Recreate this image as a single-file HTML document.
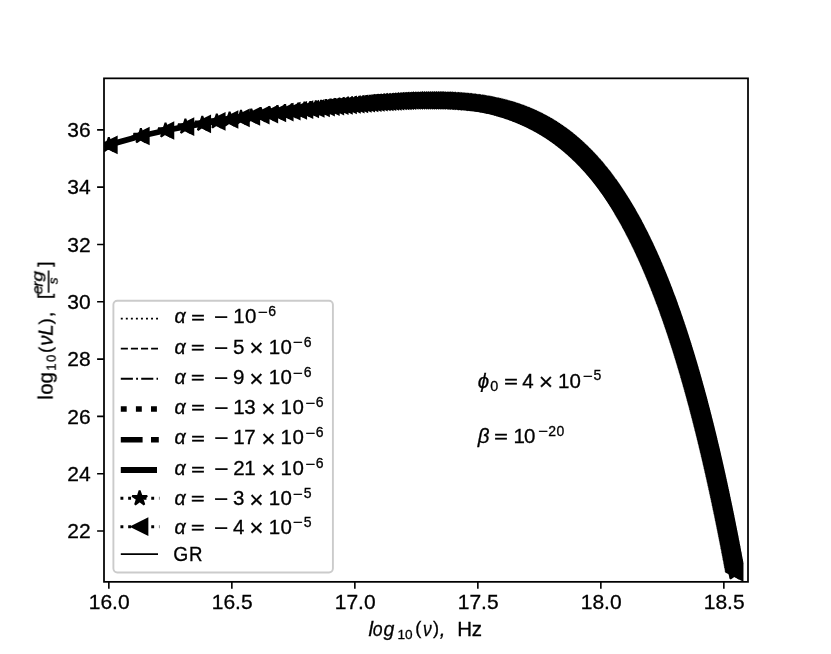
<!DOCTYPE html>
<html><head><meta charset="utf-8"><title>log10(nuL) spectrum</title>
<style>html,body{margin:0;padding:0;background:#fff}svg{display:block}text{will-change:transform}text{font-family:'Liberation Sans',sans-serif;fill:#000;stroke:#000;stroke-width:.3px}</style>
</head><body>
<svg width="831" height="654" viewBox="0 0 831 654">
<rect width="831" height="654" fill="#fff"/>
<defs><clipPath id="ax"><rect x="104.0" y="78.35" width="644.0" height="503.5"/></clipPath></defs>
<g clip-path="url(#ax)">
<path d="M108.8 144.9 140.9 136 165.5 130.5 185.4 126.7 202.3 123.8 216.8 121.4 229.6 119.5 241 117.9 251.3 116.4 260.7 115.2 269.4 114.1 277.4 113 284.8 112.1 291.8 111.2 298.3 110.4 304.5 109.7 310.3 109 315.8 108.4 321.1 107.8 326.1 107.2 330.8 106.7 335.4 106.2 339.8 105.7 344 105.3 348.1 104.9 352 104.5 355.7 104.2 359.4 103.8 362.9 103.5 366.3 103.2 369.6 102.9 372.8 102.7 375.9 102.4 378.9 102.2 381.9 102 384.7 101.8 387.5 101.6 390.2 101.4 392.9 101.3 395.5 101.1 398 101 400.4 100.9 402.9 100.8 405.2 100.7 407.5 100.6 409.8 100.5 412 100.5 414.1 100.4 416.3 100.4 418.3 100.3 420.4 100.3 422.4 100.3 424.4 100.3 426.3 100.3 428.2 100.3 430 100.3 431.9 100.3 433.7 100.4 435.4 100.4 437.2 100.5 438.9 100.5 440.6 100.6 442.2 100.6 443.9 100.7 445.5 100.8 447.1 100.9 448.6 101 450.2 101.1 451.7 101.2 453.2 101.3 454.7 101.4 456.1 101.5 457.6 101.7 459 101.8 460.4 101.9 461.8 102.1 463.1 102.2 464.5 102.4 465.8 102.5 467.1 102.7 468.4 102.8 469.7 103 471 103.2 472.2 103.4 473.4 103.5 474.7 103.7 475.9 103.9 477.1 104.1 478.3 104.3 479.4 104.5 480.6 104.7 481.7 104.9 482.9 105.1 484 105.4 485.1 105.6 486.2 105.8 487.3 106 488.3 106.3 489.4 106.5 490.5 106.7 491.5 107 492.5 107.2 493.6 107.5 494.6 107.7 495.6 108 496.6 108.2 497.6 108.5 498.5 108.7 499.5 109 500.5 109.3 501.4 109.5 502.4 109.8 503.3 110.1 504.2 110.4 505.1 110.7 506.1 110.9 507 111.2 507.8 111.5 508.7 111.8 509.6 112.1 510.5 112.4 511.4 112.7 512.2 113 513.1 113.3 513.9 113.6 514.8 113.9 515.6 114.2 516.4 114.5 517.2 114.8 518 115.2 518.8 115.5 519.7 115.8 520.4 116.1 521.2 116.4 522 116.8 522.8 117.1 523.6 117.4 524.3 117.8 525.1 118.1 525.9 118.4 526.6 118.8 527.3 119.1 528.1 119.4 528.8 119.8 529.6 120.1 530.3 120.5 531 120.8 531.7 121.2 532.4 121.5 533.1 121.9 533.8 122.2 534.5 122.6 535.2 123 535.9 123.3 536.6 123.7 537.3 124 537.9 124.4 538.6 124.8 539.3 125.1 539.9 125.5 540.6 125.9 541.3 126.2 541.9 126.6 542.5 127 543.2 127.4 543.8 127.7 544.5 128.1 545.1 128.5 545.7 128.9 546.3 129.3 547 129.7 547.6 130 548.2 130.4 548.8 130.8 549.4 131.2 550 131.6 550.6 132 551.2 132.4 551.8 132.8 552.4 133.2 553 133.6 553.6 134 554.1 134.4 554.7 134.8 555.3 135.2 555.9 135.6 556.4 136 557 136.4 557.5 136.8 558.1 137.2 558.7 137.6 559.2 138 559.8 138.4 560.3 138.8 560.9 139.2 561.4 139.7 561.9 140.1 562.5 140.5 563 140.9 563.5 141.3 564.1 141.7 564.6 142.2 565.1 142.6 565.6 143 566.1 143.4 566.7 143.9 567.2 144.3 567.7 144.7 568.2 145.1 568.7 145.6 569.2 146 569.7 146.4 570.2 146.8 570.7 147.3 571.2 147.7 571.7 148.1 572.2 148.6 572.7 149 573.1 149.4 573.6 149.9 574.1 150.3 574.6 150.8 575.1 151.2 575.5 151.6 576 152.1 576.5 152.5 576.9 153 577.4 153.4 577.9 153.8 578.3 154.3 578.8 154.7 579.3 155.2 579.7 155.6 580.2 156.1 580.6 156.5 581.1 157 581.5 157.4 582 157.9 582.4 158.3 582.8 158.8 583.3 159.2 583.7 159.7 584.2 160.1 584.6 160.6 585 161 585.5 161.5 585.9 161.9 586.3 162.4 586.8 162.9 587.2 163.3 587.6 163.8 588 164.2 588.4 164.7 588.9 165.2 589.3 165.6 589.7 166.1 590.1 166.5 590.5 167 590.9 167.5 591.3 167.9 591.7 168.4 592.2 168.9 592.6 169.3 593 169.8 593.4 170.3 593.8 170.7 594.2 171.2 594.6 171.7 594.9 172.2 595.3 172.6 595.7 173.1 596.1 173.6 596.5 174 596.9 174.5 597.3 175 597.7 175.5 598.1 175.9 598.4 176.4 598.8 176.9 599.2 177.4 599.6 177.8 600 178.3 600.3 178.8 600.7 179.3 601.1 179.7 601.5 180.2 601.8 180.7 602.2 181.2 602.6 181.7 602.9 182.1 603.3 182.6 603.7 183.1 604 183.6 604.4 184.1 604.7 184.6 605.1 185 605.5 185.5 605.8 186 606.2 186.5 606.5 187 606.9 187.5 607.2 188 607.6 188.4 607.9 188.9 608.3 189.4 609 190.4 609.7 191.4 610.3 192.4 611 193.3 611.7 194.3 612.4 195.3 613 196.3 613.7 197.3 614.4 198.3 615 199.3 615.7 200.3 616.3 201.3 617 202.3 617.6 203.3 618.2 204.3 618.9 205.3 619.5 206.3 620.1 207.3 620.8 208.3 621.4 209.3 622 210.3 622.6 211.3 623.2 212.3 623.8 213.3 624.4 214.4 625 215.4 625.6 216.4 626.2 217.4 626.8 218.4 627.4 219.5 627.9 220.5 628.5 221.5 629.1 222.5 629.7 223.5 630.2 224.6 630.8 225.6 631.4 226.6 631.9 227.7 632.5 228.7 633 229.7 633.6 230.8 634.1 231.8 634.7 232.8 635.2 233.9 635.8 234.9 636.3 236 636.8 237 637.4 238 637.9 239.1 638.4 240.1 638.9 241.2 639.5 242.2 640 243.3 640.5 244.3 641 245.4 641.5 246.4 642 247.5 642.5 248.5 643 249.6 643.5 250.6 644 251.7 644.5 252.7 645 253.8 645.5 254.8 646 255.9 646.5 257 647 258 647.5 259.1 648 260.1 648.4 261.2 648.9 262.3 649.4 263.3 649.9 264.4 650.3 265.4 650.8 266.5 651.3 267.6 651.7 268.7 652.2 269.7 652.7 270.8 653.1 271.9 653.6 272.9 654 274 654.5 275.1 654.9 276.1 655.4 277.2 655.8 278.3 656.3 279.4 656.7 280.4 657.2 281.5 657.6 282.6 658 283.7 658.5 284.8 658.9 285.8 659.3 286.9 659.8 288 660.2 289.1 660.6 290.2 661 291.2 661.5 292.3 661.9 293.4 662.3 294.5 662.7 295.6 663.2 296.7 663.6 297.7 664 298.8 664.4 299.9 664.8 301 665.2 302.1 665.6 303.2 666 304.3 666.4 305.4 666.8 306.4 667.2 307.5 667.6 308.6 668 309.7 668.4 310.8 668.8 311.9 669.2 313 669.6 314.1 670 315.2 670.4 316.3 670.8 317.4 671.2 318.5 671.6 319.6 671.9 320.7 672.3 321.8 672.7 322.9 673.1 324 673.5 325.1 673.8 326.2 674.2 327.3 674.6 328.4 675 329.5 675.3 330.6 675.7 331.7 676.1 332.8 676.5 333.9 676.8 335 677.2 336.1 677.6 337.2 677.9 338.3 678.3 339.4 678.6 340.5 679 341.6 679.4 342.7 679.7 343.8 680.1 344.9 680.4 346 680.8 347.1 681.1 348.3 681.5 349.4 681.8 350.5 682.2 351.6 682.5 352.7 682.9 353.8 683.2 354.9 683.6 356 683.9 357.1 684.3 358.2 684.6 359.4 684.9 360.5 685.3 361.6 685.6 362.7 686 363.8 686.3 364.9 686.6 366 687 367.2 687.3 368.3 687.6 369.4 688 370.5 688.3 371.6 688.6 372.7 688.9 373.9 689.3 375 689.6 376.1 689.9 377.2 690.2 378.3 690.6 379.4 690.9 380.6 691.2 381.7 691.5 382.8 691.8 383.9 692.2 385 692.5 386.2 692.8 387.3 693.1 388.4 693.4 389.5 693.7 390.6 694.1 391.8 694.4 392.9 694.7 394 695 395.1 695.3 396.3 695.6 397.4 695.9 398.5 696.2 399.6 696.5 400.8 696.8 401.9 697.1 403 697.4 404.1 697.7 405.3 698 406.4 698.3 407.5 698.6 408.6 698.9 409.8 699.2 410.9 699.5 412 699.8 413.1 700.1 414.3 700.4 415.4 700.7 416.5 701 417.7 701.3 418.8 701.6 419.9 701.9 421 702.2 422.2 702.4 423.3 702.7 424.4 703 425.6 703.3 426.7 703.6 427.8 703.9 429 704.2 430.1 704.4 431.2 704.7 432.4 705 433.5 705.3 434.6 705.6 435.7 705.9 436.9 706.1 438 706.4 439.1 706.7 440.3 707 441.4 707.2 442.5 707.5 443.7 707.8 444.8 708.1 446 708.3 447.1 708.6 448.2 708.9 449.4 709.2 450.5 709.4 451.6 709.7 452.8 710 453.9 710.2 455 710.5 456.2 710.8 457.3 711 458.4 711.3 459.6 711.6 460.7 711.8 461.9 712.1 463 712.4 464.1 712.6 465.3 712.9 466.4 713.1 467.5 713.4 468.7 713.7 469.8 713.9 471 714.2 472.1 714.4 473.2 714.7 474.4 715 475.5 715.2 476.7 715.5 477.8 715.7 478.9 716 480.1 716.2 481.2 716.5 482.4 716.7 483.5 717 484.6 717.2 485.8 717.5 486.9 717.7 488.1 718 489.2 718.2 490.3 718.5 491.5 718.7 492.6 719 493.8 719.2 494.9 719.5 496.1 719.7 497.2 720 498.3 720.2 499.5 720.5 500.6 720.7 501.8 720.9 502.9 721.2 504.1 721.4 505.2 721.7 506.3 721.9 507.5 722.1 508.6 722.4 509.8 722.6 510.9 722.9 512.1 723.1 513.2 723.3 514.4 723.6 515.5 723.8 516.6 724 517.8 724.3 518.9 724.5 520.1 724.8 521.2 725 522.4 725.2 523.5 725.5 524.7 725.7 525.8 725.9 527 726.1 528.1 726.4 529.2 726.6 530.4 726.8 531.5 727.1 532.7 727.3 533.8 727.5 535 727.8 536.1 728 537.3 728.2 538.4 728.4 539.6 728.7 540.7 728.9 541.9 729.1 543 729.3 544.2 729.6 545.3 729.8 546.5 730 547.6 730.2 548.8 730.4 549.9 730.7 551.1 730.9 552.2 731.1 553.4 731.3 554.5 731.6 555.7 731.8 556.8 732 558 732.2 559.1 732.4 560.3 732.6 561.4 732.9 562.6 733.1 563.7 733.3 564.9 733.5 566 733.7 567.2 733.9 568.3 734.2 569.5 734.4 570.6 734.6 571.8 734.7 572.3" fill="none" stroke="#000" stroke-width="5.83" stroke-linejoin="round"/>
<path d="M101.1 144.9l15.6-7.8v15.6zM133.1 136l15.6-7.8v15.6zM157.7 130.5l15.6-7.8v15.6zM177.7 126.7l15.6-7.8v15.6zM194.5 123.8l15.6-7.8v15.6zM209 121.4l15.6-7.8v15.6zM221.8 119.5l15.6-7.8v15.6zM233.2 117.9l15.6-7.8v15.6zM243.6 116.4l15.6-7.8v15.6zM253 115.2l15.6-7.8v15.6zM261.6 114.1l15.6-7.8v15.6zM269.6 113l15.6-7.8v15.6zM277 112.1l15.6-7.8v15.6zM284 111.2l15.6-7.8v15.6zM290.5 110.4l15.6-7.8v15.6zM296.7 109.7l15.6-7.8v15.6zM302.5 109l15.6-7.8v15.6zM308 108.4l15.6-7.8v15.6zM313.3 107.8l15.6-7.8v15.6zM318.3 107.2l15.6-7.8v15.6zM323.1 106.7l15.6-7.8v15.6zM327.6 106.2l15.6-7.8v15.6zM332 105.7l15.6-7.8v15.6zM336.2 105.3l15.6-7.8v15.6zM340.3 104.9l15.6-7.8v15.6zM344.2 104.5l15.6-7.8v15.6zM348 104.2l15.6-7.8v15.6zM351.6 103.8l15.6-7.8v15.6zM355.1 103.5l15.6-7.8v15.6zM358.5 103.2l15.6-7.8v15.6zM361.8 102.9l15.6-7.8v15.6zM365 102.7l15.6-7.8v15.6zM368.1 102.4l15.6-7.8v15.6zM371.2 102.2l15.6-7.8v15.6zM374.1 102l15.6-7.8v15.6zM377 101.8l15.6-7.8v15.6zM379.7 101.6l15.6-7.8v15.6zM382.5 101.4l15.6-7.8v15.6zM385.1 101.3l15.6-7.8v15.6zM387.7 101.1l15.6-7.8v15.6zM390.2 101l15.6-7.8v15.6zM392.7 100.9l15.6-7.8v15.6zM395.1 100.8l15.6-7.8v15.6zM397.4 100.7l15.6-7.8v15.6zM399.7 100.6l15.6-7.8v15.6zM402 100.5l15.6-7.8v15.6zM404.2 100.5l15.6-7.8v15.6zM406.4 100.4l15.6-7.8v15.6zM408.5 100.4l15.6-7.8v15.6zM410.6 100.3l15.6-7.8v15.6zM412.6 100.3l15.6-7.8v15.6zM414.6 100.3l15.6-7.8v15.6zM416.6 100.3l15.6-7.8v15.6zM418.5 100.3l15.6-7.8v15.6zM420.4 100.3l15.6-7.8v15.6zM422.3 100.3l15.6-7.8v15.6zM424.1 100.3l15.6-7.8v15.6zM425.9 100.4l15.6-7.8v15.6zM427.7 100.4l15.6-7.8v15.6zM429.4 100.5l15.6-7.8v15.6zM431.1 100.5l15.6-7.8v15.6zM432.8 100.6l15.6-7.8v15.6zM434.5 100.6l15.6-7.8v15.6zM436.1 100.7l15.6-7.8v15.6zM437.7 100.8l15.6-7.8v15.6zM439.3 100.9l15.6-7.8v15.6zM440.9 101l15.6-7.8v15.6zM442.4 101.1l15.6-7.8v15.6zM443.9 101.2l15.6-7.8v15.6zM445.4 101.3l15.6-7.8v15.6zM446.9 101.4l15.6-7.8v15.6zM448.3 101.5l15.6-7.8v15.6zM449.8 101.7l15.6-7.8v15.6zM451.2 101.8l15.6-7.8v15.6zM452.6 101.9l15.6-7.8v15.6zM454 102.1l15.6-7.8v15.6zM455.3 102.2l15.6-7.8v15.6zM456.7 102.4l15.6-7.8v15.6zM458 102.5l15.6-7.8v15.6zM459.3 102.7l15.6-7.8v15.6zM460.6 102.8l15.6-7.8v15.6zM461.9 103l15.6-7.8v15.6zM463.2 103.2l15.6-7.8v15.6zM464.4 103.4l15.6-7.8v15.6zM465.7 103.5l15.6-7.8v15.6zM466.9 103.7l15.6-7.8v15.6zM468.1 103.9l15.6-7.8v15.6zM469.3 104.1l15.6-7.8v15.6zM470.5 104.3l15.6-7.8v15.6zM471.6 104.5l15.6-7.8v15.6zM472.8 104.7l15.6-7.8v15.6zM473.9 104.9l15.6-7.8v15.6zM475.1 105.1l15.6-7.8v15.6zM476.2 105.4l15.6-7.8v15.6zM477.3 105.6l15.6-7.8v15.6zM478.4 105.8l15.6-7.8v15.6zM479.5 106l15.6-7.8v15.6zM480.6 106.3l15.6-7.8v15.6zM481.6 106.5l15.6-7.8v15.6zM482.7 106.7l15.6-7.8v15.6zM483.7 107l15.6-7.8v15.6zM484.8 107.2l15.6-7.8v15.6zM485.8 107.5l15.6-7.8v15.6zM486.8 107.7l15.6-7.8v15.6zM487.8 108l15.6-7.8v15.6zM488.8 108.2l15.6-7.8v15.6zM489.8 108.5l15.6-7.8v15.6zM490.8 108.7l15.6-7.8v15.6zM491.7 109l15.6-7.8v15.6zM492.7 109.3l15.6-7.8v15.6zM493.6 109.5l15.6-7.8v15.6zM494.6 109.8l15.6-7.8v15.6zM495.5 110.1l15.6-7.8v15.6zM496.4 110.4l15.6-7.8v15.6zM497.4 110.7l15.6-7.8v15.6zM498.3 110.9l15.6-7.8v15.6zM499.2 111.2l15.6-7.8v15.6zM500.1 111.5l15.6-7.8v15.6zM501 111.8l15.6-7.8v15.6zM501.8 112.1l15.6-7.8v15.6zM502.7 112.4l15.6-7.8v15.6zM503.6 112.7l15.6-7.8v15.6zM504.4 113l15.6-7.8v15.6zM505.3 113.3l15.6-7.8v15.6zM506.1 113.6l15.6-7.8v15.6zM507 113.9l15.6-7.8v15.6zM507.8 114.2l15.6-7.8v15.6zM508.6 114.5l15.6-7.8v15.6zM509.5 114.8l15.6-7.8v15.6zM510.3 115.2l15.6-7.8v15.6zM511.1 115.5l15.6-7.8v15.6zM511.9 115.8l15.6-7.8v15.6zM512.7 116.1l15.6-7.8v15.6zM513.5 116.4l15.6-7.8v15.6zM514.2 116.8l15.6-7.8v15.6zM515 117.1l15.6-7.8v15.6zM515.8 117.4l15.6-7.8v15.6zM516.6 117.8l15.6-7.8v15.6zM517.3 118.1l15.6-7.8v15.6zM518.1 118.4l15.6-7.8v15.6zM518.8 118.8l15.6-7.8v15.6zM519.6 119.1l15.6-7.8v15.6zM520.3 119.4l15.6-7.8v15.6zM521 119.8l15.6-7.8v15.6zM521.8 120.1l15.6-7.8v15.6zM522.5 120.5l15.6-7.8v15.6zM523.2 120.8l15.6-7.8v15.6zM523.9 121.2l15.6-7.8v15.6zM524.6 121.5l15.6-7.8v15.6zM525.4 121.9l15.6-7.8v15.6zM526.1 122.2l15.6-7.8v15.6zM526.7 122.6l15.6-7.8v15.6zM527.4 123l15.6-7.8v15.6zM528.1 123.3l15.6-7.8v15.6zM528.8 123.7l15.6-7.8v15.6zM529.5 124l15.6-7.8v15.6zM530.2 124.4l15.6-7.8v15.6zM530.8 124.8l15.6-7.8v15.6zM531.5 125.1l15.6-7.8v15.6zM532.2 125.5l15.6-7.8v15.6zM532.8 125.9l15.6-7.8v15.6zM533.5 126.2l15.6-7.8v15.6zM534.1 126.6l15.6-7.8v15.6zM534.8 127l15.6-7.8v15.6zM535.4 127.4l15.6-7.8v15.6zM536.1 127.7l15.6-7.8v15.6zM536.7 128.1l15.6-7.8v15.6zM537.3 128.5l15.6-7.8v15.6zM537.9 128.9l15.6-7.8v15.6zM538.6 129.3l15.6-7.8v15.6zM539.2 129.7l15.6-7.8v15.6zM539.8 130l15.6-7.8v15.6zM540.4 130.4l15.6-7.8v15.6zM541 130.8l15.6-7.8v15.6zM541.6 131.2l15.6-7.8v15.6zM542.2 131.6l15.6-7.8v15.6zM542.8 132l15.6-7.8v15.6zM543.4 132.4l15.6-7.8v15.6zM544 132.8l15.6-7.8v15.6zM544.6 133.2l15.6-7.8v15.6zM545.2 133.6l15.6-7.8v15.6zM545.8 134l15.6-7.8v15.6zM546.4 134.4l15.6-7.8v15.6zM546.9 134.8l15.6-7.8v15.6zM547.5 135.2l15.6-7.8v15.6zM548.1 135.6l15.6-7.8v15.6zM548.6 136l15.6-7.8v15.6zM549.2 136.4l15.6-7.8v15.6zM549.8 136.8l15.6-7.8v15.6zM550.3 137.2l15.6-7.8v15.6zM550.9 137.6l15.6-7.8v15.6zM551.4 138l15.6-7.8v15.6zM552 138.4l15.6-7.8v15.6zM552.5 138.8l15.6-7.8v15.6zM553.1 139.2l15.6-7.8v15.6zM553.6 139.7l15.6-7.8v15.6zM554.2 140.1l15.6-7.8v15.6zM554.7 140.5l15.6-7.8v15.6zM555.2 140.9l15.6-7.8v15.6zM555.8 141.3l15.6-7.8v15.6zM556.3 141.7l15.6-7.8v15.6zM556.8 142.2l15.6-7.8v15.6zM557.3 142.6l15.6-7.8v15.6zM557.9 143l15.6-7.8v15.6zM558.4 143.4l15.6-7.8v15.6zM558.9 143.9l15.6-7.8v15.6zM559.4 144.3l15.6-7.8v15.6zM559.9 144.7l15.6-7.8v15.6zM560.4 145.1l15.6-7.8v15.6zM560.9 145.6l15.6-7.8v15.6zM561.4 146l15.6-7.8v15.6zM561.9 146.4l15.6-7.8v15.6zM562.4 146.8l15.6-7.8v15.6zM562.9 147.3l15.6-7.8v15.6zM563.4 147.7l15.6-7.8v15.6zM563.9 148.1l15.6-7.8v15.6zM564.4 148.6l15.6-7.8v15.6zM564.9 149l15.6-7.8v15.6zM565.4 149.4l15.6-7.8v15.6zM565.9 149.9l15.6-7.8v15.6zM566.3 150.3l15.6-7.8v15.6zM566.8 150.8l15.6-7.8v15.6zM567.3 151.2l15.6-7.8v15.6zM567.8 151.6l15.6-7.8v15.6zM568.2 152.1l15.6-7.8v15.6zM568.7 152.5l15.6-7.8v15.6zM569.2 153l15.6-7.8v15.6zM569.6 153.4l15.6-7.8v15.6zM570.1 153.8l15.6-7.8v15.6zM570.6 154.3l15.6-7.8v15.6zM571 154.7l15.6-7.8v15.6zM571.5 155.2l15.6-7.8v15.6zM571.9 155.6l15.6-7.8v15.6zM572.4 156.1l15.6-7.8v15.6zM572.8 156.5l15.6-7.8v15.6zM573.3 157l15.6-7.8v15.6zM573.7 157.4l15.6-7.8v15.6zM574.2 157.9l15.6-7.8v15.6zM574.6 158.3l15.6-7.8v15.6zM575.1 158.8l15.6-7.8v15.6zM575.5 159.2l15.6-7.8v15.6zM576 159.7l15.6-7.8v15.6zM576.4 160.1l15.6-7.8v15.6zM576.8 160.6l15.6-7.8v15.6zM577.3 161l15.6-7.8v15.6zM577.7 161.5l15.6-7.8v15.6zM578.1 161.9l15.6-7.8v15.6zM578.5 162.4l15.6-7.8v15.6zM579 162.9l15.6-7.8v15.6zM579.4 163.3l15.6-7.8v15.6zM579.8 163.8l15.6-7.8v15.6zM580.2 164.2l15.6-7.8v15.6zM580.7 164.7l15.6-7.8v15.6zM581.1 165.2l15.6-7.8v15.6zM581.5 165.6l15.6-7.8v15.6zM581.9 166.1l15.6-7.8v15.6zM582.3 166.5l15.6-7.8v15.6zM582.7 167l15.6-7.8v15.6zM583.2 167.5l15.6-7.8v15.6zM583.6 167.9l15.6-7.8v15.6zM584 168.4l15.6-7.8v15.6zM584.4 168.9l15.6-7.8v15.6zM584.8 169.3l15.6-7.8v15.6zM585.2 169.8l15.6-7.8v15.6zM585.6 170.3l15.6-7.8v15.6zM586 170.7l15.6-7.8v15.6zM586.4 171.2l15.6-7.8v15.6zM586.8 171.7l15.6-7.8v15.6zM587.2 172.2l15.6-7.8v15.6zM587.6 172.6l15.6-7.8v15.6zM588 173.1l15.6-7.8v15.6zM588.3 173.6l15.6-7.8v15.6zM588.7 174l15.6-7.8v15.6zM589.1 174.5l15.6-7.8v15.6zM589.5 175l15.6-7.8v15.6zM589.9 175.5l15.6-7.8v15.6zM590.3 175.9l15.6-7.8v15.6zM590.7 176.4l15.6-7.8v15.6zM591 176.9l15.6-7.8v15.6zM591.4 177.4l15.6-7.8v15.6zM591.8 177.8l15.6-7.8v15.6zM592.2 178.3l15.6-7.8v15.6zM592.6 178.8l15.6-7.8v15.6zM592.9 179.3l15.6-7.8v15.6zM593.3 179.7l15.6-7.8v15.6zM593.7 180.2l15.6-7.8v15.6zM594 180.7l15.6-7.8v15.6zM594.4 181.2l15.6-7.8v15.6zM594.8 181.7l15.6-7.8v15.6zM595.1 182.1l15.6-7.8v15.6zM595.5 182.6l15.6-7.8v15.6zM595.9 183.1l15.6-7.8v15.6zM596.2 183.6l15.6-7.8v15.6zM596.6 184.1l15.6-7.8v15.6zM597 184.6l15.6-7.8v15.6zM597.3 185l15.6-7.8v15.6zM597.7 185.5l15.6-7.8v15.6zM598 186l15.6-7.8v15.6zM598.4 186.5l15.6-7.8v15.6zM598.7 187l15.6-7.8v15.6zM599.1 187.5l15.6-7.8v15.6zM599.5 188l15.6-7.8v15.6zM599.8 188.4l15.6-7.8v15.6zM600.2 188.9l15.6-7.8v15.6zM600.5 189.4l15.6-7.8v15.6zM600.8 189.9l15.6-7.8v15.6zM601.2 190.4l15.6-7.8v15.6zM601.5 190.9l15.6-7.8v15.6zM601.9 191.4l15.6-7.8v15.6zM602.2 191.9l15.6-7.8v15.6zM602.6 192.4l15.6-7.8v15.6zM602.9 192.9l15.6-7.8v15.6zM603.3 193.3l15.6-7.8v15.6zM603.6 193.8l15.6-7.8v15.6zM603.9 194.3l15.6-7.8v15.6zM604.3 194.8l15.6-7.8v15.6zM604.6 195.3l15.6-7.8v15.6zM604.9 195.8l15.6-7.8v15.6zM605.3 196.3l15.6-7.8v15.6zM605.6 196.8l15.6-7.8v15.6zM605.9 197.3l15.6-7.8v15.6zM606.3 197.8l15.6-7.8v15.6zM606.6 198.3l15.6-7.8v15.6zM606.9 198.8l15.6-7.8v15.6zM607.2 199.3l15.6-7.8v15.6zM607.6 199.8l15.6-7.8v15.6zM607.9 200.3l15.6-7.8v15.6zM608.2 200.8l15.6-7.8v15.6zM608.5 201.3l15.6-7.8v15.6zM608.9 201.8l15.6-7.8v15.6zM609.2 202.3l15.6-7.8v15.6zM609.5 202.8l15.6-7.8v15.6zM609.8 203.3l15.6-7.8v15.6zM610.1 203.8l15.6-7.8v15.6zM610.5 204.3l15.6-7.8v15.6zM610.8 204.8l15.6-7.8v15.6zM611.1 205.3l15.6-7.8v15.6zM611.4 205.8l15.6-7.8v15.6zM611.7 206.3l15.6-7.8v15.6zM612 206.8l15.6-7.8v15.6zM612.4 207.3l15.6-7.8v15.6zM612.7 207.8l15.6-7.8v15.6zM613 208.3l15.6-7.8v15.6zM613.3 208.8l15.6-7.8v15.6zM613.6 209.3l15.6-7.8v15.6zM613.9 209.8l15.6-7.8v15.6zM614.2 210.3l15.6-7.8v15.6zM614.5 210.8l15.6-7.8v15.6zM614.8 211.3l15.6-7.8v15.6zM615.1 211.8l15.6-7.8v15.6zM615.4 212.3l15.6-7.8v15.6zM615.7 212.8l15.6-7.8v15.6zM616 213.3l15.6-7.8v15.6zM616.3 213.9l15.6-7.8v15.6zM616.6 214.4l15.6-7.8v15.6zM616.9 214.9l15.6-7.8v15.6zM617.2 215.4l15.6-7.8v15.6zM617.5 215.9l15.6-7.8v15.6zM617.8 216.4l15.6-7.8v15.6zM618.1 216.9l15.6-7.8v15.6zM618.4 217.4l15.6-7.8v15.6zM618.7 217.9l15.6-7.8v15.6zM619 218.4l15.6-7.8v15.6zM619.3 218.9l15.6-7.8v15.6zM619.6 219.5l15.6-7.8v15.6zM619.9 220l15.6-7.8v15.6zM620.2 220.5l15.6-7.8v15.6zM620.5 221l15.6-7.8v15.6zM620.7 221.5l15.6-7.8v15.6zM621 222l15.6-7.8v15.6zM621.3 222.5l15.6-7.8v15.6zM621.6 223l15.6-7.8v15.6zM621.9 223.5l15.6-7.8v15.6zM622.2 224.1l15.6-7.8v15.6zM622.5 224.6l15.6-7.8v15.6zM622.7 225.1l15.6-7.8v15.6zM623 225.6l15.6-7.8v15.6zM623.3 226.1l15.6-7.8v15.6zM623.6 226.6l15.6-7.8v15.6zM623.9 227.2l15.6-7.8v15.6zM624.1 227.7l15.6-7.8v15.6zM624.4 228.2l15.6-7.8v15.6zM624.7 228.7l15.6-7.8v15.6zM625 229.2l15.6-7.8v15.6zM625.3 229.7l15.6-7.8v15.6zM625.5 230.2l15.6-7.8v15.6zM625.8 230.8l15.6-7.8v15.6zM626.1 231.3l15.6-7.8v15.6zM626.4 231.8l15.6-7.8v15.6zM626.6 232.3l15.6-7.8v15.6zM626.9 232.8l15.6-7.8v15.6zM627.2 233.4l15.6-7.8v15.6zM627.4 233.9l15.6-7.8v15.6zM627.7 234.4l15.6-7.8v15.6zM628 234.9l15.6-7.8v15.6zM628.2 235.4l15.6-7.8v15.6zM628.5 236l15.6-7.8v15.6zM628.8 236.5l15.6-7.8v15.6zM629.1 237l15.6-7.8v15.6zM629.3 237.5l15.6-7.8v15.6zM629.6 238l15.6-7.8v15.6zM629.8 238.6l15.6-7.8v15.6zM630.1 239.1l15.6-7.8v15.6zM630.4 239.6l15.6-7.8v15.6zM630.6 240.1l15.6-7.8v15.6zM630.9 240.6l15.6-7.8v15.6zM631.2 241.2l15.6-7.8v15.6zM631.4 241.7l15.6-7.8v15.6zM631.7 242.2l15.6-7.8v15.6zM631.9 242.7l15.6-7.8v15.6zM632.2 243.3l15.6-7.8v15.6zM632.5 243.8l15.6-7.8v15.6zM632.7 244.3l15.6-7.8v15.6zM633 244.8l15.6-7.8v15.6zM633.2 245.4l15.6-7.8v15.6zM633.5 245.9l15.6-7.8v15.6zM633.7 246.4l15.6-7.8v15.6zM634 246.9l15.6-7.8v15.6zM634.3 247.5l15.6-7.8v15.6zM634.5 248l15.6-7.8v15.6zM634.8 248.5l15.6-7.8v15.6zM635 249l15.6-7.8v15.6zM635.3 249.6l15.6-7.8v15.6zM635.5 250.1l15.6-7.8v15.6zM635.8 250.6l15.6-7.8v15.6zM636 251.1l15.6-7.8v15.6zM636.3 251.7l15.6-7.8v15.6zM636.5 252.2l15.6-7.8v15.6zM636.8 252.7l15.6-7.8v15.6zM637 253.2l15.6-7.8v15.6zM637.3 253.8l15.6-7.8v15.6zM637.5 254.3l15.6-7.8v15.6zM637.7 254.8l15.6-7.8v15.6zM638 255.4l15.6-7.8v15.6zM638.2 255.9l15.6-7.8v15.6zM638.5 256.4l15.6-7.8v15.6zM638.7 257l15.6-7.8v15.6zM639 257.5l15.6-7.8v15.6zM639.2 258l15.6-7.8v15.6zM639.5 258.5l15.6-7.8v15.6zM639.7 259.1l15.6-7.8v15.6zM639.9 259.6l15.6-7.8v15.6zM640.2 260.1l15.6-7.8v15.6zM640.4 260.7l15.6-7.8v15.6zM640.7 261.2l15.6-7.8v15.6zM640.9 261.7l15.6-7.8v15.6zM641.1 262.3l15.6-7.8v15.6zM641.4 262.8l15.6-7.8v15.6zM641.6 263.3l15.6-7.8v15.6zM641.8 263.9l15.6-7.8v15.6zM642.1 264.4l15.6-7.8v15.6zM642.3 264.9l15.6-7.8v15.6zM642.6 265.4l15.6-7.8v15.6zM642.8 266l15.6-7.8v15.6zM643 266.5l15.6-7.8v15.6zM643.3 267l15.6-7.8v15.6zM643.5 267.6l15.6-7.8v15.6zM643.7 268.1l15.6-7.8v15.6zM644 268.7l15.6-7.8v15.6zM644.2 269.2l15.6-7.8v15.6zM644.4 269.7l15.6-7.8v15.6zM644.6 270.3l15.6-7.8v15.6zM644.9 270.8l15.6-7.8v15.6zM645.1 271.3l15.6-7.8v15.6zM645.3 271.9l15.6-7.8v15.6zM645.6 272.4l15.6-7.8v15.6zM645.8 272.9l15.6-7.8v15.6zM646 273.5l15.6-7.8v15.6zM646.2 274l15.6-7.8v15.6zM646.5 274.5l15.6-7.8v15.6zM646.7 275.1l15.6-7.8v15.6zM646.9 275.6l15.6-7.8v15.6zM647.1 276.1l15.6-7.8v15.6zM647.4 276.7l15.6-7.8v15.6zM647.6 277.2l15.6-7.8v15.6zM647.8 277.8l15.6-7.8v15.6zM648 278.3l15.6-7.8v15.6zM648.3 278.8l15.6-7.8v15.6zM648.5 279.4l15.6-7.8v15.6zM648.7 279.9l15.6-7.8v15.6zM648.9 280.4l15.6-7.8v15.6zM649.2 281l15.6-7.8v15.6zM649.4 281.5l15.6-7.8v15.6zM649.6 282.1l15.6-7.8v15.6zM649.8 282.6l15.6-7.8v15.6zM650 283.1l15.6-7.8v15.6zM650.3 283.7l15.6-7.8v15.6zM650.5 284.2l15.6-7.8v15.6zM650.7 284.8l15.6-7.8v15.6zM650.9 285.3l15.6-7.8v15.6zM651.1 285.8l15.6-7.8v15.6zM651.3 286.4l15.6-7.8v15.6zM651.6 286.9l15.6-7.8v15.6zM651.8 287.4l15.6-7.8v15.6zM652 288l15.6-7.8v15.6zM652.2 288.5l15.6-7.8v15.6zM652.4 289.1l15.6-7.8v15.6zM652.6 289.6l15.6-7.8v15.6zM652.8 290.2l15.6-7.8v15.6zM653.1 290.7l15.6-7.8v15.6zM653.3 291.2l15.6-7.8v15.6zM653.5 291.8l15.6-7.8v15.6zM653.7 292.3l15.6-7.8v15.6zM653.9 292.9l15.6-7.8v15.6zM654.1 293.4l15.6-7.8v15.6zM654.3 293.9l15.6-7.8v15.6zM654.5 294.5l15.6-7.8v15.6zM654.7 295l15.6-7.8v15.6zM655 295.6l15.6-7.8v15.6zM655.2 296.1l15.6-7.8v15.6zM655.4 296.7l15.6-7.8v15.6zM655.6 297.2l15.6-7.8v15.6zM655.8 297.7l15.6-7.8v15.6zM656 298.3l15.6-7.8v15.6zM656.2 298.8l15.6-7.8v15.6zM656.4 299.4l15.6-7.8v15.6zM656.6 299.9l15.6-7.8v15.6zM656.8 300.5l15.6-7.8v15.6zM657 301l15.6-7.8v15.6zM657.2 301.5l15.6-7.8v15.6zM657.4 302.1l15.6-7.8v15.6zM657.6 302.6l15.6-7.8v15.6zM657.8 303.2l15.6-7.8v15.6zM658 303.7l15.6-7.8v15.6zM658.3 304.3l15.6-7.8v15.6zM658.5 304.8l15.6-7.8v15.6zM658.7 305.4l15.6-7.8v15.6zM658.9 305.9l15.6-7.8v15.6zM659.1 306.4l15.6-7.8v15.6zM659.3 307l15.6-7.8v15.6zM659.5 307.5l15.6-7.8v15.6zM659.7 308.1l15.6-7.8v15.6zM659.9 308.6l15.6-7.8v15.6zM660.1 309.2l15.6-7.8v15.6zM660.3 309.7l15.6-7.8v15.6zM660.5 310.3l15.6-7.8v15.6zM660.7 310.8l15.6-7.8v15.6zM660.9 311.4l15.6-7.8v15.6zM661.1 311.9l15.6-7.8v15.6zM661.3 312.5l15.6-7.8v15.6zM661.4 313l15.6-7.8v15.6zM661.6 313.5l15.6-7.8v15.6zM661.8 314.1l15.6-7.8v15.6zM662 314.6l15.6-7.8v15.6zM662.2 315.2l15.6-7.8v15.6zM662.4 315.7l15.6-7.8v15.6zM662.6 316.3l15.6-7.8v15.6zM662.8 316.8l15.6-7.8v15.6zM663 317.4l15.6-7.8v15.6zM663.2 317.9l15.6-7.8v15.6zM663.4 318.5l15.6-7.8v15.6zM663.6 319l15.6-7.8v15.6zM663.8 319.6l15.6-7.8v15.6zM664 320.1l15.6-7.8v15.6zM664.2 320.7l15.6-7.8v15.6zM664.4 321.2l15.6-7.8v15.6zM664.6 321.8l15.6-7.8v15.6zM664.7 322.3l15.6-7.8v15.6zM664.9 322.9l15.6-7.8v15.6zM665.1 323.4l15.6-7.8v15.6zM665.3 324l15.6-7.8v15.6zM665.5 324.5l15.6-7.8v15.6zM665.7 325.1l15.6-7.8v15.6zM665.9 325.6l15.6-7.8v15.6zM666.1 326.2l15.6-7.8v15.6zM666.3 326.7l15.6-7.8v15.6zM666.4 327.3l15.6-7.8v15.6zM666.6 327.8l15.6-7.8v15.6zM666.8 328.4l15.6-7.8v15.6zM667 328.9l15.6-7.8v15.6zM667.2 329.5l15.6-7.8v15.6zM667.4 330l15.6-7.8v15.6zM667.6 330.6l15.6-7.8v15.6zM667.8 331.1l15.6-7.8v15.6zM667.9 331.7l15.6-7.8v15.6zM668.1 332.2l15.6-7.8v15.6zM668.3 332.8l15.6-7.8v15.6zM668.5 333.3l15.6-7.8v15.6zM668.7 333.9l15.6-7.8v15.6zM668.9 334.4l15.6-7.8v15.6zM669 335l15.6-7.8v15.6zM669.2 335.5l15.6-7.8v15.6zM669.4 336.1l15.6-7.8v15.6zM669.6 336.6l15.6-7.8v15.6zM669.8 337.2l15.6-7.8v15.6zM670 337.7l15.6-7.8v15.6zM670.1 338.3l15.6-7.8v15.6zM670.3 338.8l15.6-7.8v15.6zM670.5 339.4l15.6-7.8v15.6zM670.7 339.9l15.6-7.8v15.6zM670.9 340.5l15.6-7.8v15.6zM671 341.1l15.6-7.8v15.6zM671.2 341.6l15.6-7.8v15.6zM671.4 342.2l15.6-7.8v15.6zM671.6 342.7l15.6-7.8v15.6zM671.8 343.3l15.6-7.8v15.6zM671.9 343.8l15.6-7.8v15.6zM672.1 344.4l15.6-7.8v15.6zM672.3 344.9l15.6-7.8v15.6zM672.5 345.5l15.6-7.8v15.6zM672.6 346l15.6-7.8v15.6zM672.8 346.6l15.6-7.8v15.6zM673 347.1l15.6-7.8v15.6zM673.2 347.7l15.6-7.8v15.6zM673.4 348.3l15.6-7.8v15.6zM673.5 348.8l15.6-7.8v15.6zM673.7 349.4l15.6-7.8v15.6zM673.9 349.9l15.6-7.8v15.6zM674.1 350.5l15.6-7.8v15.6zM674.2 351l15.6-7.8v15.6zM674.4 351.6l15.6-7.8v15.6zM674.6 352.1l15.6-7.8v15.6zM674.8 352.7l15.6-7.8v15.6zM674.9 353.2l15.6-7.8v15.6zM675.1 353.8l15.6-7.8v15.6zM675.3 354.4l15.6-7.8v15.6zM675.4 354.9l15.6-7.8v15.6zM675.6 355.5l15.6-7.8v15.6zM675.8 356l15.6-7.8v15.6zM676 356.6l15.6-7.8v15.6zM676.1 357.1l15.6-7.8v15.6zM676.3 357.7l15.6-7.8v15.6zM676.5 358.2l15.6-7.8v15.6zM676.6 358.8l15.6-7.8v15.6zM676.8 359.4l15.6-7.8v15.6zM677 359.9l15.6-7.8v15.6zM677.2 360.5l15.6-7.8v15.6zM677.3 361l15.6-7.8v15.6zM677.5 361.6l15.6-7.8v15.6zM677.7 362.1l15.6-7.8v15.6zM677.8 362.7l15.6-7.8v15.6zM678 363.3l15.6-7.8v15.6zM678.2 363.8l15.6-7.8v15.6zM678.3 364.4l15.6-7.8v15.6zM678.5 364.9l15.6-7.8v15.6zM678.7 365.5l15.6-7.8v15.6zM678.8 366l15.6-7.8v15.6zM679 366.6l15.6-7.8v15.6zM679.2 367.2l15.6-7.8v15.6zM679.3 367.7l15.6-7.8v15.6zM679.5 368.3l15.6-7.8v15.6zM679.7 368.8l15.6-7.8v15.6zM679.8 369.4l15.6-7.8v15.6zM680 369.9l15.6-7.8v15.6zM680.2 370.5l15.6-7.8v15.6zM680.3 371.1l15.6-7.8v15.6zM680.5 371.6l15.6-7.8v15.6zM680.7 372.2l15.6-7.8v15.6zM680.8 372.7l15.6-7.8v15.6zM681 373.3l15.6-7.8v15.6zM681.2 373.9l15.6-7.8v15.6zM681.3 374.4l15.6-7.8v15.6zM681.5 375l15.6-7.8v15.6zM681.7 375.5l15.6-7.8v15.6zM681.8 376.1l15.6-7.8v15.6zM682 376.6l15.6-7.8v15.6zM682.1 377.2l15.6-7.8v15.6zM682.3 377.8l15.6-7.8v15.6zM682.5 378.3l15.6-7.8v15.6zM682.6 378.9l15.6-7.8v15.6zM682.8 379.4l15.6-7.8v15.6zM682.9 380l15.6-7.8v15.6zM683.1 380.6l15.6-7.8v15.6zM683.3 381.1l15.6-7.8v15.6zM683.4 381.7l15.6-7.8v15.6zM683.6 382.2l15.6-7.8v15.6zM683.7 382.8l15.6-7.8v15.6zM683.9 383.4l15.6-7.8v15.6zM684.1 383.9l15.6-7.8v15.6zM684.2 384.5l15.6-7.8v15.6zM684.4 385l15.6-7.8v15.6zM684.5 385.6l15.6-7.8v15.6zM684.7 386.2l15.6-7.8v15.6zM684.9 386.7l15.6-7.8v15.6zM685 387.3l15.6-7.8v15.6zM685.2 387.8l15.6-7.8v15.6zM685.3 388.4l15.6-7.8v15.6zM685.5 389l15.6-7.8v15.6zM685.6 389.5l15.6-7.8v15.6zM685.8 390.1l15.6-7.8v15.6zM686 390.6l15.6-7.8v15.6zM686.1 391.2l15.6-7.8v15.6zM686.3 391.8l15.6-7.8v15.6zM686.4 392.3l15.6-7.8v15.6zM686.6 392.9l15.6-7.8v15.6zM686.7 393.5l15.6-7.8v15.6zM686.9 394l15.6-7.8v15.6zM687 394.6l15.6-7.8v15.6zM687.2 395.1l15.6-7.8v15.6zM687.4 395.7l15.6-7.8v15.6zM687.5 396.3l15.6-7.8v15.6zM687.7 396.8l15.6-7.8v15.6zM687.8 397.4l15.6-7.8v15.6zM688 397.9l15.6-7.8v15.6zM688.1 398.5l15.6-7.8v15.6zM688.3 399.1l15.6-7.8v15.6zM688.4 399.6l15.6-7.8v15.6zM688.6 400.2l15.6-7.8v15.6zM688.7 400.8l15.6-7.8v15.6zM688.9 401.3l15.6-7.8v15.6zM689 401.9l15.6-7.8v15.6zM689.2 402.4l15.6-7.8v15.6zM689.3 403l15.6-7.8v15.6zM689.5 403.6l15.6-7.8v15.6zM689.7 404.1l15.6-7.8v15.6zM689.8 404.7l15.6-7.8v15.6zM690 405.3l15.6-7.8v15.6zM690.1 405.8l15.6-7.8v15.6zM690.3 406.4l15.6-7.8v15.6zM690.4 406.9l15.6-7.8v15.6zM690.6 407.5l15.6-7.8v15.6zM690.7 408.1l15.6-7.8v15.6zM690.9 408.6l15.6-7.8v15.6zM691 409.2l15.6-7.8v15.6zM691.2 409.8l15.6-7.8v15.6zM691.3 410.3l15.6-7.8v15.6zM691.4 410.9l15.6-7.8v15.6zM691.6 411.5l15.6-7.8v15.6zM691.7 412l15.6-7.8v15.6zM691.9 412.6l15.6-7.8v15.6zM692 413.1l15.6-7.8v15.6zM692.2 413.7l15.6-7.8v15.6zM692.3 414.3l15.6-7.8v15.6zM692.5 414.8l15.6-7.8v15.6zM692.6 415.4l15.6-7.8v15.6zM692.8 416l15.6-7.8v15.6zM692.9 416.5l15.6-7.8v15.6zM693.1 417.1l15.6-7.8v15.6zM693.2 417.7l15.6-7.8v15.6zM693.4 418.2l15.6-7.8v15.6zM693.5 418.8l15.6-7.8v15.6zM693.7 419.4l15.6-7.8v15.6zM693.8 419.9l15.6-7.8v15.6zM693.9 420.5l15.6-7.8v15.6zM694.1 421l15.6-7.8v15.6zM694.2 421.6l15.6-7.8v15.6zM694.4 422.2l15.6-7.8v15.6zM694.5 422.7l15.6-7.8v15.6zM694.7 423.3l15.6-7.8v15.6zM694.8 423.9l15.6-7.8v15.6zM695 424.4l15.6-7.8v15.6zM695.1 425l15.6-7.8v15.6zM695.2 425.6l15.6-7.8v15.6zM695.4 426.1l15.6-7.8v15.6zM695.5 426.7l15.6-7.8v15.6zM695.7 427.3l15.6-7.8v15.6zM695.8 427.8l15.6-7.8v15.6zM696 428.4l15.6-7.8v15.6zM696.1 429l15.6-7.8v15.6zM696.2 429.5l15.6-7.8v15.6zM696.4 430.1l15.6-7.8v15.6zM696.5 430.7l15.6-7.8v15.6zM696.7 431.2l15.6-7.8v15.6zM696.8 431.8l15.6-7.8v15.6zM697 432.4l15.6-7.8v15.6zM697.1 432.9l15.6-7.8v15.6zM697.2 433.5l15.6-7.8v15.6zM697.4 434.1l15.6-7.8v15.6zM697.5 434.6l15.6-7.8v15.6zM697.7 435.2l15.6-7.8v15.6zM697.8 435.7l15.6-7.8v15.6zM697.9 436.3l15.6-7.8v15.6zM698.1 436.9l15.6-7.8v15.6zM698.2 437.4l15.6-7.8v15.6zM698.4 438l15.6-7.8v15.6zM698.5 438.6l15.6-7.8v15.6zM698.6 439.1l15.6-7.8v15.6zM698.8 439.7l15.6-7.8v15.6zM698.9 440.3l15.6-7.8v15.6zM699 440.8l15.6-7.8v15.6zM699.2 441.4l15.6-7.8v15.6zM699.3 442l15.6-7.8v15.6zM699.5 442.5l15.6-7.8v15.6zM699.6 443.1l15.6-7.8v15.6zM699.7 443.7l15.6-7.8v15.6zM699.9 444.2l15.6-7.8v15.6zM700 444.8l15.6-7.8v15.6zM700.2 445.4l15.6-7.8v15.6zM700.3 446l15.6-7.8v15.6zM700.4 446.5l15.6-7.8v15.6zM700.6 447.1l15.6-7.8v15.6zM700.7 447.7l15.6-7.8v15.6zM700.8 448.2l15.6-7.8v15.6zM701 448.8l15.6-7.8v15.6zM701.1 449.4l15.6-7.8v15.6zM701.2 449.9l15.6-7.8v15.6zM701.4 450.5l15.6-7.8v15.6zM701.5 451.1l15.6-7.8v15.6zM701.6 451.6l15.6-7.8v15.6zM701.8 452.2l15.6-7.8v15.6zM701.9 452.8l15.6-7.8v15.6zM702.1 453.3l15.6-7.8v15.6zM702.2 453.9l15.6-7.8v15.6zM702.3 454.5l15.6-7.8v15.6zM702.5 455l15.6-7.8v15.6zM702.6 455.6l15.6-7.8v15.6zM702.7 456.2l15.6-7.8v15.6zM702.9 456.7l15.6-7.8v15.6zM703 457.3l15.6-7.8v15.6zM703.1 457.9l15.6-7.8v15.6zM703.3 458.4l15.6-7.8v15.6zM703.4 459l15.6-7.8v15.6zM703.5 459.6l15.6-7.8v15.6zM703.7 460.1l15.6-7.8v15.6zM703.8 460.7l15.6-7.8v15.6zM703.9 461.3l15.6-7.8v15.6zM704.1 461.9l15.6-7.8v15.6zM704.2 462.4l15.6-7.8v15.6zM704.3 463l15.6-7.8v15.6zM704.4 463.6l15.6-7.8v15.6zM704.6 464.1l15.6-7.8v15.6zM704.7 464.7l15.6-7.8v15.6zM704.8 465.3l15.6-7.8v15.6zM705 465.8l15.6-7.8v15.6zM705.1 466.4l15.6-7.8v15.6zM705.2 467l15.6-7.8v15.6zM705.4 467.5l15.6-7.8v15.6zM705.5 468.1l15.6-7.8v15.6zM705.6 468.7l15.6-7.8v15.6zM705.8 469.2l15.6-7.8v15.6zM705.9 469.8l15.6-7.8v15.6zM706 470.4l15.6-7.8v15.6zM706.1 471l15.6-7.8v15.6zM706.3 471.5l15.6-7.8v15.6zM706.4 472.1l15.6-7.8v15.6zM706.5 472.7l15.6-7.8v15.6zM706.7 473.2l15.6-7.8v15.6zM706.8 473.8l15.6-7.8v15.6zM706.9 474.4l15.6-7.8v15.6zM707 474.9l15.6-7.8v15.6zM707.2 475.5l15.6-7.8v15.6zM707.3 476.1l15.6-7.8v15.6zM707.4 476.7l15.6-7.8v15.6zM707.6 477.2l15.6-7.8v15.6zM707.7 477.8l15.6-7.8v15.6zM707.8 478.4l15.6-7.8v15.6zM707.9 478.9l15.6-7.8v15.6zM708.1 479.5l15.6-7.8v15.6zM708.2 480.1l15.6-7.8v15.6zM708.3 480.6l15.6-7.8v15.6zM708.5 481.2l15.6-7.8v15.6zM708.6 481.8l15.6-7.8v15.6zM708.7 482.4l15.6-7.8v15.6zM708.8 482.9l15.6-7.8v15.6zM709 483.5l15.6-7.8v15.6zM709.1 484.1l15.6-7.8v15.6zM709.2 484.6l15.6-7.8v15.6zM709.3 485.2l15.6-7.8v15.6zM709.5 485.8l15.6-7.8v15.6zM709.6 486.3l15.6-7.8v15.6zM709.7 486.9l15.6-7.8v15.6zM709.8 487.5l15.6-7.8v15.6zM710 488.1l15.6-7.8v15.6zM710.1 488.6l15.6-7.8v15.6zM710.2 489.2l15.6-7.8v15.6zM710.3 489.8l15.6-7.8v15.6zM710.5 490.3l15.6-7.8v15.6zM710.6 490.9l15.6-7.8v15.6zM710.7 491.5l15.6-7.8v15.6zM710.8 492.1l15.6-7.8v15.6zM711 492.6l15.6-7.8v15.6zM711.1 493.2l15.6-7.8v15.6zM711.2 493.8l15.6-7.8v15.6zM711.3 494.3l15.6-7.8v15.6zM711.4 494.9l15.6-7.8v15.6zM711.6 495.5l15.6-7.8v15.6zM711.7 496.1l15.6-7.8v15.6zM711.8 496.6l15.6-7.8v15.6zM711.9 497.2l15.6-7.8v15.6zM712.1 497.8l15.6-7.8v15.6zM712.2 498.3l15.6-7.8v15.6zM712.3 498.9l15.6-7.8v15.6zM712.4 499.5l15.6-7.8v15.6zM712.6 500.1l15.6-7.8v15.6zM712.7 500.6l15.6-7.8v15.6zM712.8 501.2l15.6-7.8v15.6zM712.9 501.8l15.6-7.8v15.6zM713 502.3l15.6-7.8v15.6zM713.2 502.9l15.6-7.8v15.6zM713.3 503.5l15.6-7.8v15.6zM713.4 504.1l15.6-7.8v15.6zM713.5 504.6l15.6-7.8v15.6zM713.6 505.2l15.6-7.8v15.6zM713.8 505.8l15.6-7.8v15.6zM713.9 506.3l15.6-7.8v15.6zM714 506.9l15.6-7.8v15.6zM714.1 507.5l15.6-7.8v15.6zM714.2 508.1l15.6-7.8v15.6zM714.4 508.6l15.6-7.8v15.6zM714.5 509.2l15.6-7.8v15.6zM714.6 509.8l15.6-7.8v15.6zM714.7 510.3l15.6-7.8v15.6zM714.8 510.9l15.6-7.8v15.6zM715 511.5l15.6-7.8v15.6zM715.1 512.1l15.6-7.8v15.6zM715.2 512.6l15.6-7.8v15.6zM715.3 513.2l15.6-7.8v15.6zM715.4 513.8l15.6-7.8v15.6zM715.6 514.4l15.6-7.8v15.6zM715.7 514.9l15.6-7.8v15.6zM715.8 515.5l15.6-7.8v15.6zM715.9 516.1l15.6-7.8v15.6zM716 516.6l15.6-7.8v15.6zM716.2 517.2l15.6-7.8v15.6zM716.3 517.8l15.6-7.8v15.6zM716.4 518.4l15.6-7.8v15.6zM716.5 518.9l15.6-7.8v15.6zM716.6 519.5l15.6-7.8v15.6zM716.7 520.1l15.6-7.8v15.6zM716.9 520.7l15.6-7.8v15.6zM717 521.2l15.6-7.8v15.6zM717.1 521.8l15.6-7.8v15.6zM717.2 522.4l15.6-7.8v15.6zM717.3 522.9l15.6-7.8v15.6zM717.4 523.5l15.6-7.8v15.6zM717.6 524.1l15.6-7.8v15.6zM717.7 524.7l15.6-7.8v15.6zM717.8 525.2l15.6-7.8v15.6zM717.9 525.8l15.6-7.8v15.6zM718 526.4l15.6-7.8v15.6zM718.1 527l15.6-7.8v15.6zM718.3 527.5l15.6-7.8v15.6zM718.4 528.1l15.6-7.8v15.6zM718.5 528.7l15.6-7.8v15.6zM718.6 529.2l15.6-7.8v15.6zM718.7 529.8l15.6-7.8v15.6zM718.8 530.4l15.6-7.8v15.6zM718.9 531l15.6-7.8v15.6zM719.1 531.5l15.6-7.8v15.6zM719.2 532.1l15.6-7.8v15.6zM719.3 532.7l15.6-7.8v15.6zM719.4 533.3l15.6-7.8v15.6zM719.5 533.8l15.6-7.8v15.6zM719.6 534.4l15.6-7.8v15.6zM719.7 535l15.6-7.8v15.6zM719.9 535.6l15.6-7.8v15.6zM720 536.1l15.6-7.8v15.6zM720.1 536.7l15.6-7.8v15.6zM720.2 537.3l15.6-7.8v15.6zM720.3 537.9l15.6-7.8v15.6zM720.4 538.4l15.6-7.8v15.6zM720.5 539l15.6-7.8v15.6zM720.7 539.6l15.6-7.8v15.6zM720.8 540.1l15.6-7.8v15.6zM720.9 540.7l15.6-7.8v15.6zM721 541.3l15.6-7.8v15.6zM721.1 541.9l15.6-7.8v15.6zM721.2 542.4l15.6-7.8v15.6zM721.3 543l15.6-7.8v15.6zM721.4 543.6l15.6-7.8v15.6zM721.6 544.2l15.6-7.8v15.6zM721.7 544.7l15.6-7.8v15.6zM721.8 545.3l15.6-7.8v15.6zM721.9 545.9l15.6-7.8v15.6zM722 546.5l15.6-7.8v15.6zM722.1 547l15.6-7.8v15.6zM722.2 547.6l15.6-7.8v15.6zM722.3 548.2l15.6-7.8v15.6zM722.4 548.8l15.6-7.8v15.6zM722.6 549.3l15.6-7.8v15.6zM722.7 549.9l15.6-7.8v15.6zM722.8 550.5l15.6-7.8v15.6zM722.9 551.1l15.6-7.8v15.6zM723 551.6l15.6-7.8v15.6zM723.1 552.2l15.6-7.8v15.6zM723.2 552.8l15.6-7.8v15.6zM723.3 553.4l15.6-7.8v15.6zM723.4 553.9l15.6-7.8v15.6zM723.6 554.5l15.6-7.8v15.6zM723.7 555.1l15.6-7.8v15.6zM723.8 555.7l15.6-7.8v15.6zM723.9 556.2l15.6-7.8v15.6zM724 556.8l15.6-7.8v15.6zM724.1 557.4l15.6-7.8v15.6zM724.2 558l15.6-7.8v15.6zM724.3 558.5l15.6-7.8v15.6zM724.4 559.1l15.6-7.8v15.6zM724.5 559.7l15.6-7.8v15.6zM724.6 560.3l15.6-7.8v15.6zM724.8 560.8l15.6-7.8v15.6zM724.9 561.4l15.6-7.8v15.6zM725 562l15.6-7.8v15.6zM725.1 562.6l15.6-7.8v15.6zM725.2 563.1l15.6-7.8v15.6zM725.3 563.7l15.6-7.8v15.6zM725.4 564.3l15.6-7.8v15.6zM725.5 564.9l15.6-7.8v15.6zM725.6 565.4l15.6-7.8v15.6zM725.7 566l15.6-7.8v15.6zM725.8 566.6l15.6-7.8v15.6zM725.9 567.2l15.6-7.8v15.6zM726.1 567.7l15.6-7.8v15.6zM726.2 568.3l15.6-7.8v15.6zM726.3 568.9l15.6-7.8v15.6zM726.4 569.5l15.6-7.8v15.6zM726.5 570l15.6-7.8v15.6zM726.6 570.6l15.6-7.8v15.6zM726.7 571.2l15.6-7.8v15.6zM726.8 571.8l15.6-7.8v15.6zM726.9 572.3l15.6-7.8v15.6z" fill="#000" stroke="#000" stroke-width="1.94" stroke-linejoin="miter"/>
<path d="M108.8 137.2l-1.7 5.4-5.7-0 4.6 3.3-1.7 5.4 4.6-3.3 4.6 3.3-1.7-5.4 4.6-3.3-5.7 0zM140.9 128.3l-1.7 5.4-5.7-0 4.6 3.3-1.7 5.4 4.6-3.3 4.6 3.3-1.7-5.4 4.6-3.3-5.7 0zM165.5 122.7l-1.7 5.4-5.7-0 4.6 3.3-1.7 5.4 4.6-3.3 4.6 3.3-1.7-5.4 4.6-3.3-5.7 0zM185.4 118.9l-1.7 5.4-5.7-0 4.6 3.3-1.7 5.4 4.6-3.3 4.6 3.3-1.7-5.4 4.6-3.3-5.7 0zM202.3 116l-1.7 5.4-5.7-0 4.6 3.3-1.7 5.4 4.6-3.3 4.6 3.3-1.7-5.4 4.6-3.3-5.7 0zM216.8 113.7l-1.7 5.4-5.7-0 4.6 3.3-1.7 5.4 4.6-3.3 4.6 3.3-1.7-5.4 4.6-3.3-5.7 0zM229.6 111.7l-1.7 5.4-5.7-0 4.6 3.3-1.7 5.4 4.6-3.3 4.6 3.3-1.7-5.4 4.6-3.3-5.7 0zM241 110.1l-1.7 5.4-5.7-0 4.6 3.3-1.7 5.4 4.6-3.3 4.6 3.3-1.7-5.4 4.6-3.3-5.7 0zM251.3 108.7l-1.7 5.4-5.7-0 4.6 3.3-1.7 5.4 4.6-3.3 4.6 3.3-1.7-5.4 4.6-3.3-5.7 0zM260.7 107.4l-1.7 5.4-5.7-0 4.6 3.3-1.7 5.4 4.6-3.3 4.6 3.3-1.7-5.4 4.6-3.3-5.7 0zM269.4 106.3l-1.7 5.4-5.7-0 4.6 3.3-1.7 5.4 4.6-3.3 4.6 3.3-1.7-5.4 4.6-3.3-5.7 0zM277.4 105.2l-1.7 5.4-5.7-0 4.6 3.3-1.7 5.4 4.6-3.3 4.6 3.3-1.7-5.4 4.6-3.3-5.7 0zM284.8 104.3l-1.7 5.4-5.7-0 4.6 3.3-1.7 5.4 4.6-3.3 4.6 3.3-1.7-5.4 4.6-3.3-5.7 0zM291.8 103.5l-1.7 5.4-5.7-0 4.6 3.3-1.7 5.4 4.6-3.3 4.6 3.3-1.7-5.4 4.6-3.3-5.7 0zM298.3 102.7l-1.7 5.4-5.7-0 4.6 3.3-1.7 5.4 4.6-3.3 4.6 3.3-1.7-5.4 4.6-3.3-5.7 0zM304.5 101.9l-1.7 5.4-5.7-0 4.6 3.3-1.7 5.4 4.6-3.3 4.6 3.3-1.7-5.4 4.6-3.3-5.7 0zM310.3 101.2l-1.7 5.4-5.7-0 4.6 3.3-1.7 5.4 4.6-3.3 4.6 3.3-1.7-5.4 4.6-3.3-5.7 0zM315.8 100.6l-1.7 5.4-5.7-0 4.6 3.3-1.7 5.4 4.6-3.3 4.6 3.3-1.7-5.4 4.6-3.3-5.7 0zM321.1 100l-1.7 5.4-5.7-0 4.6 3.3-1.7 5.4 4.6-3.3 4.6 3.3-1.7-5.4 4.6-3.3-5.7 0zM326.1 99.4l-1.7 5.4-5.7-0 4.6 3.3-1.7 5.4 4.6-3.3 4.6 3.3-1.7-5.4 4.6-3.3-5.7 0zM330.8 98.9l-1.7 5.4-5.7-0 4.6 3.3-1.7 5.4 4.6-3.3 4.6 3.3-1.7-5.4 4.6-3.3-5.7 0zM335.4 98.4l-1.7 5.4-5.7-0 4.6 3.3-1.7 5.4 4.6-3.3 4.6 3.3-1.7-5.4 4.6-3.3-5.7 0zM339.8 98l-1.7 5.4-5.7-0 4.6 3.3-1.7 5.4 4.6-3.3 4.6 3.3-1.7-5.4 4.6-3.3-5.7 0zM344 97.5l-1.7 5.4-5.7-0 4.6 3.3-1.7 5.4 4.6-3.3 4.6 3.3-1.7-5.4 4.6-3.3-5.7 0zM348.1 97.1l-1.7 5.4-5.7-0 4.6 3.3-1.7 5.4 4.6-3.3 4.6 3.3-1.7-5.4 4.6-3.3-5.7 0zM352 96.7l-1.7 5.4-5.7-0 4.6 3.3-1.7 5.4 4.6-3.3 4.6 3.3-1.7-5.4 4.6-3.3-5.7 0zM355.7 96.4l-1.7 5.4-5.7-0 4.6 3.3-1.7 5.4 4.6-3.3 4.6 3.3-1.7-5.4 4.6-3.3-5.7 0zM359.4 96l-1.7 5.4-5.7-0 4.6 3.3-1.7 5.4 4.6-3.3 4.6 3.3-1.7-5.4 4.6-3.3-5.7 0zM362.9 95.7l-1.7 5.4-5.7-0 4.6 3.3-1.7 5.4 4.6-3.3 4.6 3.3-1.7-5.4 4.6-3.3-5.7 0zM366.3 95.4l-1.7 5.4-5.7-0 4.6 3.3-1.7 5.4 4.6-3.3 4.6 3.3-1.7-5.4 4.6-3.3-5.7 0zM369.6 95.1l-1.7 5.4-5.7-0 4.6 3.3-1.7 5.4 4.6-3.3 4.6 3.3-1.7-5.4 4.6-3.3-5.7 0zM372.8 94.9l-1.7 5.4-5.7-0 4.6 3.3-1.7 5.4 4.6-3.3 4.6 3.3-1.7-5.4 4.6-3.3-5.7 0zM375.9 94.6l-1.7 5.4-5.7-0 4.6 3.3-1.7 5.4 4.6-3.3 4.6 3.3-1.7-5.4 4.6-3.3-5.7 0zM378.9 94.4l-1.7 5.4-5.7-0 4.6 3.3-1.7 5.4 4.6-3.3 4.6 3.3-1.7-5.4 4.6-3.3-5.7 0zM381.9 94.2l-1.7 5.4-5.7-0 4.6 3.3-1.7 5.4 4.6-3.3 4.6 3.3-1.7-5.4 4.6-3.3-5.7 0zM384.7 94l-1.7 5.4-5.7-0 4.6 3.3-1.7 5.4 4.6-3.3 4.6 3.3-1.7-5.4 4.6-3.3-5.7 0zM387.5 93.8l-1.7 5.4-5.7-0 4.6 3.3-1.7 5.4 4.6-3.3 4.6 3.3-1.7-5.4 4.6-3.3-5.7 0zM390.2 93.7l-1.7 5.4-5.7-0 4.6 3.3-1.7 5.4 4.6-3.3 4.6 3.3-1.7-5.4 4.6-3.3-5.7 0zM392.9 93.5l-1.7 5.4-5.7-0 4.6 3.3-1.7 5.4 4.6-3.3 4.6 3.3-1.7-5.4 4.6-3.3-5.7 0zM395.5 93.4l-1.7 5.4-5.7-0 4.6 3.3-1.7 5.4 4.6-3.3 4.6 3.3-1.7-5.4 4.6-3.3-5.7 0zM398 93.2l-1.7 5.4-5.7-0 4.6 3.3-1.7 5.4 4.6-3.3 4.6 3.3-1.7-5.4 4.6-3.3-5.7 0zM400.4 93.1l-1.7 5.4-5.7-0 4.6 3.3-1.7 5.4 4.6-3.3 4.6 3.3-1.7-5.4 4.6-3.3-5.7 0zM402.9 93l-1.7 5.4-5.7-0 4.6 3.3-1.7 5.4 4.6-3.3 4.6 3.3-1.7-5.4 4.6-3.3-5.7 0zM405.2 92.9l-1.7 5.4-5.7-0 4.6 3.3-1.7 5.4 4.6-3.3 4.6 3.3-1.7-5.4 4.6-3.3-5.7 0zM407.5 92.8l-1.7 5.4-5.7-0 4.6 3.3-1.7 5.4 4.6-3.3 4.6 3.3-1.7-5.4 4.6-3.3-5.7 0zM409.8 92.8l-1.7 5.4-5.7-0 4.6 3.3-1.7 5.4 4.6-3.3 4.6 3.3-1.7-5.4 4.6-3.3-5.7 0zM412 92.7l-1.7 5.4-5.7-0 4.6 3.3-1.7 5.4 4.6-3.3 4.6 3.3-1.7-5.4 4.6-3.3-5.7 0zM414.1 92.6l-1.7 5.4-5.7-0 4.6 3.3-1.7 5.4 4.6-3.3 4.6 3.3-1.7-5.4 4.6-3.3-5.7 0zM416.3 92.6l-1.7 5.4-5.7-0 4.6 3.3-1.7 5.4 4.6-3.3 4.6 3.3-1.7-5.4 4.6-3.3-5.7 0zM418.3 92.6l-1.7 5.4-5.7-0 4.6 3.3-1.7 5.4 4.6-3.3 4.6 3.3-1.7-5.4 4.6-3.3-5.7 0zM420.4 92.5l-1.7 5.4-5.7-0 4.6 3.3-1.7 5.4 4.6-3.3 4.6 3.3-1.7-5.4 4.6-3.3-5.7 0zM422.4 92.5l-1.7 5.4-5.7-0 4.6 3.3-1.7 5.4 4.6-3.3 4.6 3.3-1.7-5.4 4.6-3.3-5.7 0zM424.4 92.5l-1.7 5.4-5.7-0 4.6 3.3-1.7 5.4 4.6-3.3 4.6 3.3-1.7-5.4 4.6-3.3-5.7 0zM426.3 92.5l-1.7 5.4-5.7-0 4.6 3.3-1.7 5.4 4.6-3.3 4.6 3.3-1.7-5.4 4.6-3.3-5.7 0zM428.2 92.5l-1.7 5.4-5.7-0 4.6 3.3-1.7 5.4 4.6-3.3 4.6 3.3-1.7-5.4 4.6-3.3-5.7 0zM430 92.5l-1.7 5.4-5.7-0 4.6 3.3-1.7 5.4 4.6-3.3 4.6 3.3-1.7-5.4 4.6-3.3-5.7 0zM431.9 92.6l-1.7 5.4-5.7-0 4.6 3.3-1.7 5.4 4.6-3.3 4.6 3.3-1.7-5.4 4.6-3.3-5.7 0zM433.7 92.6l-1.7 5.4-5.7-0 4.6 3.3-1.7 5.4 4.6-3.3 4.6 3.3-1.7-5.4 4.6-3.3-5.7 0zM435.4 92.6l-1.7 5.4-5.7-0 4.6 3.3-1.7 5.4 4.6-3.3 4.6 3.3-1.7-5.4 4.6-3.3-5.7 0zM437.2 92.7l-1.7 5.4-5.7-0 4.6 3.3-1.7 5.4 4.6-3.3 4.6 3.3-1.7-5.4 4.6-3.3-5.7 0zM438.9 92.7l-1.7 5.4-5.7-0 4.6 3.3-1.7 5.4 4.6-3.3 4.6 3.3-1.7-5.4 4.6-3.3-5.7 0zM440.6 92.8l-1.7 5.4-5.7-0 4.6 3.3-1.7 5.4 4.6-3.3 4.6 3.3-1.7-5.4 4.6-3.3-5.7 0zM442.2 92.9l-1.7 5.4-5.7-0 4.6 3.3-1.7 5.4 4.6-3.3 4.6 3.3-1.7-5.4 4.6-3.3-5.7 0zM443.9 92.9l-1.7 5.4-5.7-0 4.6 3.3-1.7 5.4 4.6-3.3 4.6 3.3-1.7-5.4 4.6-3.3-5.7 0zM445.5 93l-1.7 5.4-5.7-0 4.6 3.3-1.7 5.4 4.6-3.3 4.6 3.3-1.7-5.4 4.6-3.3-5.7 0zM447.1 93.1l-1.7 5.4-5.7-0 4.6 3.3-1.7 5.4 4.6-3.3 4.6 3.3-1.7-5.4 4.6-3.3-5.7 0zM448.6 93.2l-1.7 5.4-5.7-0 4.6 3.3-1.7 5.4 4.6-3.3 4.6 3.3-1.7-5.4 4.6-3.3-5.7 0zM450.2 93.3l-1.7 5.4-5.7-0 4.6 3.3-1.7 5.4 4.6-3.3 4.6 3.3-1.7-5.4 4.6-3.3-5.7 0zM451.7 93.4l-1.7 5.4-5.7-0 4.6 3.3-1.7 5.4 4.6-3.3 4.6 3.3-1.7-5.4 4.6-3.3-5.7 0zM453.2 93.5l-1.7 5.4-5.7-0 4.6 3.3-1.7 5.4 4.6-3.3 4.6 3.3-1.7-5.4 4.6-3.3-5.7 0zM454.7 93.6l-1.7 5.4-5.7-0 4.6 3.3-1.7 5.4 4.6-3.3 4.6 3.3-1.7-5.4 4.6-3.3-5.7 0zM456.1 93.8l-1.7 5.4-5.7-0 4.6 3.3-1.7 5.4 4.6-3.3 4.6 3.3-1.7-5.4 4.6-3.3-5.7 0zM457.6 93.9l-1.7 5.4-5.7-0 4.6 3.3-1.7 5.4 4.6-3.3 4.6 3.3-1.7-5.4 4.6-3.3-5.7 0zM459 94l-1.7 5.4-5.7-0 4.6 3.3-1.7 5.4 4.6-3.3 4.6 3.3-1.7-5.4 4.6-3.3-5.7 0zM460.4 94.1l-1.7 5.4-5.7-0 4.6 3.3-1.7 5.4 4.6-3.3 4.6 3.3-1.7-5.4 4.6-3.3-5.7 0zM461.8 94.3l-1.7 5.4-5.7-0 4.6 3.3-1.7 5.4 4.6-3.3 4.6 3.3-1.7-5.4 4.6-3.3-5.7 0zM463.1 94.4l-1.7 5.4-5.7-0 4.6 3.3-1.7 5.4 4.6-3.3 4.6 3.3-1.7-5.4 4.6-3.3-5.7 0zM464.5 94.6l-1.7 5.4-5.7-0 4.6 3.3-1.7 5.4 4.6-3.3 4.6 3.3-1.7-5.4 4.6-3.3-5.7 0zM465.8 94.7l-1.7 5.4-5.7-0 4.6 3.3-1.7 5.4 4.6-3.3 4.6 3.3-1.7-5.4 4.6-3.3-5.7 0zM467.1 94.9l-1.7 5.4-5.7-0 4.6 3.3-1.7 5.4 4.6-3.3 4.6 3.3-1.7-5.4 4.6-3.3-5.7 0zM468.4 95.1l-1.7 5.4-5.7-0 4.6 3.3-1.7 5.4 4.6-3.3 4.6 3.3-1.7-5.4 4.6-3.3-5.7 0zM469.7 95.2l-1.7 5.4-5.7-0 4.6 3.3-1.7 5.4 4.6-3.3 4.6 3.3-1.7-5.4 4.6-3.3-5.7 0zM471 95.4l-1.7 5.4-5.7-0 4.6 3.3-1.7 5.4 4.6-3.3 4.6 3.3-1.7-5.4 4.6-3.3-5.7 0zM472.2 95.6l-1.7 5.4-5.7-0 4.6 3.3-1.7 5.4 4.6-3.3 4.6 3.3-1.7-5.4 4.6-3.3-5.7 0zM473.4 95.8l-1.7 5.4-5.7-0 4.6 3.3-1.7 5.4 4.6-3.3 4.6 3.3-1.7-5.4 4.6-3.3-5.7 0zM474.7 96l-1.7 5.4-5.7-0 4.6 3.3-1.7 5.4 4.6-3.3 4.6 3.3-1.7-5.4 4.6-3.3-5.7 0zM475.9 96.1l-1.7 5.4-5.7-0 4.6 3.3-1.7 5.4 4.6-3.3 4.6 3.3-1.7-5.4 4.6-3.3-5.7 0zM477.1 96.3l-1.7 5.4-5.7-0 4.6 3.3-1.7 5.4 4.6-3.3 4.6 3.3-1.7-5.4 4.6-3.3-5.7 0zM478.3 96.5l-1.7 5.4-5.7-0 4.6 3.3-1.7 5.4 4.6-3.3 4.6 3.3-1.7-5.4 4.6-3.3-5.7 0zM479.4 96.7l-1.7 5.4-5.7-0 4.6 3.3-1.7 5.4 4.6-3.3 4.6 3.3-1.7-5.4 4.6-3.3-5.7 0zM480.6 96.9l-1.7 5.4-5.7-0 4.6 3.3-1.7 5.4 4.6-3.3 4.6 3.3-1.7-5.4 4.6-3.3-5.7 0zM481.7 97.2l-1.7 5.4-5.7-0 4.6 3.3-1.7 5.4 4.6-3.3 4.6 3.3-1.7-5.4 4.6-3.3-5.7 0zM482.9 97.4l-1.7 5.4-5.7-0 4.6 3.3-1.7 5.4 4.6-3.3 4.6 3.3-1.7-5.4 4.6-3.3-5.7 0zM484 97.6l-1.7 5.4-5.7-0 4.6 3.3-1.7 5.4 4.6-3.3 4.6 3.3-1.7-5.4 4.6-3.3-5.7 0zM485.1 97.8l-1.7 5.4-5.7-0 4.6 3.3-1.7 5.4 4.6-3.3 4.6 3.3-1.7-5.4 4.6-3.3-5.7 0zM486.2 98l-1.7 5.4-5.7-0 4.6 3.3-1.7 5.4 4.6-3.3 4.6 3.3-1.7-5.4 4.6-3.3-5.7 0zM487.3 98.3l-1.7 5.4-5.7-0 4.6 3.3-1.7 5.4 4.6-3.3 4.6 3.3-1.7-5.4 4.6-3.3-5.7 0zM488.3 98.5l-1.7 5.4-5.7-0 4.6 3.3-1.7 5.4 4.6-3.3 4.6 3.3-1.7-5.4 4.6-3.3-5.7 0zM489.4 98.7l-1.7 5.4-5.7-0 4.6 3.3-1.7 5.4 4.6-3.3 4.6 3.3-1.7-5.4 4.6-3.3-5.7 0zM490.5 99l-1.7 5.4-5.7-0 4.6 3.3-1.7 5.4 4.6-3.3 4.6 3.3-1.7-5.4 4.6-3.3-5.7 0zM491.5 99.2l-1.7 5.4-5.7-0 4.6 3.3-1.7 5.4 4.6-3.3 4.6 3.3-1.7-5.4 4.6-3.3-5.7 0zM492.5 99.4l-1.7 5.4-5.7-0 4.6 3.3-1.7 5.4 4.6-3.3 4.6 3.3-1.7-5.4 4.6-3.3-5.7 0zM493.6 99.7l-1.7 5.4-5.7-0 4.6 3.3-1.7 5.4 4.6-3.3 4.6 3.3-1.7-5.4 4.6-3.3-5.7 0zM494.6 99.9l-1.7 5.4-5.7-0 4.6 3.3-1.7 5.4 4.6-3.3 4.6 3.3-1.7-5.4 4.6-3.3-5.7 0zM495.6 100.2l-1.7 5.4-5.7-0 4.6 3.3-1.7 5.4 4.6-3.3 4.6 3.3-1.7-5.4 4.6-3.3-5.7 0zM496.6 100.4l-1.7 5.4-5.7-0 4.6 3.3-1.7 5.4 4.6-3.3 4.6 3.3-1.7-5.4 4.6-3.3-5.7 0zM497.6 100.7l-1.7 5.4-5.7-0 4.6 3.3-1.7 5.4 4.6-3.3 4.6 3.3-1.7-5.4 4.6-3.3-5.7 0zM498.5 101l-1.7 5.4-5.7-0 4.6 3.3-1.7 5.4 4.6-3.3 4.6 3.3-1.7-5.4 4.6-3.3-5.7 0zM499.5 101.2l-1.7 5.4-5.7-0 4.6 3.3-1.7 5.4 4.6-3.3 4.6 3.3-1.7-5.4 4.6-3.3-5.7 0zM500.5 101.5l-1.7 5.4-5.7-0 4.6 3.3-1.7 5.4 4.6-3.3 4.6 3.3-1.7-5.4 4.6-3.3-5.7 0zM501.4 101.8l-1.7 5.4-5.7-0 4.6 3.3-1.7 5.4 4.6-3.3 4.6 3.3-1.7-5.4 4.6-3.3-5.7 0zM502.4 102l-1.7 5.4-5.7-0 4.6 3.3-1.7 5.4 4.6-3.3 4.6 3.3-1.7-5.4 4.6-3.3-5.7 0zM503.3 102.3l-1.7 5.4-5.7-0 4.6 3.3-1.7 5.4 4.6-3.3 4.6 3.3-1.7-5.4 4.6-3.3-5.7 0zM504.2 102.6l-1.7 5.4-5.7-0 4.6 3.3-1.7 5.4 4.6-3.3 4.6 3.3-1.7-5.4 4.6-3.3-5.7 0zM505.1 102.9l-1.7 5.4-5.7-0 4.6 3.3-1.7 5.4 4.6-3.3 4.6 3.3-1.7-5.4 4.6-3.3-5.7 0zM506.1 103.2l-1.7 5.4-5.7-0 4.6 3.3-1.7 5.4 4.6-3.3 4.6 3.3-1.7-5.4 4.6-3.3-5.7 0zM507 103.4l-1.7 5.4-5.7-0 4.6 3.3-1.7 5.4 4.6-3.3 4.6 3.3-1.7-5.4 4.6-3.3-5.7 0zM507.8 103.7l-1.7 5.4-5.7-0 4.6 3.3-1.7 5.4 4.6-3.3 4.6 3.3-1.7-5.4 4.6-3.3-5.7 0zM508.7 104l-1.7 5.4-5.7-0 4.6 3.3-1.7 5.4 4.6-3.3 4.6 3.3-1.7-5.4 4.6-3.3-5.7 0zM509.6 104.3l-1.7 5.4-5.7-0 4.6 3.3-1.7 5.4 4.6-3.3 4.6 3.3-1.7-5.4 4.6-3.3-5.7 0zM510.5 104.6l-1.7 5.4-5.7-0 4.6 3.3-1.7 5.4 4.6-3.3 4.6 3.3-1.7-5.4 4.6-3.3-5.7 0zM511.4 104.9l-1.7 5.4-5.7-0 4.6 3.3-1.7 5.4 4.6-3.3 4.6 3.3-1.7-5.4 4.6-3.3-5.7 0zM512.2 105.2l-1.7 5.4-5.7-0 4.6 3.3-1.7 5.4 4.6-3.3 4.6 3.3-1.7-5.4 4.6-3.3-5.7 0zM513.1 105.5l-1.7 5.4-5.7-0 4.6 3.3-1.7 5.4 4.6-3.3 4.6 3.3-1.7-5.4 4.6-3.3-5.7 0zM513.9 105.8l-1.7 5.4-5.7-0 4.6 3.3-1.7 5.4 4.6-3.3 4.6 3.3-1.7-5.4 4.6-3.3-5.7 0zM514.8 106.1l-1.7 5.4-5.7-0 4.6 3.3-1.7 5.4 4.6-3.3 4.6 3.3-1.7-5.4 4.6-3.3-5.7 0zM515.6 106.4l-1.7 5.4-5.7-0 4.6 3.3-1.7 5.4 4.6-3.3 4.6 3.3-1.7-5.4 4.6-3.3-5.7 0zM516.4 106.8l-1.7 5.4-5.7-0 4.6 3.3-1.7 5.4 4.6-3.3 4.6 3.3-1.7-5.4 4.6-3.3-5.7 0zM517.2 107.1l-1.7 5.4-5.7-0 4.6 3.3-1.7 5.4 4.6-3.3 4.6 3.3-1.7-5.4 4.6-3.3-5.7 0zM518 107.4l-1.7 5.4-5.7-0 4.6 3.3-1.7 5.4 4.6-3.3 4.6 3.3-1.7-5.4 4.6-3.3-5.7 0zM518.8 107.7l-1.7 5.4-5.7-0 4.6 3.3-1.7 5.4 4.6-3.3 4.6 3.3-1.7-5.4 4.6-3.3-5.7 0zM519.7 108l-1.7 5.4-5.7-0 4.6 3.3-1.7 5.4 4.6-3.3 4.6 3.3-1.7-5.4 4.6-3.3-5.7 0zM520.4 108.3l-1.7 5.4-5.7-0 4.6 3.3-1.7 5.4 4.6-3.3 4.6 3.3-1.7-5.4 4.6-3.3-5.7 0zM521.2 108.7l-1.7 5.4-5.7-0 4.6 3.3-1.7 5.4 4.6-3.3 4.6 3.3-1.7-5.4 4.6-3.3-5.7 0zM522 109l-1.7 5.4-5.7-0 4.6 3.3-1.7 5.4 4.6-3.3 4.6 3.3-1.7-5.4 4.6-3.3-5.7 0zM522.8 109.3l-1.7 5.4-5.7-0 4.6 3.3-1.7 5.4 4.6-3.3 4.6 3.3-1.7-5.4 4.6-3.3-5.7 0zM523.6 109.6l-1.7 5.4-5.7-0 4.6 3.3-1.7 5.4 4.6-3.3 4.6 3.3-1.7-5.4 4.6-3.3-5.7 0zM524.3 110l-1.7 5.4-5.7-0 4.6 3.3-1.7 5.4 4.6-3.3 4.6 3.3-1.7-5.4 4.6-3.3-5.7 0zM525.1 110.3l-1.7 5.4-5.7-0 4.6 3.3-1.7 5.4 4.6-3.3 4.6 3.3-1.7-5.4 4.6-3.3-5.7 0zM525.9 110.7l-1.7 5.4-5.7-0 4.6 3.3-1.7 5.4 4.6-3.3 4.6 3.3-1.7-5.4 4.6-3.3-5.7 0zM526.6 111l-1.7 5.4-5.7-0 4.6 3.3-1.7 5.4 4.6-3.3 4.6 3.3-1.7-5.4 4.6-3.3-5.7 0zM527.3 111.3l-1.7 5.4-5.7-0 4.6 3.3-1.7 5.4 4.6-3.3 4.6 3.3-1.7-5.4 4.6-3.3-5.7 0zM528.1 111.7l-1.7 5.4-5.7-0 4.6 3.3-1.7 5.4 4.6-3.3 4.6 3.3-1.7-5.4 4.6-3.3-5.7 0zM528.8 112l-1.7 5.4-5.7-0 4.6 3.3-1.7 5.4 4.6-3.3 4.6 3.3-1.7-5.4 4.6-3.3-5.7 0zM529.6 112.4l-1.7 5.4-5.7-0 4.6 3.3-1.7 5.4 4.6-3.3 4.6 3.3-1.7-5.4 4.6-3.3-5.7 0zM530.3 112.7l-1.7 5.4-5.7-0 4.6 3.3-1.7 5.4 4.6-3.3 4.6 3.3-1.7-5.4 4.6-3.3-5.7 0zM531 113.1l-1.7 5.4-5.7-0 4.6 3.3-1.7 5.4 4.6-3.3 4.6 3.3-1.7-5.4 4.6-3.3-5.7 0zM531.7 113.4l-1.7 5.4-5.7-0 4.6 3.3-1.7 5.4 4.6-3.3 4.6 3.3-1.7-5.4 4.6-3.3-5.7 0zM532.4 113.8l-1.7 5.4-5.7-0 4.6 3.3-1.7 5.4 4.6-3.3 4.6 3.3-1.7-5.4 4.6-3.3-5.7 0zM533.1 114.1l-1.7 5.4-5.7-0 4.6 3.3-1.7 5.4 4.6-3.3 4.6 3.3-1.7-5.4 4.6-3.3-5.7 0zM533.8 114.5l-1.7 5.4-5.7-0 4.6 3.3-1.7 5.4 4.6-3.3 4.6 3.3-1.7-5.4 4.6-3.3-5.7 0zM534.5 114.8l-1.7 5.4-5.7-0 4.6 3.3-1.7 5.4 4.6-3.3 4.6 3.3-1.7-5.4 4.6-3.3-5.7 0zM535.2 115.2l-1.7 5.4-5.7-0 4.6 3.3-1.7 5.4 4.6-3.3 4.6 3.3-1.7-5.4 4.6-3.3-5.7 0zM535.9 115.5l-1.7 5.4-5.7-0 4.6 3.3-1.7 5.4 4.6-3.3 4.6 3.3-1.7-5.4 4.6-3.3-5.7 0zM536.6 115.9l-1.7 5.4-5.7-0 4.6 3.3-1.7 5.4 4.6-3.3 4.6 3.3-1.7-5.4 4.6-3.3-5.7 0zM537.3 116.3l-1.7 5.4-5.7-0 4.6 3.3-1.7 5.4 4.6-3.3 4.6 3.3-1.7-5.4 4.6-3.3-5.7 0zM537.9 116.6l-1.7 5.4-5.7-0 4.6 3.3-1.7 5.4 4.6-3.3 4.6 3.3-1.7-5.4 4.6-3.3-5.7 0zM538.6 117l-1.7 5.4-5.7-0 4.6 3.3-1.7 5.4 4.6-3.3 4.6 3.3-1.7-5.4 4.6-3.3-5.7 0zM539.3 117.4l-1.7 5.4-5.7-0 4.6 3.3-1.7 5.4 4.6-3.3 4.6 3.3-1.7-5.4 4.6-3.3-5.7 0zM539.9 117.7l-1.7 5.4-5.7-0 4.6 3.3-1.7 5.4 4.6-3.3 4.6 3.3-1.7-5.4 4.6-3.3-5.7 0zM540.6 118.1l-1.7 5.4-5.7-0 4.6 3.3-1.7 5.4 4.6-3.3 4.6 3.3-1.7-5.4 4.6-3.3-5.7 0zM541.3 118.5l-1.7 5.4-5.7-0 4.6 3.3-1.7 5.4 4.6-3.3 4.6 3.3-1.7-5.4 4.6-3.3-5.7 0zM541.9 118.8l-1.7 5.4-5.7-0 4.6 3.3-1.7 5.4 4.6-3.3 4.6 3.3-1.7-5.4 4.6-3.3-5.7 0zM542.5 119.2l-1.7 5.4-5.7-0 4.6 3.3-1.7 5.4 4.6-3.3 4.6 3.3-1.7-5.4 4.6-3.3-5.7 0zM543.2 119.6l-1.7 5.4-5.7-0 4.6 3.3-1.7 5.4 4.6-3.3 4.6 3.3-1.7-5.4 4.6-3.3-5.7 0zM543.8 120l-1.7 5.4-5.7-0 4.6 3.3-1.7 5.4 4.6-3.3 4.6 3.3-1.7-5.4 4.6-3.3-5.7 0zM544.5 120.4l-1.7 5.4-5.7-0 4.6 3.3-1.7 5.4 4.6-3.3 4.6 3.3-1.7-5.4 4.6-3.3-5.7 0zM545.1 120.7l-1.7 5.4-5.7-0 4.6 3.3-1.7 5.4 4.6-3.3 4.6 3.3-1.7-5.4 4.6-3.3-5.7 0zM545.7 121.1l-1.7 5.4-5.7-0 4.6 3.3-1.7 5.4 4.6-3.3 4.6 3.3-1.7-5.4 4.6-3.3-5.7 0zM546.3 121.5l-1.7 5.4-5.7-0 4.6 3.3-1.7 5.4 4.6-3.3 4.6 3.3-1.7-5.4 4.6-3.3-5.7 0zM547 121.9l-1.7 5.4-5.7-0 4.6 3.3-1.7 5.4 4.6-3.3 4.6 3.3-1.7-5.4 4.6-3.3-5.7 0zM547.6 122.3l-1.7 5.4-5.7-0 4.6 3.3-1.7 5.4 4.6-3.3 4.6 3.3-1.7-5.4 4.6-3.3-5.7 0zM548.2 122.7l-1.7 5.4-5.7-0 4.6 3.3-1.7 5.4 4.6-3.3 4.6 3.3-1.7-5.4 4.6-3.3-5.7 0zM548.8 123l-1.7 5.4-5.7-0 4.6 3.3-1.7 5.4 4.6-3.3 4.6 3.3-1.7-5.4 4.6-3.3-5.7 0zM549.4 123.4l-1.7 5.4-5.7-0 4.6 3.3-1.7 5.4 4.6-3.3 4.6 3.3-1.7-5.4 4.6-3.3-5.7 0zM550 123.8l-1.7 5.4-5.7-0 4.6 3.3-1.7 5.4 4.6-3.3 4.6 3.3-1.7-5.4 4.6-3.3-5.7 0zM550.6 124.2l-1.7 5.4-5.7-0 4.6 3.3-1.7 5.4 4.6-3.3 4.6 3.3-1.7-5.4 4.6-3.3-5.7 0zM551.2 124.6l-1.7 5.4-5.7-0 4.6 3.3-1.7 5.4 4.6-3.3 4.6 3.3-1.7-5.4 4.6-3.3-5.7 0zM551.8 125l-1.7 5.4-5.7-0 4.6 3.3-1.7 5.4 4.6-3.3 4.6 3.3-1.7-5.4 4.6-3.3-5.7 0zM552.4 125.4l-1.7 5.4-5.7-0 4.6 3.3-1.7 5.4 4.6-3.3 4.6 3.3-1.7-5.4 4.6-3.3-5.7 0zM553 125.8l-1.7 5.4-5.7-0 4.6 3.3-1.7 5.4 4.6-3.3 4.6 3.3-1.7-5.4 4.6-3.3-5.7 0zM553.6 126.2l-1.7 5.4-5.7-0 4.6 3.3-1.7 5.4 4.6-3.3 4.6 3.3-1.7-5.4 4.6-3.3-5.7 0zM554.1 126.6l-1.7 5.4-5.7-0 4.6 3.3-1.7 5.4 4.6-3.3 4.6 3.3-1.7-5.4 4.6-3.3-5.7 0zM554.7 127l-1.7 5.4-5.7-0 4.6 3.3-1.7 5.4 4.6-3.3 4.6 3.3-1.7-5.4 4.6-3.3-5.7 0zM555.3 127.4l-1.7 5.4-5.7-0 4.6 3.3-1.7 5.4 4.6-3.3 4.6 3.3-1.7-5.4 4.6-3.3-5.7 0zM555.9 127.8l-1.7 5.4-5.7-0 4.6 3.3-1.7 5.4 4.6-3.3 4.6 3.3-1.7-5.4 4.6-3.3-5.7 0zM556.4 128.2l-1.7 5.4-5.7-0 4.6 3.3-1.7 5.4 4.6-3.3 4.6 3.3-1.7-5.4 4.6-3.3-5.7 0zM557 128.6l-1.7 5.4-5.7-0 4.6 3.3-1.7 5.4 4.6-3.3 4.6 3.3-1.7-5.4 4.6-3.3-5.7 0zM557.5 129l-1.7 5.4-5.7-0 4.6 3.3-1.7 5.4 4.6-3.3 4.6 3.3-1.7-5.4 4.6-3.3-5.7 0zM558.1 129.4l-1.7 5.4-5.7-0 4.6 3.3-1.7 5.4 4.6-3.3 4.6 3.3-1.7-5.4 4.6-3.3-5.7 0zM558.7 129.8l-1.7 5.4-5.7-0 4.6 3.3-1.7 5.4 4.6-3.3 4.6 3.3-1.7-5.4 4.6-3.3-5.7 0zM559.2 130.2l-1.7 5.4-5.7-0 4.6 3.3-1.7 5.4 4.6-3.3 4.6 3.3-1.7-5.4 4.6-3.3-5.7 0zM559.8 130.6l-1.7 5.4-5.7-0 4.6 3.3-1.7 5.4 4.6-3.3 4.6 3.3-1.7-5.4 4.6-3.3-5.7 0zM560.3 131.1l-1.7 5.4-5.7-0 4.6 3.3-1.7 5.4 4.6-3.3 4.6 3.3-1.7-5.4 4.6-3.3-5.7 0zM560.9 131.5l-1.7 5.4-5.7-0 4.6 3.3-1.7 5.4 4.6-3.3 4.6 3.3-1.7-5.4 4.6-3.3-5.7 0zM561.4 131.9l-1.7 5.4-5.7-0 4.6 3.3-1.7 5.4 4.6-3.3 4.6 3.3-1.7-5.4 4.6-3.3-5.7 0zM561.9 132.3l-1.7 5.4-5.7-0 4.6 3.3-1.7 5.4 4.6-3.3 4.6 3.3-1.7-5.4 4.6-3.3-5.7 0zM562.5 132.7l-1.7 5.4-5.7-0 4.6 3.3-1.7 5.4 4.6-3.3 4.6 3.3-1.7-5.4 4.6-3.3-5.7 0zM563 133.1l-1.7 5.4-5.7-0 4.6 3.3-1.7 5.4 4.6-3.3 4.6 3.3-1.7-5.4 4.6-3.3-5.7 0zM563.5 133.6l-1.7 5.4-5.7-0 4.6 3.3-1.7 5.4 4.6-3.3 4.6 3.3-1.7-5.4 4.6-3.3-5.7 0zM564.1 134l-1.7 5.4-5.7-0 4.6 3.3-1.7 5.4 4.6-3.3 4.6 3.3-1.7-5.4 4.6-3.3-5.7 0zM564.6 134.4l-1.7 5.4-5.7-0 4.6 3.3-1.7 5.4 4.6-3.3 4.6 3.3-1.7-5.4 4.6-3.3-5.7 0zM565.1 134.8l-1.7 5.4-5.7-0 4.6 3.3-1.7 5.4 4.6-3.3 4.6 3.3-1.7-5.4 4.6-3.3-5.7 0zM565.6 135.2l-1.7 5.4-5.7-0 4.6 3.3-1.7 5.4 4.6-3.3 4.6 3.3-1.7-5.4 4.6-3.3-5.7 0zM566.1 135.7l-1.7 5.4-5.7-0 4.6 3.3-1.7 5.4 4.6-3.3 4.6 3.3-1.7-5.4 4.6-3.3-5.7 0zM566.7 136.1l-1.7 5.4-5.7-0 4.6 3.3-1.7 5.4 4.6-3.3 4.6 3.3-1.7-5.4 4.6-3.3-5.7 0zM567.2 136.5l-1.7 5.4-5.7-0 4.6 3.3-1.7 5.4 4.6-3.3 4.6 3.3-1.7-5.4 4.6-3.3-5.7 0zM567.7 136.9l-1.7 5.4-5.7-0 4.6 3.3-1.7 5.4 4.6-3.3 4.6 3.3-1.7-5.4 4.6-3.3-5.7 0zM568.2 137.4l-1.7 5.4-5.7-0 4.6 3.3-1.7 5.4 4.6-3.3 4.6 3.3-1.7-5.4 4.6-3.3-5.7 0zM568.7 137.8l-1.7 5.4-5.7-0 4.6 3.3-1.7 5.4 4.6-3.3 4.6 3.3-1.7-5.4 4.6-3.3-5.7 0zM569.2 138.2l-1.7 5.4-5.7-0 4.6 3.3-1.7 5.4 4.6-3.3 4.6 3.3-1.7-5.4 4.6-3.3-5.7 0zM569.7 138.6l-1.7 5.4-5.7-0 4.6 3.3-1.7 5.4 4.6-3.3 4.6 3.3-1.7-5.4 4.6-3.3-5.7 0zM570.2 139.1l-1.7 5.4-5.7-0 4.6 3.3-1.7 5.4 4.6-3.3 4.6 3.3-1.7-5.4 4.6-3.3-5.7 0zM570.7 139.5l-1.7 5.4-5.7-0 4.6 3.3-1.7 5.4 4.6-3.3 4.6 3.3-1.7-5.4 4.6-3.3-5.7 0zM571.2 139.9l-1.7 5.4-5.7-0 4.6 3.3-1.7 5.4 4.6-3.3 4.6 3.3-1.7-5.4 4.6-3.3-5.7 0zM571.7 140.4l-1.7 5.4-5.7-0 4.6 3.3-1.7 5.4 4.6-3.3 4.6 3.3-1.7-5.4 4.6-3.3-5.7 0zM572.2 140.8l-1.7 5.4-5.7-0 4.6 3.3-1.7 5.4 4.6-3.3 4.6 3.3-1.7-5.4 4.6-3.3-5.7 0zM572.7 141.2l-1.7 5.4-5.7-0 4.6 3.3-1.7 5.4 4.6-3.3 4.6 3.3-1.7-5.4 4.6-3.3-5.7 0zM573.1 141.7l-1.7 5.4-5.7-0 4.6 3.3-1.7 5.4 4.6-3.3 4.6 3.3-1.7-5.4 4.6-3.3-5.7 0zM573.6 142.1l-1.7 5.4-5.7-0 4.6 3.3-1.7 5.4 4.6-3.3 4.6 3.3-1.7-5.4 4.6-3.3-5.7 0zM574.1 142.5l-1.7 5.4-5.7-0 4.6 3.3-1.7 5.4 4.6-3.3 4.6 3.3-1.7-5.4 4.6-3.3-5.7 0zM574.6 143l-1.7 5.4-5.7-0 4.6 3.3-1.7 5.4 4.6-3.3 4.6 3.3-1.7-5.4 4.6-3.3-5.7 0zM575.1 143.4l-1.7 5.4-5.7-0 4.6 3.3-1.7 5.4 4.6-3.3 4.6 3.3-1.7-5.4 4.6-3.3-5.7 0zM575.5 143.9l-1.7 5.4-5.7-0 4.6 3.3-1.7 5.4 4.6-3.3 4.6 3.3-1.7-5.4 4.6-3.3-5.7 0zM576 144.3l-1.7 5.4-5.7-0 4.6 3.3-1.7 5.4 4.6-3.3 4.6 3.3-1.7-5.4 4.6-3.3-5.7 0zM576.5 144.7l-1.7 5.4-5.7-0 4.6 3.3-1.7 5.4 4.6-3.3 4.6 3.3-1.7-5.4 4.6-3.3-5.7 0zM576.9 145.2l-1.7 5.4-5.7-0 4.6 3.3-1.7 5.4 4.6-3.3 4.6 3.3-1.7-5.4 4.6-3.3-5.7 0zM577.4 145.6l-1.7 5.4-5.7-0 4.6 3.3-1.7 5.4 4.6-3.3 4.6 3.3-1.7-5.4 4.6-3.3-5.7 0zM577.9 146.1l-1.7 5.4-5.7-0 4.6 3.3-1.7 5.4 4.6-3.3 4.6 3.3-1.7-5.4 4.6-3.3-5.7 0zM578.3 146.5l-1.7 5.4-5.7-0 4.6 3.3-1.7 5.4 4.6-3.3 4.6 3.3-1.7-5.4 4.6-3.3-5.7 0zM578.8 147l-1.7 5.4-5.7-0 4.6 3.3-1.7 5.4 4.6-3.3 4.6 3.3-1.7-5.4 4.6-3.3-5.7 0zM579.3 147.4l-1.7 5.4-5.7-0 4.6 3.3-1.7 5.4 4.6-3.3 4.6 3.3-1.7-5.4 4.6-3.3-5.7 0zM579.7 147.8l-1.7 5.4-5.7-0 4.6 3.3-1.7 5.4 4.6-3.3 4.6 3.3-1.7-5.4 4.6-3.3-5.7 0zM580.2 148.3l-1.7 5.4-5.7-0 4.6 3.3-1.7 5.4 4.6-3.3 4.6 3.3-1.7-5.4 4.6-3.3-5.7 0zM580.6 148.7l-1.7 5.4-5.7-0 4.6 3.3-1.7 5.4 4.6-3.3 4.6 3.3-1.7-5.4 4.6-3.3-5.7 0zM581.1 149.2l-1.7 5.4-5.7-0 4.6 3.3-1.7 5.4 4.6-3.3 4.6 3.3-1.7-5.4 4.6-3.3-5.7 0zM581.5 149.6l-1.7 5.4-5.7-0 4.6 3.3-1.7 5.4 4.6-3.3 4.6 3.3-1.7-5.4 4.6-3.3-5.7 0zM582 150.1l-1.7 5.4-5.7-0 4.6 3.3-1.7 5.4 4.6-3.3 4.6 3.3-1.7-5.4 4.6-3.3-5.7 0zM582.4 150.5l-1.7 5.4-5.7-0 4.6 3.3-1.7 5.4 4.6-3.3 4.6 3.3-1.7-5.4 4.6-3.3-5.7 0zM582.8 151l-1.7 5.4-5.7-0 4.6 3.3-1.7 5.4 4.6-3.3 4.6 3.3-1.7-5.4 4.6-3.3-5.7 0zM583.3 151.4l-1.7 5.4-5.7-0 4.6 3.3-1.7 5.4 4.6-3.3 4.6 3.3-1.7-5.4 4.6-3.3-5.7 0zM583.7 151.9l-1.7 5.4-5.7-0 4.6 3.3-1.7 5.4 4.6-3.3 4.6 3.3-1.7-5.4 4.6-3.3-5.7 0zM584.2 152.3l-1.7 5.4-5.7-0 4.6 3.3-1.7 5.4 4.6-3.3 4.6 3.3-1.7-5.4 4.6-3.3-5.7 0zM584.6 152.8l-1.7 5.4-5.7-0 4.6 3.3-1.7 5.4 4.6-3.3 4.6 3.3-1.7-5.4 4.6-3.3-5.7 0zM585 153.3l-1.7 5.4-5.7-0 4.6 3.3-1.7 5.4 4.6-3.3 4.6 3.3-1.7-5.4 4.6-3.3-5.7 0zM585.5 153.7l-1.7 5.4-5.7-0 4.6 3.3-1.7 5.4 4.6-3.3 4.6 3.3-1.7-5.4 4.6-3.3-5.7 0zM585.9 154.2l-1.7 5.4-5.7-0 4.6 3.3-1.7 5.4 4.6-3.3 4.6 3.3-1.7-5.4 4.6-3.3-5.7 0zM586.3 154.6l-1.7 5.4-5.7-0 4.6 3.3-1.7 5.4 4.6-3.3 4.6 3.3-1.7-5.4 4.6-3.3-5.7 0zM586.8 155.1l-1.7 5.4-5.7-0 4.6 3.3-1.7 5.4 4.6-3.3 4.6 3.3-1.7-5.4 4.6-3.3-5.7 0zM587.2 155.5l-1.7 5.4-5.7-0 4.6 3.3-1.7 5.4 4.6-3.3 4.6 3.3-1.7-5.4 4.6-3.3-5.7 0zM587.6 156l-1.7 5.4-5.7-0 4.6 3.3-1.7 5.4 4.6-3.3 4.6 3.3-1.7-5.4 4.6-3.3-5.7 0zM588 156.5l-1.7 5.4-5.7-0 4.6 3.3-1.7 5.4 4.6-3.3 4.6 3.3-1.7-5.4 4.6-3.3-5.7 0zM588.4 156.9l-1.7 5.4-5.7-0 4.6 3.3-1.7 5.4 4.6-3.3 4.6 3.3-1.7-5.4 4.6-3.3-5.7 0zM588.9 157.4l-1.7 5.4-5.7-0 4.6 3.3-1.7 5.4 4.6-3.3 4.6 3.3-1.7-5.4 4.6-3.3-5.7 0zM589.3 157.8l-1.7 5.4-5.7-0 4.6 3.3-1.7 5.4 4.6-3.3 4.6 3.3-1.7-5.4 4.6-3.3-5.7 0zM589.7 158.3l-1.7 5.4-5.7-0 4.6 3.3-1.7 5.4 4.6-3.3 4.6 3.3-1.7-5.4 4.6-3.3-5.7 0zM590.1 158.8l-1.7 5.4-5.7-0 4.6 3.3-1.7 5.4 4.6-3.3 4.6 3.3-1.7-5.4 4.6-3.3-5.7 0zM590.5 159.2l-1.7 5.4-5.7-0 4.6 3.3-1.7 5.4 4.6-3.3 4.6 3.3-1.7-5.4 4.6-3.3-5.7 0zM590.9 159.7l-1.7 5.4-5.7-0 4.6 3.3-1.7 5.4 4.6-3.3 4.6 3.3-1.7-5.4 4.6-3.3-5.7 0zM591.3 160.2l-1.7 5.4-5.7-0 4.6 3.3-1.7 5.4 4.6-3.3 4.6 3.3-1.7-5.4 4.6-3.3-5.7 0zM591.7 160.6l-1.7 5.4-5.7-0 4.6 3.3-1.7 5.4 4.6-3.3 4.6 3.3-1.7-5.4 4.6-3.3-5.7 0zM592.2 161.1l-1.7 5.4-5.7-0 4.6 3.3-1.7 5.4 4.6-3.3 4.6 3.3-1.7-5.4 4.6-3.3-5.7 0zM592.6 161.6l-1.7 5.4-5.7-0 4.6 3.3-1.7 5.4 4.6-3.3 4.6 3.3-1.7-5.4 4.6-3.3-5.7 0zM593 162l-1.7 5.4-5.7-0 4.6 3.3-1.7 5.4 4.6-3.3 4.6 3.3-1.7-5.4 4.6-3.3-5.7 0zM593.4 162.5l-1.7 5.4-5.7-0 4.6 3.3-1.7 5.4 4.6-3.3 4.6 3.3-1.7-5.4 4.6-3.3-5.7 0zM593.8 163l-1.7 5.4-5.7-0 4.6 3.3-1.7 5.4 4.6-3.3 4.6 3.3-1.7-5.4 4.6-3.3-5.7 0zM594.2 163.4l-1.7 5.4-5.7-0 4.6 3.3-1.7 5.4 4.6-3.3 4.6 3.3-1.7-5.4 4.6-3.3-5.7 0zM594.6 163.9l-1.7 5.4-5.7-0 4.6 3.3-1.7 5.4 4.6-3.3 4.6 3.3-1.7-5.4 4.6-3.3-5.7 0zM594.9 164.4l-1.7 5.4-5.7-0 4.6 3.3-1.7 5.4 4.6-3.3 4.6 3.3-1.7-5.4 4.6-3.3-5.7 0zM595.3 164.8l-1.7 5.4-5.7-0 4.6 3.3-1.7 5.4 4.6-3.3 4.6 3.3-1.7-5.4 4.6-3.3-5.7 0zM595.7 165.3l-1.7 5.4-5.7-0 4.6 3.3-1.7 5.4 4.6-3.3 4.6 3.3-1.7-5.4 4.6-3.3-5.7 0zM596.1 165.8l-1.7 5.4-5.7-0 4.6 3.3-1.7 5.4 4.6-3.3 4.6 3.3-1.7-5.4 4.6-3.3-5.7 0zM596.5 166.3l-1.7 5.4-5.7-0 4.6 3.3-1.7 5.4 4.6-3.3 4.6 3.3-1.7-5.4 4.6-3.3-5.7 0zM596.9 166.7l-1.7 5.4-5.7-0 4.6 3.3-1.7 5.4 4.6-3.3 4.6 3.3-1.7-5.4 4.6-3.3-5.7 0zM597.3 167.2l-1.7 5.4-5.7-0 4.6 3.3-1.7 5.4 4.6-3.3 4.6 3.3-1.7-5.4 4.6-3.3-5.7 0zM597.7 167.7l-1.7 5.4-5.7-0 4.6 3.3-1.7 5.4 4.6-3.3 4.6 3.3-1.7-5.4 4.6-3.3-5.7 0zM598.1 168.2l-1.7 5.4-5.7-0 4.6 3.3-1.7 5.4 4.6-3.3 4.6 3.3-1.7-5.4 4.6-3.3-5.7 0zM598.4 168.6l-1.7 5.4-5.7-0 4.6 3.3-1.7 5.4 4.6-3.3 4.6 3.3-1.7-5.4 4.6-3.3-5.7 0zM598.8 169.1l-1.7 5.4-5.7-0 4.6 3.3-1.7 5.4 4.6-3.3 4.6 3.3-1.7-5.4 4.6-3.3-5.7 0zM599.2 169.6l-1.7 5.4-5.7-0 4.6 3.3-1.7 5.4 4.6-3.3 4.6 3.3-1.7-5.4 4.6-3.3-5.7 0zM599.6 170.1l-1.7 5.4-5.7-0 4.6 3.3-1.7 5.4 4.6-3.3 4.6 3.3-1.7-5.4 4.6-3.3-5.7 0zM600 170.5l-1.7 5.4-5.7-0 4.6 3.3-1.7 5.4 4.6-3.3 4.6 3.3-1.7-5.4 4.6-3.3-5.7 0zM600.3 171l-1.7 5.4-5.7-0 4.6 3.3-1.7 5.4 4.6-3.3 4.6 3.3-1.7-5.4 4.6-3.3-5.7 0zM600.7 171.5l-1.7 5.4-5.7-0 4.6 3.3-1.7 5.4 4.6-3.3 4.6 3.3-1.7-5.4 4.6-3.3-5.7 0zM601.1 172l-1.7 5.4-5.7-0 4.6 3.3-1.7 5.4 4.6-3.3 4.6 3.3-1.7-5.4 4.6-3.3-5.7 0zM601.5 172.4l-1.7 5.4-5.7-0 4.6 3.3-1.7 5.4 4.6-3.3 4.6 3.3-1.7-5.4 4.6-3.3-5.7 0zM601.8 172.9l-1.7 5.4-5.7-0 4.6 3.3-1.7 5.4 4.6-3.3 4.6 3.3-1.7-5.4 4.6-3.3-5.7 0zM602.2 173.4l-1.7 5.4-5.7-0 4.6 3.3-1.7 5.4 4.6-3.3 4.6 3.3-1.7-5.4 4.6-3.3-5.7 0zM602.6 173.9l-1.7 5.4-5.7-0 4.6 3.3-1.7 5.4 4.6-3.3 4.6 3.3-1.7-5.4 4.6-3.3-5.7 0zM602.9 174.4l-1.7 5.4-5.7-0 4.6 3.3-1.7 5.4 4.6-3.3 4.6 3.3-1.7-5.4 4.6-3.3-5.7 0zM603.3 174.9l-1.7 5.4-5.7-0 4.6 3.3-1.7 5.4 4.6-3.3 4.6 3.3-1.7-5.4 4.6-3.3-5.7 0zM603.7 175.3l-1.7 5.4-5.7-0 4.6 3.3-1.7 5.4 4.6-3.3 4.6 3.3-1.7-5.4 4.6-3.3-5.7 0zM604 175.8l-1.7 5.4-5.7-0 4.6 3.3-1.7 5.4 4.6-3.3 4.6 3.3-1.7-5.4 4.6-3.3-5.7 0zM604.4 176.3l-1.7 5.4-5.7-0 4.6 3.3-1.7 5.4 4.6-3.3 4.6 3.3-1.7-5.4 4.6-3.3-5.7 0zM604.7 176.8l-1.7 5.4-5.7-0 4.6 3.3-1.7 5.4 4.6-3.3 4.6 3.3-1.7-5.4 4.6-3.3-5.7 0zM605.1 177.3l-1.7 5.4-5.7-0 4.6 3.3-1.7 5.4 4.6-3.3 4.6 3.3-1.7-5.4 4.6-3.3-5.7 0zM605.5 177.8l-1.7 5.4-5.7-0 4.6 3.3-1.7 5.4 4.6-3.3 4.6 3.3-1.7-5.4 4.6-3.3-5.7 0zM605.8 178.2l-1.7 5.4-5.7-0 4.6 3.3-1.7 5.4 4.6-3.3 4.6 3.3-1.7-5.4 4.6-3.3-5.7 0zM606.2 178.7l-1.7 5.4-5.7-0 4.6 3.3-1.7 5.4 4.6-3.3 4.6 3.3-1.7-5.4 4.6-3.3-5.7 0zM606.5 179.2l-1.7 5.4-5.7-0 4.6 3.3-1.7 5.4 4.6-3.3 4.6 3.3-1.7-5.4 4.6-3.3-5.7 0zM606.9 179.7l-1.7 5.4-5.7-0 4.6 3.3-1.7 5.4 4.6-3.3 4.6 3.3-1.7-5.4 4.6-3.3-5.7 0zM607.2 180.2l-1.7 5.4-5.7-0 4.6 3.3-1.7 5.4 4.6-3.3 4.6 3.3-1.7-5.4 4.6-3.3-5.7 0zM607.6 180.7l-1.7 5.4-5.7-0 4.6 3.3-1.7 5.4 4.6-3.3 4.6 3.3-1.7-5.4 4.6-3.3-5.7 0zM607.9 181.2l-1.7 5.4-5.7-0 4.6 3.3-1.7 5.4 4.6-3.3 4.6 3.3-1.7-5.4 4.6-3.3-5.7 0zM608.3 181.6l-1.7 5.4-5.7-0 4.6 3.3-1.7 5.4 4.6-3.3 4.6 3.3-1.7-5.4 4.6-3.3-5.7 0zM608.6 182.1l-1.7 5.4-5.7-0 4.6 3.3-1.7 5.4 4.6-3.3 4.6 3.3-1.7-5.4 4.6-3.3-5.7 0zM609 182.6l-1.7 5.4-5.7-0 4.6 3.3-1.7 5.4 4.6-3.3 4.6 3.3-1.7-5.4 4.6-3.3-5.7 0zM609.3 183.1l-1.7 5.4-5.7-0 4.6 3.3-1.7 5.4 4.6-3.3 4.6 3.3-1.7-5.4 4.6-3.3-5.7 0zM609.7 183.6l-1.7 5.4-5.7-0 4.6 3.3-1.7 5.4 4.6-3.3 4.6 3.3-1.7-5.4 4.6-3.3-5.7 0zM610 184.1l-1.7 5.4-5.7-0 4.6 3.3-1.7 5.4 4.6-3.3 4.6 3.3-1.7-5.4 4.6-3.3-5.7 0zM610.3 184.6l-1.7 5.4-5.7-0 4.6 3.3-1.7 5.4 4.6-3.3 4.6 3.3-1.7-5.4 4.6-3.3-5.7 0zM610.7 185.1l-1.7 5.4-5.7-0 4.6 3.3-1.7 5.4 4.6-3.3 4.6 3.3-1.7-5.4 4.6-3.3-5.7 0zM611 185.6l-1.7 5.4-5.7-0 4.6 3.3-1.7 5.4 4.6-3.3 4.6 3.3-1.7-5.4 4.6-3.3-5.7 0zM611.4 186.1l-1.7 5.4-5.7-0 4.6 3.3-1.7 5.4 4.6-3.3 4.6 3.3-1.7-5.4 4.6-3.3-5.7 0zM611.7 186.6l-1.7 5.4-5.7-0 4.6 3.3-1.7 5.4 4.6-3.3 4.6 3.3-1.7-5.4 4.6-3.3-5.7 0zM612 187l-1.7 5.4-5.7-0 4.6 3.3-1.7 5.4 4.6-3.3 4.6 3.3-1.7-5.4 4.6-3.3-5.7 0zM612.4 187.5l-1.7 5.4-5.7-0 4.6 3.3-1.7 5.4 4.6-3.3 4.6 3.3-1.7-5.4 4.6-3.3-5.7 0zM612.7 188l-1.7 5.4-5.7-0 4.6 3.3-1.7 5.4 4.6-3.3 4.6 3.3-1.7-5.4 4.6-3.3-5.7 0zM613 188.5l-1.7 5.4-5.7-0 4.6 3.3-1.7 5.4 4.6-3.3 4.6 3.3-1.7-5.4 4.6-3.3-5.7 0zM613.4 189l-1.7 5.4-5.7-0 4.6 3.3-1.7 5.4 4.6-3.3 4.6 3.3-1.7-5.4 4.6-3.3-5.7 0zM613.7 189.5l-1.7 5.4-5.7-0 4.6 3.3-1.7 5.4 4.6-3.3 4.6 3.3-1.7-5.4 4.6-3.3-5.7 0zM614 190l-1.7 5.4-5.7-0 4.6 3.3-1.7 5.4 4.6-3.3 4.6 3.3-1.7-5.4 4.6-3.3-5.7 0zM614.4 190.5l-1.7 5.4-5.7-0 4.6 3.3-1.7 5.4 4.6-3.3 4.6 3.3-1.7-5.4 4.6-3.3-5.7 0zM614.7 191l-1.7 5.4-5.7-0 4.6 3.3-1.7 5.4 4.6-3.3 4.6 3.3-1.7-5.4 4.6-3.3-5.7 0zM615 191.5l-1.7 5.4-5.7-0 4.6 3.3-1.7 5.4 4.6-3.3 4.6 3.3-1.7-5.4 4.6-3.3-5.7 0zM615.4 192l-1.7 5.4-5.7-0 4.6 3.3-1.7 5.4 4.6-3.3 4.6 3.3-1.7-5.4 4.6-3.3-5.7 0zM615.7 192.5l-1.7 5.4-5.7-0 4.6 3.3-1.7 5.4 4.6-3.3 4.6 3.3-1.7-5.4 4.6-3.3-5.7 0zM616 193l-1.7 5.4-5.7-0 4.6 3.3-1.7 5.4 4.6-3.3 4.6 3.3-1.7-5.4 4.6-3.3-5.7 0zM616.3 193.5l-1.7 5.4-5.7-0 4.6 3.3-1.7 5.4 4.6-3.3 4.6 3.3-1.7-5.4 4.6-3.3-5.7 0zM616.6 194l-1.7 5.4-5.7-0 4.6 3.3-1.7 5.4 4.6-3.3 4.6 3.3-1.7-5.4 4.6-3.3-5.7 0zM617 194.5l-1.7 5.4-5.7-0 4.6 3.3-1.7 5.4 4.6-3.3 4.6 3.3-1.7-5.4 4.6-3.3-5.7 0zM617.3 195l-1.7 5.4-5.7-0 4.6 3.3-1.7 5.4 4.6-3.3 4.6 3.3-1.7-5.4 4.6-3.3-5.7 0zM617.6 195.5l-1.7 5.4-5.7-0 4.6 3.3-1.7 5.4 4.6-3.3 4.6 3.3-1.7-5.4 4.6-3.3-5.7 0zM617.9 196l-1.7 5.4-5.7-0 4.6 3.3-1.7 5.4 4.6-3.3 4.6 3.3-1.7-5.4 4.6-3.3-5.7 0zM618.2 196.5l-1.7 5.4-5.7-0 4.6 3.3-1.7 5.4 4.6-3.3 4.6 3.3-1.7-5.4 4.6-3.3-5.7 0zM618.6 197l-1.7 5.4-5.7-0 4.6 3.3-1.7 5.4 4.6-3.3 4.6 3.3-1.7-5.4 4.6-3.3-5.7 0zM618.9 197.5l-1.7 5.4-5.7-0 4.6 3.3-1.7 5.4 4.6-3.3 4.6 3.3-1.7-5.4 4.6-3.3-5.7 0zM619.2 198l-1.7 5.4-5.7-0 4.6 3.3-1.7 5.4 4.6-3.3 4.6 3.3-1.7-5.4 4.6-3.3-5.7 0zM619.5 198.5l-1.7 5.4-5.7-0 4.6 3.3-1.7 5.4 4.6-3.3 4.6 3.3-1.7-5.4 4.6-3.3-5.7 0zM619.8 199l-1.7 5.4-5.7-0 4.6 3.3-1.7 5.4 4.6-3.3 4.6 3.3-1.7-5.4 4.6-3.3-5.7 0zM620.1 199.5l-1.7 5.4-5.7-0 4.6 3.3-1.7 5.4 4.6-3.3 4.6 3.3-1.7-5.4 4.6-3.3-5.7 0zM620.4 200l-1.7 5.4-5.7-0 4.6 3.3-1.7 5.4 4.6-3.3 4.6 3.3-1.7-5.4 4.6-3.3-5.7 0zM620.8 200.5l-1.7 5.4-5.7-0 4.6 3.3-1.7 5.4 4.6-3.3 4.6 3.3-1.7-5.4 4.6-3.3-5.7 0zM621.1 201l-1.7 5.4-5.7-0 4.6 3.3-1.7 5.4 4.6-3.3 4.6 3.3-1.7-5.4 4.6-3.3-5.7 0zM621.4 201.5l-1.7 5.4-5.7-0 4.6 3.3-1.7 5.4 4.6-3.3 4.6 3.3-1.7-5.4 4.6-3.3-5.7 0zM621.7 202l-1.7 5.4-5.7-0 4.6 3.3-1.7 5.4 4.6-3.3 4.6 3.3-1.7-5.4 4.6-3.3-5.7 0zM622 202.5l-1.7 5.4-5.7-0 4.6 3.3-1.7 5.4 4.6-3.3 4.6 3.3-1.7-5.4 4.6-3.3-5.7 0zM622.3 203l-1.7 5.4-5.7-0 4.6 3.3-1.7 5.4 4.6-3.3 4.6 3.3-1.7-5.4 4.6-3.3-5.7 0zM622.6 203.5l-1.7 5.4-5.7-0 4.6 3.3-1.7 5.4 4.6-3.3 4.6 3.3-1.7-5.4 4.6-3.3-5.7 0zM622.9 204l-1.7 5.4-5.7-0 4.6 3.3-1.7 5.4 4.6-3.3 4.6 3.3-1.7-5.4 4.6-3.3-5.7 0zM623.2 204.6l-1.7 5.4-5.7-0 4.6 3.3-1.7 5.4 4.6-3.3 4.6 3.3-1.7-5.4 4.6-3.3-5.7 0zM623.5 205.1l-1.7 5.4-5.7-0 4.6 3.3-1.7 5.4 4.6-3.3 4.6 3.3-1.7-5.4 4.6-3.3-5.7 0zM623.8 205.6l-1.7 5.4-5.7-0 4.6 3.3-1.7 5.4 4.6-3.3 4.6 3.3-1.7-5.4 4.6-3.3-5.7 0zM624.1 206.1l-1.7 5.4-5.7-0 4.6 3.3-1.7 5.4 4.6-3.3 4.6 3.3-1.7-5.4 4.6-3.3-5.7 0zM624.4 206.6l-1.7 5.4-5.7-0 4.6 3.3-1.7 5.4 4.6-3.3 4.6 3.3-1.7-5.4 4.6-3.3-5.7 0zM624.7 207.1l-1.7 5.4-5.7-0 4.6 3.3-1.7 5.4 4.6-3.3 4.6 3.3-1.7-5.4 4.6-3.3-5.7 0zM625 207.6l-1.7 5.4-5.7-0 4.6 3.3-1.7 5.4 4.6-3.3 4.6 3.3-1.7-5.4 4.6-3.3-5.7 0zM625.3 208.1l-1.7 5.4-5.7-0 4.6 3.3-1.7 5.4 4.6-3.3 4.6 3.3-1.7-5.4 4.6-3.3-5.7 0zM625.6 208.6l-1.7 5.4-5.7-0 4.6 3.3-1.7 5.4 4.6-3.3 4.6 3.3-1.7-5.4 4.6-3.3-5.7 0zM625.9 209.1l-1.7 5.4-5.7-0 4.6 3.3-1.7 5.4 4.6-3.3 4.6 3.3-1.7-5.4 4.6-3.3-5.7 0zM626.2 209.6l-1.7 5.4-5.7-0 4.6 3.3-1.7 5.4 4.6-3.3 4.6 3.3-1.7-5.4 4.6-3.3-5.7 0zM626.5 210.1l-1.7 5.4-5.7-0 4.6 3.3-1.7 5.4 4.6-3.3 4.6 3.3-1.7-5.4 4.6-3.3-5.7 0zM626.8 210.7l-1.7 5.4-5.7-0 4.6 3.3-1.7 5.4 4.6-3.3 4.6 3.3-1.7-5.4 4.6-3.3-5.7 0zM627.1 211.2l-1.7 5.4-5.7-0 4.6 3.3-1.7 5.4 4.6-3.3 4.6 3.3-1.7-5.4 4.6-3.3-5.7 0zM627.4 211.7l-1.7 5.4-5.7-0 4.6 3.3-1.7 5.4 4.6-3.3 4.6 3.3-1.7-5.4 4.6-3.3-5.7 0zM627.7 212.2l-1.7 5.4-5.7-0 4.6 3.3-1.7 5.4 4.6-3.3 4.6 3.3-1.7-5.4 4.6-3.3-5.7 0zM627.9 212.7l-1.7 5.4-5.7-0 4.6 3.3-1.7 5.4 4.6-3.3 4.6 3.3-1.7-5.4 4.6-3.3-5.7 0zM628.2 213.2l-1.7 5.4-5.7-0 4.6 3.3-1.7 5.4 4.6-3.3 4.6 3.3-1.7-5.4 4.6-3.3-5.7 0zM628.5 213.7l-1.7 5.4-5.7-0 4.6 3.3-1.7 5.4 4.6-3.3 4.6 3.3-1.7-5.4 4.6-3.3-5.7 0zM628.8 214.2l-1.7 5.4-5.7-0 4.6 3.3-1.7 5.4 4.6-3.3 4.6 3.3-1.7-5.4 4.6-3.3-5.7 0zM629.1 214.7l-1.7 5.4-5.7-0 4.6 3.3-1.7 5.4 4.6-3.3 4.6 3.3-1.7-5.4 4.6-3.3-5.7 0zM629.4 215.3l-1.7 5.4-5.7-0 4.6 3.3-1.7 5.4 4.6-3.3 4.6 3.3-1.7-5.4 4.6-3.3-5.7 0zM629.7 215.8l-1.7 5.4-5.7-0 4.6 3.3-1.7 5.4 4.6-3.3 4.6 3.3-1.7-5.4 4.6-3.3-5.7 0zM629.9 216.3l-1.7 5.4-5.7-0 4.6 3.3-1.7 5.4 4.6-3.3 4.6 3.3-1.7-5.4 4.6-3.3-5.7 0zM630.2 216.8l-1.7 5.4-5.7-0 4.6 3.3-1.7 5.4 4.6-3.3 4.6 3.3-1.7-5.4 4.6-3.3-5.7 0zM630.5 217.3l-1.7 5.4-5.7-0 4.6 3.3-1.7 5.4 4.6-3.3 4.6 3.3-1.7-5.4 4.6-3.3-5.7 0zM630.8 217.8l-1.7 5.4-5.7-0 4.6 3.3-1.7 5.4 4.6-3.3 4.6 3.3-1.7-5.4 4.6-3.3-5.7 0zM631.1 218.3l-1.7 5.4-5.7-0 4.6 3.3-1.7 5.4 4.6-3.3 4.6 3.3-1.7-5.4 4.6-3.3-5.7 0zM631.4 218.9l-1.7 5.4-5.7-0 4.6 3.3-1.7 5.4 4.6-3.3 4.6 3.3-1.7-5.4 4.6-3.3-5.7 0zM631.6 219.4l-1.7 5.4-5.7-0 4.6 3.3-1.7 5.4 4.6-3.3 4.6 3.3-1.7-5.4 4.6-3.3-5.7 0zM631.9 219.9l-1.7 5.4-5.7-0 4.6 3.3-1.7 5.4 4.6-3.3 4.6 3.3-1.7-5.4 4.6-3.3-5.7 0zM632.2 220.4l-1.7 5.4-5.7-0 4.6 3.3-1.7 5.4 4.6-3.3 4.6 3.3-1.7-5.4 4.6-3.3-5.7 0zM632.5 220.9l-1.7 5.4-5.7-0 4.6 3.3-1.7 5.4 4.6-3.3 4.6 3.3-1.7-5.4 4.6-3.3-5.7 0zM632.8 221.4l-1.7 5.4-5.7-0 4.6 3.3-1.7 5.4 4.6-3.3 4.6 3.3-1.7-5.4 4.6-3.3-5.7 0zM633 222l-1.7 5.4-5.7-0 4.6 3.3-1.7 5.4 4.6-3.3 4.6 3.3-1.7-5.4 4.6-3.3-5.7 0zM633.3 222.5l-1.7 5.4-5.7-0 4.6 3.3-1.7 5.4 4.6-3.3 4.6 3.3-1.7-5.4 4.6-3.3-5.7 0zM633.6 223l-1.7 5.4-5.7-0 4.6 3.3-1.7 5.4 4.6-3.3 4.6 3.3-1.7-5.4 4.6-3.3-5.7 0zM633.9 223.5l-1.7 5.4-5.7-0 4.6 3.3-1.7 5.4 4.6-3.3 4.6 3.3-1.7-5.4 4.6-3.3-5.7 0zM634.1 224l-1.7 5.4-5.7-0 4.6 3.3-1.7 5.4 4.6-3.3 4.6 3.3-1.7-5.4 4.6-3.3-5.7 0zM634.4 224.5l-1.7 5.4-5.7-0 4.6 3.3-1.7 5.4 4.6-3.3 4.6 3.3-1.7-5.4 4.6-3.3-5.7 0zM634.7 225.1l-1.7 5.4-5.7-0 4.6 3.3-1.7 5.4 4.6-3.3 4.6 3.3-1.7-5.4 4.6-3.3-5.7 0zM634.9 225.6l-1.7 5.4-5.7-0 4.6 3.3-1.7 5.4 4.6-3.3 4.6 3.3-1.7-5.4 4.6-3.3-5.7 0zM635.2 226.1l-1.7 5.4-5.7-0 4.6 3.3-1.7 5.4 4.6-3.3 4.6 3.3-1.7-5.4 4.6-3.3-5.7 0zM635.5 226.6l-1.7 5.4-5.7-0 4.6 3.3-1.7 5.4 4.6-3.3 4.6 3.3-1.7-5.4 4.6-3.3-5.7 0zM635.8 227.1l-1.7 5.4-5.7-0 4.6 3.3-1.7 5.4 4.6-3.3 4.6 3.3-1.7-5.4 4.6-3.3-5.7 0zM636 227.7l-1.7 5.4-5.7-0 4.6 3.3-1.7 5.4 4.6-3.3 4.6 3.3-1.7-5.4 4.6-3.3-5.7 0zM636.3 228.2l-1.7 5.4-5.7-0 4.6 3.3-1.7 5.4 4.6-3.3 4.6 3.3-1.7-5.4 4.6-3.3-5.7 0zM636.6 228.7l-1.7 5.4-5.7-0 4.6 3.3-1.7 5.4 4.6-3.3 4.6 3.3-1.7-5.4 4.6-3.3-5.7 0zM636.8 229.2l-1.7 5.4-5.7-0 4.6 3.3-1.7 5.4 4.6-3.3 4.6 3.3-1.7-5.4 4.6-3.3-5.7 0zM637.1 229.7l-1.7 5.4-5.7-0 4.6 3.3-1.7 5.4 4.6-3.3 4.6 3.3-1.7-5.4 4.6-3.3-5.7 0zM637.4 230.3l-1.7 5.4-5.7-0 4.6 3.3-1.7 5.4 4.6-3.3 4.6 3.3-1.7-5.4 4.6-3.3-5.7 0zM637.6 230.8l-1.7 5.4-5.7-0 4.6 3.3-1.7 5.4 4.6-3.3 4.6 3.3-1.7-5.4 4.6-3.3-5.7 0zM637.9 231.3l-1.7 5.4-5.7-0 4.6 3.3-1.7 5.4 4.6-3.3 4.6 3.3-1.7-5.4 4.6-3.3-5.7 0zM638.2 231.8l-1.7 5.4-5.7-0 4.6 3.3-1.7 5.4 4.6-3.3 4.6 3.3-1.7-5.4 4.6-3.3-5.7 0zM638.4 232.3l-1.7 5.4-5.7-0 4.6 3.3-1.7 5.4 4.6-3.3 4.6 3.3-1.7-5.4 4.6-3.3-5.7 0zM638.7 232.9l-1.7 5.4-5.7-0 4.6 3.3-1.7 5.4 4.6-3.3 4.6 3.3-1.7-5.4 4.6-3.3-5.7 0zM638.9 233.4l-1.7 5.4-5.7-0 4.6 3.3-1.7 5.4 4.6-3.3 4.6 3.3-1.7-5.4 4.6-3.3-5.7 0zM639.2 233.9l-1.7 5.4-5.7-0 4.6 3.3-1.7 5.4 4.6-3.3 4.6 3.3-1.7-5.4 4.6-3.3-5.7 0zM639.5 234.4l-1.7 5.4-5.7-0 4.6 3.3-1.7 5.4 4.6-3.3 4.6 3.3-1.7-5.4 4.6-3.3-5.7 0zM639.7 235l-1.7 5.4-5.7-0 4.6 3.3-1.7 5.4 4.6-3.3 4.6 3.3-1.7-5.4 4.6-3.3-5.7 0zM640 235.5l-1.7 5.4-5.7-0 4.6 3.3-1.7 5.4 4.6-3.3 4.6 3.3-1.7-5.4 4.6-3.3-5.7 0zM640.2 236l-1.7 5.4-5.7-0 4.6 3.3-1.7 5.4 4.6-3.3 4.6 3.3-1.7-5.4 4.6-3.3-5.7 0zM640.5 236.5l-1.7 5.4-5.7-0 4.6 3.3-1.7 5.4 4.6-3.3 4.6 3.3-1.7-5.4 4.6-3.3-5.7 0zM640.8 237.1l-1.7 5.4-5.7-0 4.6 3.3-1.7 5.4 4.6-3.3 4.6 3.3-1.7-5.4 4.6-3.3-5.7 0zM641 237.6l-1.7 5.4-5.7-0 4.6 3.3-1.7 5.4 4.6-3.3 4.6 3.3-1.7-5.4 4.6-3.3-5.7 0zM641.3 238.1l-1.7 5.4-5.7-0 4.6 3.3-1.7 5.4 4.6-3.3 4.6 3.3-1.7-5.4 4.6-3.3-5.7 0zM641.5 238.6l-1.7 5.4-5.7-0 4.6 3.3-1.7 5.4 4.6-3.3 4.6 3.3-1.7-5.4 4.6-3.3-5.7 0zM641.8 239.2l-1.7 5.4-5.7-0 4.6 3.3-1.7 5.4 4.6-3.3 4.6 3.3-1.7-5.4 4.6-3.3-5.7 0zM642 239.7l-1.7 5.4-5.7-0 4.6 3.3-1.7 5.4 4.6-3.3 4.6 3.3-1.7-5.4 4.6-3.3-5.7 0zM642.3 240.2l-1.7 5.4-5.7-0 4.6 3.3-1.7 5.4 4.6-3.3 4.6 3.3-1.7-5.4 4.6-3.3-5.7 0zM642.5 240.7l-1.7 5.4-5.7-0 4.6 3.3-1.7 5.4 4.6-3.3 4.6 3.3-1.7-5.4 4.6-3.3-5.7 0zM642.8 241.3l-1.7 5.4-5.7-0 4.6 3.3-1.7 5.4 4.6-3.3 4.6 3.3-1.7-5.4 4.6-3.3-5.7 0zM643 241.8l-1.7 5.4-5.7-0 4.6 3.3-1.7 5.4 4.6-3.3 4.6 3.3-1.7-5.4 4.6-3.3-5.7 0zM643.3 242.3l-1.7 5.4-5.7-0 4.6 3.3-1.7 5.4 4.6-3.3 4.6 3.3-1.7-5.4 4.6-3.3-5.7 0zM643.5 242.8l-1.7 5.4-5.7-0 4.6 3.3-1.7 5.4 4.6-3.3 4.6 3.3-1.7-5.4 4.6-3.3-5.7 0zM643.8 243.4l-1.7 5.4-5.7-0 4.6 3.3-1.7 5.4 4.6-3.3 4.6 3.3-1.7-5.4 4.6-3.3-5.7 0zM644 243.9l-1.7 5.4-5.7-0 4.6 3.3-1.7 5.4 4.6-3.3 4.6 3.3-1.7-5.4 4.6-3.3-5.7 0zM644.3 244.4l-1.7 5.4-5.7-0 4.6 3.3-1.7 5.4 4.6-3.3 4.6 3.3-1.7-5.4 4.6-3.3-5.7 0zM644.5 244.9l-1.7 5.4-5.7-0 4.6 3.3-1.7 5.4 4.6-3.3 4.6 3.3-1.7-5.4 4.6-3.3-5.7 0zM644.8 245.5l-1.7 5.4-5.7-0 4.6 3.3-1.7 5.4 4.6-3.3 4.6 3.3-1.7-5.4 4.6-3.3-5.7 0zM645 246l-1.7 5.4-5.7-0 4.6 3.3-1.7 5.4 4.6-3.3 4.6 3.3-1.7-5.4 4.6-3.3-5.7 0zM645.3 246.5l-1.7 5.4-5.7-0 4.6 3.3-1.7 5.4 4.6-3.3 4.6 3.3-1.7-5.4 4.6-3.3-5.7 0zM645.5 247.1l-1.7 5.4-5.7-0 4.6 3.3-1.7 5.4 4.6-3.3 4.6 3.3-1.7-5.4 4.6-3.3-5.7 0zM645.8 247.6l-1.7 5.4-5.7-0 4.6 3.3-1.7 5.4 4.6-3.3 4.6 3.3-1.7-5.4 4.6-3.3-5.7 0zM646 248.1l-1.7 5.4-5.7-0 4.6 3.3-1.7 5.4 4.6-3.3 4.6 3.3-1.7-5.4 4.6-3.3-5.7 0zM646.3 248.6l-1.7 5.4-5.7-0 4.6 3.3-1.7 5.4 4.6-3.3 4.6 3.3-1.7-5.4 4.6-3.3-5.7 0zM646.5 249.2l-1.7 5.4-5.7-0 4.6 3.3-1.7 5.4 4.6-3.3 4.6 3.3-1.7-5.4 4.6-3.3-5.7 0zM646.7 249.7l-1.7 5.4-5.7-0 4.6 3.3-1.7 5.4 4.6-3.3 4.6 3.3-1.7-5.4 4.6-3.3-5.7 0zM647 250.2l-1.7 5.4-5.7-0 4.6 3.3-1.7 5.4 4.6-3.3 4.6 3.3-1.7-5.4 4.6-3.3-5.7 0zM647.2 250.8l-1.7 5.4-5.7-0 4.6 3.3-1.7 5.4 4.6-3.3 4.6 3.3-1.7-5.4 4.6-3.3-5.7 0zM647.5 251.3l-1.7 5.4-5.7-0 4.6 3.3-1.7 5.4 4.6-3.3 4.6 3.3-1.7-5.4 4.6-3.3-5.7 0zM647.7 251.8l-1.7 5.4-5.7-0 4.6 3.3-1.7 5.4 4.6-3.3 4.6 3.3-1.7-5.4 4.6-3.3-5.7 0zM648 252.4l-1.7 5.4-5.7-0 4.6 3.3-1.7 5.4 4.6-3.3 4.6 3.3-1.7-5.4 4.6-3.3-5.7 0zM648.2 252.9l-1.7 5.4-5.7-0 4.6 3.3-1.7 5.4 4.6-3.3 4.6 3.3-1.7-5.4 4.6-3.3-5.7 0zM648.4 253.4l-1.7 5.4-5.7-0 4.6 3.3-1.7 5.4 4.6-3.3 4.6 3.3-1.7-5.4 4.6-3.3-5.7 0zM648.7 253.9l-1.7 5.4-5.7-0 4.6 3.3-1.7 5.4 4.6-3.3 4.6 3.3-1.7-5.4 4.6-3.3-5.7 0zM648.9 254.5l-1.7 5.4-5.7-0 4.6 3.3-1.7 5.4 4.6-3.3 4.6 3.3-1.7-5.4 4.6-3.3-5.7 0zM649.1 255l-1.7 5.4-5.7-0 4.6 3.3-1.7 5.4 4.6-3.3 4.6 3.3-1.7-5.4 4.6-3.3-5.7 0zM649.4 255.5l-1.7 5.4-5.7-0 4.6 3.3-1.7 5.4 4.6-3.3 4.6 3.3-1.7-5.4 4.6-3.3-5.7 0zM649.6 256.1l-1.7 5.4-5.7-0 4.6 3.3-1.7 5.4 4.6-3.3 4.6 3.3-1.7-5.4 4.6-3.3-5.7 0zM649.9 256.6l-1.7 5.4-5.7-0 4.6 3.3-1.7 5.4 4.6-3.3 4.6 3.3-1.7-5.4 4.6-3.3-5.7 0zM650.1 257.1l-1.7 5.4-5.7-0 4.6 3.3-1.7 5.4 4.6-3.3 4.6 3.3-1.7-5.4 4.6-3.3-5.7 0zM650.3 257.7l-1.7 5.4-5.7-0 4.6 3.3-1.7 5.4 4.6-3.3 4.6 3.3-1.7-5.4 4.6-3.3-5.7 0zM650.6 258.2l-1.7 5.4-5.7-0 4.6 3.3-1.7 5.4 4.6-3.3 4.6 3.3-1.7-5.4 4.6-3.3-5.7 0zM650.8 258.7l-1.7 5.4-5.7-0 4.6 3.3-1.7 5.4 4.6-3.3 4.6 3.3-1.7-5.4 4.6-3.3-5.7 0zM651 259.3l-1.7 5.4-5.7-0 4.6 3.3-1.7 5.4 4.6-3.3 4.6 3.3-1.7-5.4 4.6-3.3-5.7 0zM651.3 259.8l-1.7 5.4-5.7-0 4.6 3.3-1.7 5.4 4.6-3.3 4.6 3.3-1.7-5.4 4.6-3.3-5.7 0zM651.5 260.3l-1.7 5.4-5.7-0 4.6 3.3-1.7 5.4 4.6-3.3 4.6 3.3-1.7-5.4 4.6-3.3-5.7 0zM651.7 260.9l-1.7 5.4-5.7-0 4.6 3.3-1.7 5.4 4.6-3.3 4.6 3.3-1.7-5.4 4.6-3.3-5.7 0zM652 261.4l-1.7 5.4-5.7-0 4.6 3.3-1.7 5.4 4.6-3.3 4.6 3.3-1.7-5.4 4.6-3.3-5.7 0zM652.2 261.9l-1.7 5.4-5.7-0 4.6 3.3-1.7 5.4 4.6-3.3 4.6 3.3-1.7-5.4 4.6-3.3-5.7 0zM652.4 262.5l-1.7 5.4-5.7-0 4.6 3.3-1.7 5.4 4.6-3.3 4.6 3.3-1.7-5.4 4.6-3.3-5.7 0zM652.7 263l-1.7 5.4-5.7-0 4.6 3.3-1.7 5.4 4.6-3.3 4.6 3.3-1.7-5.4 4.6-3.3-5.7 0zM652.9 263.5l-1.7 5.4-5.7-0 4.6 3.3-1.7 5.4 4.6-3.3 4.6 3.3-1.7-5.4 4.6-3.3-5.7 0zM653.1 264.1l-1.7 5.4-5.7-0 4.6 3.3-1.7 5.4 4.6-3.3 4.6 3.3-1.7-5.4 4.6-3.3-5.7 0zM653.3 264.6l-1.7 5.4-5.7-0 4.6 3.3-1.7 5.4 4.6-3.3 4.6 3.3-1.7-5.4 4.6-3.3-5.7 0zM653.6 265.1l-1.7 5.4-5.7-0 4.6 3.3-1.7 5.4 4.6-3.3 4.6 3.3-1.7-5.4 4.6-3.3-5.7 0zM653.8 265.7l-1.7 5.4-5.7-0 4.6 3.3-1.7 5.4 4.6-3.3 4.6 3.3-1.7-5.4 4.6-3.3-5.7 0zM654 266.2l-1.7 5.4-5.7-0 4.6 3.3-1.7 5.4 4.6-3.3 4.6 3.3-1.7-5.4 4.6-3.3-5.7 0zM654.3 266.8l-1.7 5.4-5.7-0 4.6 3.3-1.7 5.4 4.6-3.3 4.6 3.3-1.7-5.4 4.6-3.3-5.7 0zM654.5 267.3l-1.7 5.4-5.7-0 4.6 3.3-1.7 5.4 4.6-3.3 4.6 3.3-1.7-5.4 4.6-3.3-5.7 0zM654.7 267.8l-1.7 5.4-5.7-0 4.6 3.3-1.7 5.4 4.6-3.3 4.6 3.3-1.7-5.4 4.6-3.3-5.7 0zM654.9 268.4l-1.7 5.4-5.7-0 4.6 3.3-1.7 5.4 4.6-3.3 4.6 3.3-1.7-5.4 4.6-3.3-5.7 0zM655.2 268.9l-1.7 5.4-5.7-0 4.6 3.3-1.7 5.4 4.6-3.3 4.6 3.3-1.7-5.4 4.6-3.3-5.7 0zM655.4 269.4l-1.7 5.4-5.7-0 4.6 3.3-1.7 5.4 4.6-3.3 4.6 3.3-1.7-5.4 4.6-3.3-5.7 0zM655.6 270l-1.7 5.4-5.7-0 4.6 3.3-1.7 5.4 4.6-3.3 4.6 3.3-1.7-5.4 4.6-3.3-5.7 0zM655.8 270.5l-1.7 5.4-5.7-0 4.6 3.3-1.7 5.4 4.6-3.3 4.6 3.3-1.7-5.4 4.6-3.3-5.7 0zM656 271.1l-1.7 5.4-5.7-0 4.6 3.3-1.7 5.4 4.6-3.3 4.6 3.3-1.7-5.4 4.6-3.3-5.7 0zM656.3 271.6l-1.7 5.4-5.7-0 4.6 3.3-1.7 5.4 4.6-3.3 4.6 3.3-1.7-5.4 4.6-3.3-5.7 0zM656.5 272.1l-1.7 5.4-5.7-0 4.6 3.3-1.7 5.4 4.6-3.3 4.6 3.3-1.7-5.4 4.6-3.3-5.7 0zM656.7 272.7l-1.7 5.4-5.7-0 4.6 3.3-1.7 5.4 4.6-3.3 4.6 3.3-1.7-5.4 4.6-3.3-5.7 0zM656.9 273.2l-1.7 5.4-5.7-0 4.6 3.3-1.7 5.4 4.6-3.3 4.6 3.3-1.7-5.4 4.6-3.3-5.7 0zM657.2 273.7l-1.7 5.4-5.7-0 4.6 3.3-1.7 5.4 4.6-3.3 4.6 3.3-1.7-5.4 4.6-3.3-5.7 0zM657.4 274.3l-1.7 5.4-5.7-0 4.6 3.3-1.7 5.4 4.6-3.3 4.6 3.3-1.7-5.4 4.6-3.3-5.7 0zM657.6 274.8l-1.7 5.4-5.7-0 4.6 3.3-1.7 5.4 4.6-3.3 4.6 3.3-1.7-5.4 4.6-3.3-5.7 0zM657.8 275.4l-1.7 5.4-5.7-0 4.6 3.3-1.7 5.4 4.6-3.3 4.6 3.3-1.7-5.4 4.6-3.3-5.7 0zM658 275.9l-1.7 5.4-5.7-0 4.6 3.3-1.7 5.4 4.6-3.3 4.6 3.3-1.7-5.4 4.6-3.3-5.7 0zM658.3 276.4l-1.7 5.4-5.7-0 4.6 3.3-1.7 5.4 4.6-3.3 4.6 3.3-1.7-5.4 4.6-3.3-5.7 0zM658.5 277l-1.7 5.4-5.7-0 4.6 3.3-1.7 5.4 4.6-3.3 4.6 3.3-1.7-5.4 4.6-3.3-5.7 0zM658.7 277.5l-1.7 5.4-5.7-0 4.6 3.3-1.7 5.4 4.6-3.3 4.6 3.3-1.7-5.4 4.6-3.3-5.7 0zM658.9 278.1l-1.7 5.4-5.7-0 4.6 3.3-1.7 5.4 4.6-3.3 4.6 3.3-1.7-5.4 4.6-3.3-5.7 0zM659.1 278.6l-1.7 5.4-5.7-0 4.6 3.3-1.7 5.4 4.6-3.3 4.6 3.3-1.7-5.4 4.6-3.3-5.7 0zM659.3 279.1l-1.7 5.4-5.7-0 4.6 3.3-1.7 5.4 4.6-3.3 4.6 3.3-1.7-5.4 4.6-3.3-5.7 0zM659.6 279.7l-1.7 5.4-5.7-0 4.6 3.3-1.7 5.4 4.6-3.3 4.6 3.3-1.7-5.4 4.6-3.3-5.7 0zM659.8 280.2l-1.7 5.4-5.7-0 4.6 3.3-1.7 5.4 4.6-3.3 4.6 3.3-1.7-5.4 4.6-3.3-5.7 0zM660 280.8l-1.7 5.4-5.7-0 4.6 3.3-1.7 5.4 4.6-3.3 4.6 3.3-1.7-5.4 4.6-3.3-5.7 0zM660.2 281.3l-1.7 5.4-5.7-0 4.6 3.3-1.7 5.4 4.6-3.3 4.6 3.3-1.7-5.4 4.6-3.3-5.7 0zM660.4 281.8l-1.7 5.4-5.7-0 4.6 3.3-1.7 5.4 4.6-3.3 4.6 3.3-1.7-5.4 4.6-3.3-5.7 0zM660.6 282.4l-1.7 5.4-5.7-0 4.6 3.3-1.7 5.4 4.6-3.3 4.6 3.3-1.7-5.4 4.6-3.3-5.7 0zM660.8 282.9l-1.7 5.4-5.7-0 4.6 3.3-1.7 5.4 4.6-3.3 4.6 3.3-1.7-5.4 4.6-3.3-5.7 0zM661 283.5l-1.7 5.4-5.7-0 4.6 3.3-1.7 5.4 4.6-3.3 4.6 3.3-1.7-5.4 4.6-3.3-5.7 0zM661.3 284l-1.7 5.4-5.7-0 4.6 3.3-1.7 5.4 4.6-3.3 4.6 3.3-1.7-5.4 4.6-3.3-5.7 0zM661.5 284.5l-1.7 5.4-5.7-0 4.6 3.3-1.7 5.4 4.6-3.3 4.6 3.3-1.7-5.4 4.6-3.3-5.7 0zM661.7 285.1l-1.7 5.4-5.7-0 4.6 3.3-1.7 5.4 4.6-3.3 4.6 3.3-1.7-5.4 4.6-3.3-5.7 0zM661.9 285.6l-1.7 5.4-5.7-0 4.6 3.3-1.7 5.4 4.6-3.3 4.6 3.3-1.7-5.4 4.6-3.3-5.7 0zM662.1 286.2l-1.7 5.4-5.7-0 4.6 3.3-1.7 5.4 4.6-3.3 4.6 3.3-1.7-5.4 4.6-3.3-5.7 0zM662.3 286.7l-1.7 5.4-5.7-0 4.6 3.3-1.7 5.4 4.6-3.3 4.6 3.3-1.7-5.4 4.6-3.3-5.7 0zM662.5 287.2l-1.7 5.4-5.7-0 4.6 3.3-1.7 5.4 4.6-3.3 4.6 3.3-1.7-5.4 4.6-3.3-5.7 0zM662.7 287.8l-1.7 5.4-5.7-0 4.6 3.3-1.7 5.4 4.6-3.3 4.6 3.3-1.7-5.4 4.6-3.3-5.7 0zM662.9 288.3l-1.7 5.4-5.7-0 4.6 3.3-1.7 5.4 4.6-3.3 4.6 3.3-1.7-5.4 4.6-3.3-5.7 0zM663.2 288.9l-1.7 5.4-5.7-0 4.6 3.3-1.7 5.4 4.6-3.3 4.6 3.3-1.7-5.4 4.6-3.3-5.7 0zM663.4 289.4l-1.7 5.4-5.7-0 4.6 3.3-1.7 5.4 4.6-3.3 4.6 3.3-1.7-5.4 4.6-3.3-5.7 0zM663.6 290l-1.7 5.4-5.7-0 4.6 3.3-1.7 5.4 4.6-3.3 4.6 3.3-1.7-5.4 4.6-3.3-5.7 0zM663.8 290.5l-1.7 5.4-5.7-0 4.6 3.3-1.7 5.4 4.6-3.3 4.6 3.3-1.7-5.4 4.6-3.3-5.7 0zM664 291l-1.7 5.4-5.7-0 4.6 3.3-1.7 5.4 4.6-3.3 4.6 3.3-1.7-5.4 4.6-3.3-5.7 0zM664.2 291.6l-1.7 5.4-5.7-0 4.6 3.3-1.7 5.4 4.6-3.3 4.6 3.3-1.7-5.4 4.6-3.3-5.7 0zM664.4 292.1l-1.7 5.4-5.7-0 4.6 3.3-1.7 5.4 4.6-3.3 4.6 3.3-1.7-5.4 4.6-3.3-5.7 0zM664.6 292.7l-1.7 5.4-5.7-0 4.6 3.3-1.7 5.4 4.6-3.3 4.6 3.3-1.7-5.4 4.6-3.3-5.7 0zM664.8 293.2l-1.7 5.4-5.7-0 4.6 3.3-1.7 5.4 4.6-3.3 4.6 3.3-1.7-5.4 4.6-3.3-5.7 0zM665 293.8l-1.7 5.4-5.7-0 4.6 3.3-1.7 5.4 4.6-3.3 4.6 3.3-1.7-5.4 4.6-3.3-5.7 0zM665.2 294.3l-1.7 5.4-5.7-0 4.6 3.3-1.7 5.4 4.6-3.3 4.6 3.3-1.7-5.4 4.6-3.3-5.7 0zM665.4 294.9l-1.7 5.4-5.7-0 4.6 3.3-1.7 5.4 4.6-3.3 4.6 3.3-1.7-5.4 4.6-3.3-5.7 0zM665.6 295.4l-1.7 5.4-5.7-0 4.6 3.3-1.7 5.4 4.6-3.3 4.6 3.3-1.7-5.4 4.6-3.3-5.7 0zM665.8 295.9l-1.7 5.4-5.7-0 4.6 3.3-1.7 5.4 4.6-3.3 4.6 3.3-1.7-5.4 4.6-3.3-5.7 0zM666 296.5l-1.7 5.4-5.7-0 4.6 3.3-1.7 5.4 4.6-3.3 4.6 3.3-1.7-5.4 4.6-3.3-5.7 0zM666.2 297l-1.7 5.4-5.7-0 4.6 3.3-1.7 5.4 4.6-3.3 4.6 3.3-1.7-5.4 4.6-3.3-5.7 0zM666.4 297.6l-1.7 5.4-5.7-0 4.6 3.3-1.7 5.4 4.6-3.3 4.6 3.3-1.7-5.4 4.6-3.3-5.7 0zM666.6 298.1l-1.7 5.4-5.7-0 4.6 3.3-1.7 5.4 4.6-3.3 4.6 3.3-1.7-5.4 4.6-3.3-5.7 0zM666.8 298.7l-1.7 5.4-5.7-0 4.6 3.3-1.7 5.4 4.6-3.3 4.6 3.3-1.7-5.4 4.6-3.3-5.7 0zM667 299.2l-1.7 5.4-5.7-0 4.6 3.3-1.7 5.4 4.6-3.3 4.6 3.3-1.7-5.4 4.6-3.3-5.7 0zM667.2 299.8l-1.7 5.4-5.7-0 4.6 3.3-1.7 5.4 4.6-3.3 4.6 3.3-1.7-5.4 4.6-3.3-5.7 0zM667.4 300.3l-1.7 5.4-5.7-0 4.6 3.3-1.7 5.4 4.6-3.3 4.6 3.3-1.7-5.4 4.6-3.3-5.7 0zM667.6 300.9l-1.7 5.4-5.7-0 4.6 3.3-1.7 5.4 4.6-3.3 4.6 3.3-1.7-5.4 4.6-3.3-5.7 0zM667.8 301.4l-1.7 5.4-5.7-0 4.6 3.3-1.7 5.4 4.6-3.3 4.6 3.3-1.7-5.4 4.6-3.3-5.7 0zM668 301.9l-1.7 5.4-5.7-0 4.6 3.3-1.7 5.4 4.6-3.3 4.6 3.3-1.7-5.4 4.6-3.3-5.7 0zM668.2 302.5l-1.7 5.4-5.7-0 4.6 3.3-1.7 5.4 4.6-3.3 4.6 3.3-1.7-5.4 4.6-3.3-5.7 0zM668.4 303l-1.7 5.4-5.7-0 4.6 3.3-1.7 5.4 4.6-3.3 4.6 3.3-1.7-5.4 4.6-3.3-5.7 0zM668.6 303.6l-1.7 5.4-5.7-0 4.6 3.3-1.7 5.4 4.6-3.3 4.6 3.3-1.7-5.4 4.6-3.3-5.7 0zM668.8 304.1l-1.7 5.4-5.7-0 4.6 3.3-1.7 5.4 4.6-3.3 4.6 3.3-1.7-5.4 4.6-3.3-5.7 0zM669 304.7l-1.7 5.4-5.7-0 4.6 3.3-1.7 5.4 4.6-3.3 4.6 3.3-1.7-5.4 4.6-3.3-5.7 0zM669.2 305.2l-1.7 5.4-5.7-0 4.6 3.3-1.7 5.4 4.6-3.3 4.6 3.3-1.7-5.4 4.6-3.3-5.7 0zM669.4 305.8l-1.7 5.4-5.7-0 4.6 3.3-1.7 5.4 4.6-3.3 4.6 3.3-1.7-5.4 4.6-3.3-5.7 0zM669.6 306.3l-1.7 5.4-5.7-0 4.6 3.3-1.7 5.4 4.6-3.3 4.6 3.3-1.7-5.4 4.6-3.3-5.7 0zM669.8 306.9l-1.7 5.4-5.7-0 4.6 3.3-1.7 5.4 4.6-3.3 4.6 3.3-1.7-5.4 4.6-3.3-5.7 0zM670 307.4l-1.7 5.4-5.7-0 4.6 3.3-1.7 5.4 4.6-3.3 4.6 3.3-1.7-5.4 4.6-3.3-5.7 0zM670.2 308l-1.7 5.4-5.7-0 4.6 3.3-1.7 5.4 4.6-3.3 4.6 3.3-1.7-5.4 4.6-3.3-5.7 0zM670.4 308.5l-1.7 5.4-5.7-0 4.6 3.3-1.7 5.4 4.6-3.3 4.6 3.3-1.7-5.4 4.6-3.3-5.7 0zM670.6 309.1l-1.7 5.4-5.7-0 4.6 3.3-1.7 5.4 4.6-3.3 4.6 3.3-1.7-5.4 4.6-3.3-5.7 0zM670.8 309.6l-1.7 5.4-5.7-0 4.6 3.3-1.7 5.4 4.6-3.3 4.6 3.3-1.7-5.4 4.6-3.3-5.7 0zM671 310.2l-1.7 5.4-5.7-0 4.6 3.3-1.7 5.4 4.6-3.3 4.6 3.3-1.7-5.4 4.6-3.3-5.7 0zM671.2 310.7l-1.7 5.4-5.7-0 4.6 3.3-1.7 5.4 4.6-3.3 4.6 3.3-1.7-5.4 4.6-3.3-5.7 0zM671.4 311.2l-1.7 5.4-5.7-0 4.6 3.3-1.7 5.4 4.6-3.3 4.6 3.3-1.7-5.4 4.6-3.3-5.7 0zM671.6 311.8l-1.7 5.4-5.7-0 4.6 3.3-1.7 5.4 4.6-3.3 4.6 3.3-1.7-5.4 4.6-3.3-5.7 0zM671.8 312.3l-1.7 5.4-5.7-0 4.6 3.3-1.7 5.4 4.6-3.3 4.6 3.3-1.7-5.4 4.6-3.3-5.7 0zM671.9 312.9l-1.7 5.4-5.7-0 4.6 3.3-1.7 5.4 4.6-3.3 4.6 3.3-1.7-5.4 4.6-3.3-5.7 0zM672.1 313.4l-1.7 5.4-5.7-0 4.6 3.3-1.7 5.4 4.6-3.3 4.6 3.3-1.7-5.4 4.6-3.3-5.7 0zM672.3 314l-1.7 5.4-5.7-0 4.6 3.3-1.7 5.4 4.6-3.3 4.6 3.3-1.7-5.4 4.6-3.3-5.7 0zM672.5 314.5l-1.7 5.4-5.7-0 4.6 3.3-1.7 5.4 4.6-3.3 4.6 3.3-1.7-5.4 4.6-3.3-5.7 0zM672.7 315.1l-1.7 5.4-5.7-0 4.6 3.3-1.7 5.4 4.6-3.3 4.6 3.3-1.7-5.4 4.6-3.3-5.7 0zM672.9 315.6l-1.7 5.4-5.7-0 4.6 3.3-1.7 5.4 4.6-3.3 4.6 3.3-1.7-5.4 4.6-3.3-5.7 0zM673.1 316.2l-1.7 5.4-5.7-0 4.6 3.3-1.7 5.4 4.6-3.3 4.6 3.3-1.7-5.4 4.6-3.3-5.7 0zM673.3 316.7l-1.7 5.4-5.7-0 4.6 3.3-1.7 5.4 4.6-3.3 4.6 3.3-1.7-5.4 4.6-3.3-5.7 0zM673.5 317.3l-1.7 5.4-5.7-0 4.6 3.3-1.7 5.4 4.6-3.3 4.6 3.3-1.7-5.4 4.6-3.3-5.7 0zM673.7 317.8l-1.7 5.4-5.7-0 4.6 3.3-1.7 5.4 4.6-3.3 4.6 3.3-1.7-5.4 4.6-3.3-5.7 0zM673.8 318.4l-1.7 5.4-5.7-0 4.6 3.3-1.7 5.4 4.6-3.3 4.6 3.3-1.7-5.4 4.6-3.3-5.7 0zM674 318.9l-1.7 5.4-5.7-0 4.6 3.3-1.7 5.4 4.6-3.3 4.6 3.3-1.7-5.4 4.6-3.3-5.7 0zM674.2 319.5l-1.7 5.4-5.7-0 4.6 3.3-1.7 5.4 4.6-3.3 4.6 3.3-1.7-5.4 4.6-3.3-5.7 0zM674.4 320l-1.7 5.4-5.7-0 4.6 3.3-1.7 5.4 4.6-3.3 4.6 3.3-1.7-5.4 4.6-3.3-5.7 0zM674.6 320.6l-1.7 5.4-5.7-0 4.6 3.3-1.7 5.4 4.6-3.3 4.6 3.3-1.7-5.4 4.6-3.3-5.7 0zM674.8 321.1l-1.7 5.4-5.7-0 4.6 3.3-1.7 5.4 4.6-3.3 4.6 3.3-1.7-5.4 4.6-3.3-5.7 0zM675 321.7l-1.7 5.4-5.7-0 4.6 3.3-1.7 5.4 4.6-3.3 4.6 3.3-1.7-5.4 4.6-3.3-5.7 0zM675.2 322.2l-1.7 5.4-5.7-0 4.6 3.3-1.7 5.4 4.6-3.3 4.6 3.3-1.7-5.4 4.6-3.3-5.7 0zM675.3 322.8l-1.7 5.4-5.7-0 4.6 3.3-1.7 5.4 4.6-3.3 4.6 3.3-1.7-5.4 4.6-3.3-5.7 0zM675.5 323.3l-1.7 5.4-5.7-0 4.6 3.3-1.7 5.4 4.6-3.3 4.6 3.3-1.7-5.4 4.6-3.3-5.7 0zM675.7 323.9l-1.7 5.4-5.7-0 4.6 3.3-1.7 5.4 4.6-3.3 4.6 3.3-1.7-5.4 4.6-3.3-5.7 0zM675.9 324.4l-1.7 5.4-5.7-0 4.6 3.3-1.7 5.4 4.6-3.3 4.6 3.3-1.7-5.4 4.6-3.3-5.7 0zM676.1 325l-1.7 5.4-5.7-0 4.6 3.3-1.7 5.4 4.6-3.3 4.6 3.3-1.7-5.4 4.6-3.3-5.7 0zM676.3 325.5l-1.7 5.4-5.7-0 4.6 3.3-1.7 5.4 4.6-3.3 4.6 3.3-1.7-5.4 4.6-3.3-5.7 0zM676.5 326.1l-1.7 5.4-5.7-0 4.6 3.3-1.7 5.4 4.6-3.3 4.6 3.3-1.7-5.4 4.6-3.3-5.7 0zM676.6 326.6l-1.7 5.4-5.7-0 4.6 3.3-1.7 5.4 4.6-3.3 4.6 3.3-1.7-5.4 4.6-3.3-5.7 0zM676.8 327.2l-1.7 5.4-5.7-0 4.6 3.3-1.7 5.4 4.6-3.3 4.6 3.3-1.7-5.4 4.6-3.3-5.7 0zM677 327.8l-1.7 5.4-5.7-0 4.6 3.3-1.7 5.4 4.6-3.3 4.6 3.3-1.7-5.4 4.6-3.3-5.7 0zM677.2 328.3l-1.7 5.4-5.7-0 4.6 3.3-1.7 5.4 4.6-3.3 4.6 3.3-1.7-5.4 4.6-3.3-5.7 0zM677.4 328.9l-1.7 5.4-5.7-0 4.6 3.3-1.7 5.4 4.6-3.3 4.6 3.3-1.7-5.4 4.6-3.3-5.7 0zM677.6 329.4l-1.7 5.4-5.7-0 4.6 3.3-1.7 5.4 4.6-3.3 4.6 3.3-1.7-5.4 4.6-3.3-5.7 0zM677.7 330l-1.7 5.4-5.7-0 4.6 3.3-1.7 5.4 4.6-3.3 4.6 3.3-1.7-5.4 4.6-3.3-5.7 0zM677.9 330.5l-1.7 5.4-5.7-0 4.6 3.3-1.7 5.4 4.6-3.3 4.6 3.3-1.7-5.4 4.6-3.3-5.7 0zM678.1 331.1l-1.7 5.4-5.7-0 4.6 3.3-1.7 5.4 4.6-3.3 4.6 3.3-1.7-5.4 4.6-3.3-5.7 0zM678.3 331.6l-1.7 5.4-5.7-0 4.6 3.3-1.7 5.4 4.6-3.3 4.6 3.3-1.7-5.4 4.6-3.3-5.7 0zM678.5 332.2l-1.7 5.4-5.7-0 4.6 3.3-1.7 5.4 4.6-3.3 4.6 3.3-1.7-5.4 4.6-3.3-5.7 0zM678.6 332.7l-1.7 5.4-5.7-0 4.6 3.3-1.7 5.4 4.6-3.3 4.6 3.3-1.7-5.4 4.6-3.3-5.7 0zM678.8 333.3l-1.7 5.4-5.7-0 4.6 3.3-1.7 5.4 4.6-3.3 4.6 3.3-1.7-5.4 4.6-3.3-5.7 0zM679 333.8l-1.7 5.4-5.7-0 4.6 3.3-1.7 5.4 4.6-3.3 4.6 3.3-1.7-5.4 4.6-3.3-5.7 0zM679.2 334.4l-1.7 5.4-5.7-0 4.6 3.3-1.7 5.4 4.6-3.3 4.6 3.3-1.7-5.4 4.6-3.3-5.7 0zM679.4 334.9l-1.7 5.4-5.7-0 4.6 3.3-1.7 5.4 4.6-3.3 4.6 3.3-1.7-5.4 4.6-3.3-5.7 0zM679.5 335.5l-1.7 5.4-5.7-0 4.6 3.3-1.7 5.4 4.6-3.3 4.6 3.3-1.7-5.4 4.6-3.3-5.7 0zM679.7 336l-1.7 5.4-5.7-0 4.6 3.3-1.7 5.4 4.6-3.3 4.6 3.3-1.7-5.4 4.6-3.3-5.7 0zM679.9 336.6l-1.7 5.4-5.7-0 4.6 3.3-1.7 5.4 4.6-3.3 4.6 3.3-1.7-5.4 4.6-3.3-5.7 0zM680.1 337.2l-1.7 5.4-5.7-0 4.6 3.3-1.7 5.4 4.6-3.3 4.6 3.3-1.7-5.4 4.6-3.3-5.7 0zM680.2 337.7l-1.7 5.4-5.7-0 4.6 3.3-1.7 5.4 4.6-3.3 4.6 3.3-1.7-5.4 4.6-3.3-5.7 0zM680.4 338.3l-1.7 5.4-5.7-0 4.6 3.3-1.7 5.4 4.6-3.3 4.6 3.3-1.7-5.4 4.6-3.3-5.7 0zM680.6 338.8l-1.7 5.4-5.7-0 4.6 3.3-1.7 5.4 4.6-3.3 4.6 3.3-1.7-5.4 4.6-3.3-5.7 0zM680.8 339.4l-1.7 5.4-5.7-0 4.6 3.3-1.7 5.4 4.6-3.3 4.6 3.3-1.7-5.4 4.6-3.3-5.7 0zM681 339.9l-1.7 5.4-5.7-0 4.6 3.3-1.7 5.4 4.6-3.3 4.6 3.3-1.7-5.4 4.6-3.3-5.7 0zM681.1 340.5l-1.7 5.4-5.7-0 4.6 3.3-1.7 5.4 4.6-3.3 4.6 3.3-1.7-5.4 4.6-3.3-5.7 0zM681.3 341l-1.7 5.4-5.7-0 4.6 3.3-1.7 5.4 4.6-3.3 4.6 3.3-1.7-5.4 4.6-3.3-5.7 0zM681.5 341.6l-1.7 5.4-5.7-0 4.6 3.3-1.7 5.4 4.6-3.3 4.6 3.3-1.7-5.4 4.6-3.3-5.7 0zM681.7 342.1l-1.7 5.4-5.7-0 4.6 3.3-1.7 5.4 4.6-3.3 4.6 3.3-1.7-5.4 4.6-3.3-5.7 0zM681.8 342.7l-1.7 5.4-5.7-0 4.6 3.3-1.7 5.4 4.6-3.3 4.6 3.3-1.7-5.4 4.6-3.3-5.7 0zM682 343.2l-1.7 5.4-5.7-0 4.6 3.3-1.7 5.4 4.6-3.3 4.6 3.3-1.7-5.4 4.6-3.3-5.7 0zM682.2 343.8l-1.7 5.4-5.7-0 4.6 3.3-1.7 5.4 4.6-3.3 4.6 3.3-1.7-5.4 4.6-3.3-5.7 0zM682.4 344.4l-1.7 5.4-5.7-0 4.6 3.3-1.7 5.4 4.6-3.3 4.6 3.3-1.7-5.4 4.6-3.3-5.7 0zM682.5 344.9l-1.7 5.4-5.7-0 4.6 3.3-1.7 5.4 4.6-3.3 4.6 3.3-1.7-5.4 4.6-3.3-5.7 0zM682.7 345.5l-1.7 5.4-5.7-0 4.6 3.3-1.7 5.4 4.6-3.3 4.6 3.3-1.7-5.4 4.6-3.3-5.7 0zM682.9 346l-1.7 5.4-5.7-0 4.6 3.3-1.7 5.4 4.6-3.3 4.6 3.3-1.7-5.4 4.6-3.3-5.7 0zM683.1 346.6l-1.7 5.4-5.7-0 4.6 3.3-1.7 5.4 4.6-3.3 4.6 3.3-1.7-5.4 4.6-3.3-5.7 0zM683.2 347.1l-1.7 5.4-5.7-0 4.6 3.3-1.7 5.4 4.6-3.3 4.6 3.3-1.7-5.4 4.6-3.3-5.7 0zM683.4 347.7l-1.7 5.4-5.7-0 4.6 3.3-1.7 5.4 4.6-3.3 4.6 3.3-1.7-5.4 4.6-3.3-5.7 0zM683.6 348.2l-1.7 5.4-5.7-0 4.6 3.3-1.7 5.4 4.6-3.3 4.6 3.3-1.7-5.4 4.6-3.3-5.7 0zM683.7 348.8l-1.7 5.4-5.7-0 4.6 3.3-1.7 5.4 4.6-3.3 4.6 3.3-1.7-5.4 4.6-3.3-5.7 0zM683.9 349.4l-1.7 5.4-5.7-0 4.6 3.3-1.7 5.4 4.6-3.3 4.6 3.3-1.7-5.4 4.6-3.3-5.7 0zM684.1 349.9l-1.7 5.4-5.7-0 4.6 3.3-1.7 5.4 4.6-3.3 4.6 3.3-1.7-5.4 4.6-3.3-5.7 0zM684.3 350.5l-1.7 5.4-5.7-0 4.6 3.3-1.7 5.4 4.6-3.3 4.6 3.3-1.7-5.4 4.6-3.3-5.7 0zM684.4 351l-1.7 5.4-5.7-0 4.6 3.3-1.7 5.4 4.6-3.3 4.6 3.3-1.7-5.4 4.6-3.3-5.7 0zM684.6 351.6l-1.7 5.4-5.7-0 4.6 3.3-1.7 5.4 4.6-3.3 4.6 3.3-1.7-5.4 4.6-3.3-5.7 0zM684.8 352.1l-1.7 5.4-5.7-0 4.6 3.3-1.7 5.4 4.6-3.3 4.6 3.3-1.7-5.4 4.6-3.3-5.7 0zM684.9 352.7l-1.7 5.4-5.7-0 4.6 3.3-1.7 5.4 4.6-3.3 4.6 3.3-1.7-5.4 4.6-3.3-5.7 0zM685.1 353.3l-1.7 5.4-5.7-0 4.6 3.3-1.7 5.4 4.6-3.3 4.6 3.3-1.7-5.4 4.6-3.3-5.7 0zM685.3 353.8l-1.7 5.4-5.7-0 4.6 3.3-1.7 5.4 4.6-3.3 4.6 3.3-1.7-5.4 4.6-3.3-5.7 0zM685.4 354.4l-1.7 5.4-5.7-0 4.6 3.3-1.7 5.4 4.6-3.3 4.6 3.3-1.7-5.4 4.6-3.3-5.7 0zM685.6 354.9l-1.7 5.4-5.7-0 4.6 3.3-1.7 5.4 4.6-3.3 4.6 3.3-1.7-5.4 4.6-3.3-5.7 0zM685.8 355.5l-1.7 5.4-5.7-0 4.6 3.3-1.7 5.4 4.6-3.3 4.6 3.3-1.7-5.4 4.6-3.3-5.7 0zM686 356l-1.7 5.4-5.7-0 4.6 3.3-1.7 5.4 4.6-3.3 4.6 3.3-1.7-5.4 4.6-3.3-5.7 0zM686.1 356.6l-1.7 5.4-5.7-0 4.6 3.3-1.7 5.4 4.6-3.3 4.6 3.3-1.7-5.4 4.6-3.3-5.7 0zM686.3 357.1l-1.7 5.4-5.7-0 4.6 3.3-1.7 5.4 4.6-3.3 4.6 3.3-1.7-5.4 4.6-3.3-5.7 0zM686.5 357.7l-1.7 5.4-5.7-0 4.6 3.3-1.7 5.4 4.6-3.3 4.6 3.3-1.7-5.4 4.6-3.3-5.7 0zM686.6 358.3l-1.7 5.4-5.7-0 4.6 3.3-1.7 5.4 4.6-3.3 4.6 3.3-1.7-5.4 4.6-3.3-5.7 0zM686.8 358.8l-1.7 5.4-5.7-0 4.6 3.3-1.7 5.4 4.6-3.3 4.6 3.3-1.7-5.4 4.6-3.3-5.7 0zM687 359.4l-1.7 5.4-5.7-0 4.6 3.3-1.7 5.4 4.6-3.3 4.6 3.3-1.7-5.4 4.6-3.3-5.7 0zM687.1 359.9l-1.7 5.4-5.7-0 4.6 3.3-1.7 5.4 4.6-3.3 4.6 3.3-1.7-5.4 4.6-3.3-5.7 0zM687.3 360.5l-1.7 5.4-5.7-0 4.6 3.3-1.7 5.4 4.6-3.3 4.6 3.3-1.7-5.4 4.6-3.3-5.7 0zM687.5 361.1l-1.7 5.4-5.7-0 4.6 3.3-1.7 5.4 4.6-3.3 4.6 3.3-1.7-5.4 4.6-3.3-5.7 0zM687.6 361.6l-1.7 5.4-5.7-0 4.6 3.3-1.7 5.4 4.6-3.3 4.6 3.3-1.7-5.4 4.6-3.3-5.7 0zM687.8 362.2l-1.7 5.4-5.7-0 4.6 3.3-1.7 5.4 4.6-3.3 4.6 3.3-1.7-5.4 4.6-3.3-5.7 0zM688 362.7l-1.7 5.4-5.7-0 4.6 3.3-1.7 5.4 4.6-3.3 4.6 3.3-1.7-5.4 4.6-3.3-5.7 0zM688.1 363.3l-1.7 5.4-5.7-0 4.6 3.3-1.7 5.4 4.6-3.3 4.6 3.3-1.7-5.4 4.6-3.3-5.7 0zM688.3 363.8l-1.7 5.4-5.7-0 4.6 3.3-1.7 5.4 4.6-3.3 4.6 3.3-1.7-5.4 4.6-3.3-5.7 0zM688.4 364.4l-1.7 5.4-5.7-0 4.6 3.3-1.7 5.4 4.6-3.3 4.6 3.3-1.7-5.4 4.6-3.3-5.7 0zM688.6 365l-1.7 5.4-5.7-0 4.6 3.3-1.7 5.4 4.6-3.3 4.6 3.3-1.7-5.4 4.6-3.3-5.7 0zM688.8 365.5l-1.7 5.4-5.7-0 4.6 3.3-1.7 5.4 4.6-3.3 4.6 3.3-1.7-5.4 4.6-3.3-5.7 0zM688.9 366.1l-1.7 5.4-5.7-0 4.6 3.3-1.7 5.4 4.6-3.3 4.6 3.3-1.7-5.4 4.6-3.3-5.7 0zM689.1 366.6l-1.7 5.4-5.7-0 4.6 3.3-1.7 5.4 4.6-3.3 4.6 3.3-1.7-5.4 4.6-3.3-5.7 0zM689.3 367.2l-1.7 5.4-5.7-0 4.6 3.3-1.7 5.4 4.6-3.3 4.6 3.3-1.7-5.4 4.6-3.3-5.7 0zM689.4 367.8l-1.7 5.4-5.7-0 4.6 3.3-1.7 5.4 4.6-3.3 4.6 3.3-1.7-5.4 4.6-3.3-5.7 0zM689.6 368.3l-1.7 5.4-5.7-0 4.6 3.3-1.7 5.4 4.6-3.3 4.6 3.3-1.7-5.4 4.6-3.3-5.7 0zM689.8 368.9l-1.7 5.4-5.7-0 4.6 3.3-1.7 5.4 4.6-3.3 4.6 3.3-1.7-5.4 4.6-3.3-5.7 0zM689.9 369.4l-1.7 5.4-5.7-0 4.6 3.3-1.7 5.4 4.6-3.3 4.6 3.3-1.7-5.4 4.6-3.3-5.7 0zM690.1 370l-1.7 5.4-5.7-0 4.6 3.3-1.7 5.4 4.6-3.3 4.6 3.3-1.7-5.4 4.6-3.3-5.7 0zM690.2 370.5l-1.7 5.4-5.7-0 4.6 3.3-1.7 5.4 4.6-3.3 4.6 3.3-1.7-5.4 4.6-3.3-5.7 0zM690.4 371.1l-1.7 5.4-5.7-0 4.6 3.3-1.7 5.4 4.6-3.3 4.6 3.3-1.7-5.4 4.6-3.3-5.7 0zM690.6 371.7l-1.7 5.4-5.7-0 4.6 3.3-1.7 5.4 4.6-3.3 4.6 3.3-1.7-5.4 4.6-3.3-5.7 0zM690.7 372.2l-1.7 5.4-5.7-0 4.6 3.3-1.7 5.4 4.6-3.3 4.6 3.3-1.7-5.4 4.6-3.3-5.7 0zM690.9 372.8l-1.7 5.4-5.7-0 4.6 3.3-1.7 5.4 4.6-3.3 4.6 3.3-1.7-5.4 4.6-3.3-5.7 0zM691 373.3l-1.7 5.4-5.7-0 4.6 3.3-1.7 5.4 4.6-3.3 4.6 3.3-1.7-5.4 4.6-3.3-5.7 0zM691.2 373.9l-1.7 5.4-5.7-0 4.6 3.3-1.7 5.4 4.6-3.3 4.6 3.3-1.7-5.4 4.6-3.3-5.7 0zM691.4 374.5l-1.7 5.4-5.7-0 4.6 3.3-1.7 5.4 4.6-3.3 4.6 3.3-1.7-5.4 4.6-3.3-5.7 0zM691.5 375l-1.7 5.4-5.7-0 4.6 3.3-1.7 5.4 4.6-3.3 4.6 3.3-1.7-5.4 4.6-3.3-5.7 0zM691.7 375.6l-1.7 5.4-5.7-0 4.6 3.3-1.7 5.4 4.6-3.3 4.6 3.3-1.7-5.4 4.6-3.3-5.7 0zM691.8 376.1l-1.7 5.4-5.7-0 4.6 3.3-1.7 5.4 4.6-3.3 4.6 3.3-1.7-5.4 4.6-3.3-5.7 0zM692 376.7l-1.7 5.4-5.7-0 4.6 3.3-1.7 5.4 4.6-3.3 4.6 3.3-1.7-5.4 4.6-3.3-5.7 0zM692.2 377.3l-1.7 5.4-5.7-0 4.6 3.3-1.7 5.4 4.6-3.3 4.6 3.3-1.7-5.4 4.6-3.3-5.7 0zM692.3 377.8l-1.7 5.4-5.7-0 4.6 3.3-1.7 5.4 4.6-3.3 4.6 3.3-1.7-5.4 4.6-3.3-5.7 0zM692.5 378.4l-1.7 5.4-5.7-0 4.6 3.3-1.7 5.4 4.6-3.3 4.6 3.3-1.7-5.4 4.6-3.3-5.7 0zM692.6 378.9l-1.7 5.4-5.7-0 4.6 3.3-1.7 5.4 4.6-3.3 4.6 3.3-1.7-5.4 4.6-3.3-5.7 0zM692.8 379.5l-1.7 5.4-5.7-0 4.6 3.3-1.7 5.4 4.6-3.3 4.6 3.3-1.7-5.4 4.6-3.3-5.7 0zM693 380.1l-1.7 5.4-5.7-0 4.6 3.3-1.7 5.4 4.6-3.3 4.6 3.3-1.7-5.4 4.6-3.3-5.7 0zM693.1 380.6l-1.7 5.4-5.7-0 4.6 3.3-1.7 5.4 4.6-3.3 4.6 3.3-1.7-5.4 4.6-3.3-5.7 0zM693.3 381.2l-1.7 5.4-5.7-0 4.6 3.3-1.7 5.4 4.6-3.3 4.6 3.3-1.7-5.4 4.6-3.3-5.7 0zM693.4 381.7l-1.7 5.4-5.7-0 4.6 3.3-1.7 5.4 4.6-3.3 4.6 3.3-1.7-5.4 4.6-3.3-5.7 0zM693.6 382.3l-1.7 5.4-5.7-0 4.6 3.3-1.7 5.4 4.6-3.3 4.6 3.3-1.7-5.4 4.6-3.3-5.7 0zM693.7 382.9l-1.7 5.4-5.7-0 4.6 3.3-1.7 5.4 4.6-3.3 4.6 3.3-1.7-5.4 4.6-3.3-5.7 0zM693.9 383.4l-1.7 5.4-5.7-0 4.6 3.3-1.7 5.4 4.6-3.3 4.6 3.3-1.7-5.4 4.6-3.3-5.7 0zM694.1 384l-1.7 5.4-5.7-0 4.6 3.3-1.7 5.4 4.6-3.3 4.6 3.3-1.7-5.4 4.6-3.3-5.7 0zM694.2 384.6l-1.7 5.4-5.7-0 4.6 3.3-1.7 5.4 4.6-3.3 4.6 3.3-1.7-5.4 4.6-3.3-5.7 0zM694.4 385.1l-1.7 5.4-5.7-0 4.6 3.3-1.7 5.4 4.6-3.3 4.6 3.3-1.7-5.4 4.6-3.3-5.7 0zM694.5 385.7l-1.7 5.4-5.7-0 4.6 3.3-1.7 5.4 4.6-3.3 4.6 3.3-1.7-5.4 4.6-3.3-5.7 0zM694.7 386.2l-1.7 5.4-5.7-0 4.6 3.3-1.7 5.4 4.6-3.3 4.6 3.3-1.7-5.4 4.6-3.3-5.7 0zM694.8 386.8l-1.7 5.4-5.7-0 4.6 3.3-1.7 5.4 4.6-3.3 4.6 3.3-1.7-5.4 4.6-3.3-5.7 0zM695 387.4l-1.7 5.4-5.7-0 4.6 3.3-1.7 5.4 4.6-3.3 4.6 3.3-1.7-5.4 4.6-3.3-5.7 0zM695.1 387.9l-1.7 5.4-5.7-0 4.6 3.3-1.7 5.4 4.6-3.3 4.6 3.3-1.7-5.4 4.6-3.3-5.7 0zM695.3 388.5l-1.7 5.4-5.7-0 4.6 3.3-1.7 5.4 4.6-3.3 4.6 3.3-1.7-5.4 4.6-3.3-5.7 0zM695.4 389l-1.7 5.4-5.7-0 4.6 3.3-1.7 5.4 4.6-3.3 4.6 3.3-1.7-5.4 4.6-3.3-5.7 0zM695.6 389.6l-1.7 5.4-5.7-0 4.6 3.3-1.7 5.4 4.6-3.3 4.6 3.3-1.7-5.4 4.6-3.3-5.7 0zM695.8 390.2l-1.7 5.4-5.7-0 4.6 3.3-1.7 5.4 4.6-3.3 4.6 3.3-1.7-5.4 4.6-3.3-5.7 0zM695.9 390.7l-1.7 5.4-5.7-0 4.6 3.3-1.7 5.4 4.6-3.3 4.6 3.3-1.7-5.4 4.6-3.3-5.7 0zM696.1 391.3l-1.7 5.4-5.7-0 4.6 3.3-1.7 5.4 4.6-3.3 4.6 3.3-1.7-5.4 4.6-3.3-5.7 0zM696.2 391.9l-1.7 5.4-5.7-0 4.6 3.3-1.7 5.4 4.6-3.3 4.6 3.3-1.7-5.4 4.6-3.3-5.7 0zM696.4 392.4l-1.7 5.4-5.7-0 4.6 3.3-1.7 5.4 4.6-3.3 4.6 3.3-1.7-5.4 4.6-3.3-5.7 0zM696.5 393l-1.7 5.4-5.7-0 4.6 3.3-1.7 5.4 4.6-3.3 4.6 3.3-1.7-5.4 4.6-3.3-5.7 0zM696.7 393.5l-1.7 5.4-5.7-0 4.6 3.3-1.7 5.4 4.6-3.3 4.6 3.3-1.7-5.4 4.6-3.3-5.7 0zM696.8 394.1l-1.7 5.4-5.7-0 4.6 3.3-1.7 5.4 4.6-3.3 4.6 3.3-1.7-5.4 4.6-3.3-5.7 0zM697 394.7l-1.7 5.4-5.7-0 4.6 3.3-1.7 5.4 4.6-3.3 4.6 3.3-1.7-5.4 4.6-3.3-5.7 0zM697.1 395.2l-1.7 5.4-5.7-0 4.6 3.3-1.7 5.4 4.6-3.3 4.6 3.3-1.7-5.4 4.6-3.3-5.7 0zM697.3 395.8l-1.7 5.4-5.7-0 4.6 3.3-1.7 5.4 4.6-3.3 4.6 3.3-1.7-5.4 4.6-3.3-5.7 0zM697.4 396.4l-1.7 5.4-5.7-0 4.6 3.3-1.7 5.4 4.6-3.3 4.6 3.3-1.7-5.4 4.6-3.3-5.7 0zM697.6 396.9l-1.7 5.4-5.7-0 4.6 3.3-1.7 5.4 4.6-3.3 4.6 3.3-1.7-5.4 4.6-3.3-5.7 0zM697.7 397.5l-1.7 5.4-5.7-0 4.6 3.3-1.7 5.4 4.6-3.3 4.6 3.3-1.7-5.4 4.6-3.3-5.7 0zM697.9 398l-1.7 5.4-5.7-0 4.6 3.3-1.7 5.4 4.6-3.3 4.6 3.3-1.7-5.4 4.6-3.3-5.7 0zM698 398.6l-1.7 5.4-5.7-0 4.6 3.3-1.7 5.4 4.6-3.3 4.6 3.3-1.7-5.4 4.6-3.3-5.7 0zM698.2 399.2l-1.7 5.4-5.7-0 4.6 3.3-1.7 5.4 4.6-3.3 4.6 3.3-1.7-5.4 4.6-3.3-5.7 0zM698.3 399.7l-1.7 5.4-5.7-0 4.6 3.3-1.7 5.4 4.6-3.3 4.6 3.3-1.7-5.4 4.6-3.3-5.7 0zM698.5 400.3l-1.7 5.4-5.7-0 4.6 3.3-1.7 5.4 4.6-3.3 4.6 3.3-1.7-5.4 4.6-3.3-5.7 0zM698.6 400.9l-1.7 5.4-5.7-0 4.6 3.3-1.7 5.4 4.6-3.3 4.6 3.3-1.7-5.4 4.6-3.3-5.7 0zM698.8 401.4l-1.7 5.4-5.7-0 4.6 3.3-1.7 5.4 4.6-3.3 4.6 3.3-1.7-5.4 4.6-3.3-5.7 0zM698.9 402l-1.7 5.4-5.7-0 4.6 3.3-1.7 5.4 4.6-3.3 4.6 3.3-1.7-5.4 4.6-3.3-5.7 0zM699.1 402.6l-1.7 5.4-5.7-0 4.6 3.3-1.7 5.4 4.6-3.3 4.6 3.3-1.7-5.4 4.6-3.3-5.7 0zM699.2 403.1l-1.7 5.4-5.7-0 4.6 3.3-1.7 5.4 4.6-3.3 4.6 3.3-1.7-5.4 4.6-3.3-5.7 0zM699.4 403.7l-1.7 5.4-5.7-0 4.6 3.3-1.7 5.4 4.6-3.3 4.6 3.3-1.7-5.4 4.6-3.3-5.7 0zM699.5 404.2l-1.7 5.4-5.7-0 4.6 3.3-1.7 5.4 4.6-3.3 4.6 3.3-1.7-5.4 4.6-3.3-5.7 0zM699.7 404.8l-1.7 5.4-5.7-0 4.6 3.3-1.7 5.4 4.6-3.3 4.6 3.3-1.7-5.4 4.6-3.3-5.7 0zM699.8 405.4l-1.7 5.4-5.7-0 4.6 3.3-1.7 5.4 4.6-3.3 4.6 3.3-1.7-5.4 4.6-3.3-5.7 0zM700 405.9l-1.7 5.4-5.7-0 4.6 3.3-1.7 5.4 4.6-3.3 4.6 3.3-1.7-5.4 4.6-3.3-5.7 0zM700.1 406.5l-1.7 5.4-5.7-0 4.6 3.3-1.7 5.4 4.6-3.3 4.6 3.3-1.7-5.4 4.6-3.3-5.7 0zM700.3 407.1l-1.7 5.4-5.7-0 4.6 3.3-1.7 5.4 4.6-3.3 4.6 3.3-1.7-5.4 4.6-3.3-5.7 0zM700.4 407.6l-1.7 5.4-5.7-0 4.6 3.3-1.7 5.4 4.6-3.3 4.6 3.3-1.7-5.4 4.6-3.3-5.7 0zM700.6 408.2l-1.7 5.4-5.7-0 4.6 3.3-1.7 5.4 4.6-3.3 4.6 3.3-1.7-5.4 4.6-3.3-5.7 0zM700.7 408.8l-1.7 5.4-5.7-0 4.6 3.3-1.7 5.4 4.6-3.3 4.6 3.3-1.7-5.4 4.6-3.3-5.7 0zM700.8 409.3l-1.7 5.4-5.7-0 4.6 3.3-1.7 5.4 4.6-3.3 4.6 3.3-1.7-5.4 4.6-3.3-5.7 0zM701 409.9l-1.7 5.4-5.7-0 4.6 3.3-1.7 5.4 4.6-3.3 4.6 3.3-1.7-5.4 4.6-3.3-5.7 0zM701.1 410.4l-1.7 5.4-5.7-0 4.6 3.3-1.7 5.4 4.6-3.3 4.6 3.3-1.7-5.4 4.6-3.3-5.7 0zM701.3 411l-1.7 5.4-5.7-0 4.6 3.3-1.7 5.4 4.6-3.3 4.6 3.3-1.7-5.4 4.6-3.3-5.7 0zM701.4 411.6l-1.7 5.4-5.7-0 4.6 3.3-1.7 5.4 4.6-3.3 4.6 3.3-1.7-5.4 4.6-3.3-5.7 0zM701.6 412.1l-1.7 5.4-5.7-0 4.6 3.3-1.7 5.4 4.6-3.3 4.6 3.3-1.7-5.4 4.6-3.3-5.7 0zM701.7 412.7l-1.7 5.4-5.7-0 4.6 3.3-1.7 5.4 4.6-3.3 4.6 3.3-1.7-5.4 4.6-3.3-5.7 0zM701.9 413.3l-1.7 5.4-5.7-0 4.6 3.3-1.7 5.4 4.6-3.3 4.6 3.3-1.7-5.4 4.6-3.3-5.7 0zM702 413.8l-1.7 5.4-5.7-0 4.6 3.3-1.7 5.4 4.6-3.3 4.6 3.3-1.7-5.4 4.6-3.3-5.7 0zM702.2 414.4l-1.7 5.4-5.7-0 4.6 3.3-1.7 5.4 4.6-3.3 4.6 3.3-1.7-5.4 4.6-3.3-5.7 0zM702.3 415l-1.7 5.4-5.7-0 4.6 3.3-1.7 5.4 4.6-3.3 4.6 3.3-1.7-5.4 4.6-3.3-5.7 0zM702.4 415.5l-1.7 5.4-5.7-0 4.6 3.3-1.7 5.4 4.6-3.3 4.6 3.3-1.7-5.4 4.6-3.3-5.7 0zM702.6 416.1l-1.7 5.4-5.7-0 4.6 3.3-1.7 5.4 4.6-3.3 4.6 3.3-1.7-5.4 4.6-3.3-5.7 0zM702.7 416.7l-1.7 5.4-5.7-0 4.6 3.3-1.7 5.4 4.6-3.3 4.6 3.3-1.7-5.4 4.6-3.3-5.7 0zM702.9 417.2l-1.7 5.4-5.7-0 4.6 3.3-1.7 5.4 4.6-3.3 4.6 3.3-1.7-5.4 4.6-3.3-5.7 0zM703 417.8l-1.7 5.4-5.7-0 4.6 3.3-1.7 5.4 4.6-3.3 4.6 3.3-1.7-5.4 4.6-3.3-5.7 0zM703.2 418.4l-1.7 5.4-5.7-0 4.6 3.3-1.7 5.4 4.6-3.3 4.6 3.3-1.7-5.4 4.6-3.3-5.7 0zM703.3 418.9l-1.7 5.4-5.7-0 4.6 3.3-1.7 5.4 4.6-3.3 4.6 3.3-1.7-5.4 4.6-3.3-5.7 0zM703.5 419.5l-1.7 5.4-5.7-0 4.6 3.3-1.7 5.4 4.6-3.3 4.6 3.3-1.7-5.4 4.6-3.3-5.7 0zM703.6 420l-1.7 5.4-5.7-0 4.6 3.3-1.7 5.4 4.6-3.3 4.6 3.3-1.7-5.4 4.6-3.3-5.7 0zM703.7 420.6l-1.7 5.4-5.7-0 4.6 3.3-1.7 5.4 4.6-3.3 4.6 3.3-1.7-5.4 4.6-3.3-5.7 0zM703.9 421.2l-1.7 5.4-5.7-0 4.6 3.3-1.7 5.4 4.6-3.3 4.6 3.3-1.7-5.4 4.6-3.3-5.7 0zM704 421.7l-1.7 5.4-5.7-0 4.6 3.3-1.7 5.4 4.6-3.3 4.6 3.3-1.7-5.4 4.6-3.3-5.7 0zM704.2 422.3l-1.7 5.4-5.7-0 4.6 3.3-1.7 5.4 4.6-3.3 4.6 3.3-1.7-5.4 4.6-3.3-5.7 0zM704.3 422.9l-1.7 5.4-5.7-0 4.6 3.3-1.7 5.4 4.6-3.3 4.6 3.3-1.7-5.4 4.6-3.3-5.7 0zM704.4 423.4l-1.7 5.4-5.7-0 4.6 3.3-1.7 5.4 4.6-3.3 4.6 3.3-1.7-5.4 4.6-3.3-5.7 0zM704.6 424l-1.7 5.4-5.7-0 4.6 3.3-1.7 5.4 4.6-3.3 4.6 3.3-1.7-5.4 4.6-3.3-5.7 0zM704.7 424.6l-1.7 5.4-5.7-0 4.6 3.3-1.7 5.4 4.6-3.3 4.6 3.3-1.7-5.4 4.6-3.3-5.7 0zM704.9 425.1l-1.7 5.4-5.7-0 4.6 3.3-1.7 5.4 4.6-3.3 4.6 3.3-1.7-5.4 4.6-3.3-5.7 0zM705 425.7l-1.7 5.4-5.7-0 4.6 3.3-1.7 5.4 4.6-3.3 4.6 3.3-1.7-5.4 4.6-3.3-5.7 0zM705.2 426.3l-1.7 5.4-5.7-0 4.6 3.3-1.7 5.4 4.6-3.3 4.6 3.3-1.7-5.4 4.6-3.3-5.7 0zM705.3 426.8l-1.7 5.4-5.7-0 4.6 3.3-1.7 5.4 4.6-3.3 4.6 3.3-1.7-5.4 4.6-3.3-5.7 0zM705.4 427.4l-1.7 5.4-5.7-0 4.6 3.3-1.7 5.4 4.6-3.3 4.6 3.3-1.7-5.4 4.6-3.3-5.7 0zM705.6 428l-1.7 5.4-5.7-0 4.6 3.3-1.7 5.4 4.6-3.3 4.6 3.3-1.7-5.4 4.6-3.3-5.7 0zM705.7 428.5l-1.7 5.4-5.7-0 4.6 3.3-1.7 5.4 4.6-3.3 4.6 3.3-1.7-5.4 4.6-3.3-5.7 0zM705.9 429.1l-1.7 5.4-5.7-0 4.6 3.3-1.7 5.4 4.6-3.3 4.6 3.3-1.7-5.4 4.6-3.3-5.7 0zM706 429.7l-1.7 5.4-5.7-0 4.6 3.3-1.7 5.4 4.6-3.3 4.6 3.3-1.7-5.4 4.6-3.3-5.7 0zM706.1 430.2l-1.7 5.4-5.7-0 4.6 3.3-1.7 5.4 4.6-3.3 4.6 3.3-1.7-5.4 4.6-3.3-5.7 0zM706.3 430.8l-1.7 5.4-5.7-0 4.6 3.3-1.7 5.4 4.6-3.3 4.6 3.3-1.7-5.4 4.6-3.3-5.7 0zM706.4 431.4l-1.7 5.4-5.7-0 4.6 3.3-1.7 5.4 4.6-3.3 4.6 3.3-1.7-5.4 4.6-3.3-5.7 0zM706.5 431.9l-1.7 5.4-5.7-0 4.6 3.3-1.7 5.4 4.6-3.3 4.6 3.3-1.7-5.4 4.6-3.3-5.7 0zM706.7 432.5l-1.7 5.4-5.7-0 4.6 3.3-1.7 5.4 4.6-3.3 4.6 3.3-1.7-5.4 4.6-3.3-5.7 0zM706.8 433.1l-1.7 5.4-5.7-0 4.6 3.3-1.7 5.4 4.6-3.3 4.6 3.3-1.7-5.4 4.6-3.3-5.7 0zM707 433.6l-1.7 5.4-5.7-0 4.6 3.3-1.7 5.4 4.6-3.3 4.6 3.3-1.7-5.4 4.6-3.3-5.7 0zM707.1 434.2l-1.7 5.4-5.7-0 4.6 3.3-1.7 5.4 4.6-3.3 4.6 3.3-1.7-5.4 4.6-3.3-5.7 0zM707.2 434.8l-1.7 5.4-5.7-0 4.6 3.3-1.7 5.4 4.6-3.3 4.6 3.3-1.7-5.4 4.6-3.3-5.7 0zM707.4 435.3l-1.7 5.4-5.7-0 4.6 3.3-1.7 5.4 4.6-3.3 4.6 3.3-1.7-5.4 4.6-3.3-5.7 0zM707.5 435.9l-1.7 5.4-5.7-0 4.6 3.3-1.7 5.4 4.6-3.3 4.6 3.3-1.7-5.4 4.6-3.3-5.7 0zM707.7 436.5l-1.7 5.4-5.7-0 4.6 3.3-1.7 5.4 4.6-3.3 4.6 3.3-1.7-5.4 4.6-3.3-5.7 0zM707.8 437l-1.7 5.4-5.7-0 4.6 3.3-1.7 5.4 4.6-3.3 4.6 3.3-1.7-5.4 4.6-3.3-5.7 0zM707.9 437.6l-1.7 5.4-5.7-0 4.6 3.3-1.7 5.4 4.6-3.3 4.6 3.3-1.7-5.4 4.6-3.3-5.7 0zM708.1 438.2l-1.7 5.4-5.7-0 4.6 3.3-1.7 5.4 4.6-3.3 4.6 3.3-1.7-5.4 4.6-3.3-5.7 0zM708.2 438.7l-1.7 5.4-5.7-0 4.6 3.3-1.7 5.4 4.6-3.3 4.6 3.3-1.7-5.4 4.6-3.3-5.7 0zM708.3 439.3l-1.7 5.4-5.7-0 4.6 3.3-1.7 5.4 4.6-3.3 4.6 3.3-1.7-5.4 4.6-3.3-5.7 0zM708.5 439.9l-1.7 5.4-5.7-0 4.6 3.3-1.7 5.4 4.6-3.3 4.6 3.3-1.7-5.4 4.6-3.3-5.7 0zM708.6 440.4l-1.7 5.4-5.7-0 4.6 3.3-1.7 5.4 4.6-3.3 4.6 3.3-1.7-5.4 4.6-3.3-5.7 0zM708.7 441l-1.7 5.4-5.7-0 4.6 3.3-1.7 5.4 4.6-3.3 4.6 3.3-1.7-5.4 4.6-3.3-5.7 0zM708.9 441.6l-1.7 5.4-5.7-0 4.6 3.3-1.7 5.4 4.6-3.3 4.6 3.3-1.7-5.4 4.6-3.3-5.7 0zM709 442.1l-1.7 5.4-5.7-0 4.6 3.3-1.7 5.4 4.6-3.3 4.6 3.3-1.7-5.4 4.6-3.3-5.7 0zM709.2 442.7l-1.7 5.4-5.7-0 4.6 3.3-1.7 5.4 4.6-3.3 4.6 3.3-1.7-5.4 4.6-3.3-5.7 0zM709.3 443.3l-1.7 5.4-5.7-0 4.6 3.3-1.7 5.4 4.6-3.3 4.6 3.3-1.7-5.4 4.6-3.3-5.7 0zM709.4 443.8l-1.7 5.4-5.7-0 4.6 3.3-1.7 5.4 4.6-3.3 4.6 3.3-1.7-5.4 4.6-3.3-5.7 0zM709.6 444.4l-1.7 5.4-5.7-0 4.6 3.3-1.7 5.4 4.6-3.3 4.6 3.3-1.7-5.4 4.6-3.3-5.7 0zM709.7 445l-1.7 5.4-5.7-0 4.6 3.3-1.7 5.4 4.6-3.3 4.6 3.3-1.7-5.4 4.6-3.3-5.7 0zM709.8 445.6l-1.7 5.4-5.7-0 4.6 3.3-1.7 5.4 4.6-3.3 4.6 3.3-1.7-5.4 4.6-3.3-5.7 0zM710 446.1l-1.7 5.4-5.7-0 4.6 3.3-1.7 5.4 4.6-3.3 4.6 3.3-1.7-5.4 4.6-3.3-5.7 0zM710.1 446.7l-1.7 5.4-5.7-0 4.6 3.3-1.7 5.4 4.6-3.3 4.6 3.3-1.7-5.4 4.6-3.3-5.7 0zM710.2 447.3l-1.7 5.4-5.7-0 4.6 3.3-1.7 5.4 4.6-3.3 4.6 3.3-1.7-5.4 4.6-3.3-5.7 0zM710.4 447.8l-1.7 5.4-5.7-0 4.6 3.3-1.7 5.4 4.6-3.3 4.6 3.3-1.7-5.4 4.6-3.3-5.7 0zM710.5 448.4l-1.7 5.4-5.7-0 4.6 3.3-1.7 5.4 4.6-3.3 4.6 3.3-1.7-5.4 4.6-3.3-5.7 0zM710.6 449l-1.7 5.4-5.7-0 4.6 3.3-1.7 5.4 4.6-3.3 4.6 3.3-1.7-5.4 4.6-3.3-5.7 0zM710.8 449.5l-1.7 5.4-5.7-0 4.6 3.3-1.7 5.4 4.6-3.3 4.6 3.3-1.7-5.4 4.6-3.3-5.7 0zM710.9 450.1l-1.7 5.4-5.7-0 4.6 3.3-1.7 5.4 4.6-3.3 4.6 3.3-1.7-5.4 4.6-3.3-5.7 0zM711 450.7l-1.7 5.4-5.7-0 4.6 3.3-1.7 5.4 4.6-3.3 4.6 3.3-1.7-5.4 4.6-3.3-5.7 0zM711.2 451.2l-1.7 5.4-5.7-0 4.6 3.3-1.7 5.4 4.6-3.3 4.6 3.3-1.7-5.4 4.6-3.3-5.7 0zM711.3 451.8l-1.7 5.4-5.7-0 4.6 3.3-1.7 5.4 4.6-3.3 4.6 3.3-1.7-5.4 4.6-3.3-5.7 0zM711.4 452.4l-1.7 5.4-5.7-0 4.6 3.3-1.7 5.4 4.6-3.3 4.6 3.3-1.7-5.4 4.6-3.3-5.7 0zM711.6 452.9l-1.7 5.4-5.7-0 4.6 3.3-1.7 5.4 4.6-3.3 4.6 3.3-1.7-5.4 4.6-3.3-5.7 0zM711.7 453.5l-1.7 5.4-5.7-0 4.6 3.3-1.7 5.4 4.6-3.3 4.6 3.3-1.7-5.4 4.6-3.3-5.7 0zM711.8 454.1l-1.7 5.4-5.7-0 4.6 3.3-1.7 5.4 4.6-3.3 4.6 3.3-1.7-5.4 4.6-3.3-5.7 0zM712 454.6l-1.7 5.4-5.7-0 4.6 3.3-1.7 5.4 4.6-3.3 4.6 3.3-1.7-5.4 4.6-3.3-5.7 0zM712.1 455.2l-1.7 5.4-5.7-0 4.6 3.3-1.7 5.4 4.6-3.3 4.6 3.3-1.7-5.4 4.6-3.3-5.7 0zM712.2 455.8l-1.7 5.4-5.7-0 4.6 3.3-1.7 5.4 4.6-3.3 4.6 3.3-1.7-5.4 4.6-3.3-5.7 0zM712.4 456.4l-1.7 5.4-5.7-0 4.6 3.3-1.7 5.4 4.6-3.3 4.6 3.3-1.7-5.4 4.6-3.3-5.7 0zM712.5 456.9l-1.7 5.4-5.7-0 4.6 3.3-1.7 5.4 4.6-3.3 4.6 3.3-1.7-5.4 4.6-3.3-5.7 0zM712.6 457.5l-1.7 5.4-5.7-0 4.6 3.3-1.7 5.4 4.6-3.3 4.6 3.3-1.7-5.4 4.6-3.3-5.7 0zM712.7 458.1l-1.7 5.4-5.7-0 4.6 3.3-1.7 5.4 4.6-3.3 4.6 3.3-1.7-5.4 4.6-3.3-5.7 0zM712.9 458.6l-1.7 5.4-5.7-0 4.6 3.3-1.7 5.4 4.6-3.3 4.6 3.3-1.7-5.4 4.6-3.3-5.7 0zM713 459.2l-1.7 5.4-5.7-0 4.6 3.3-1.7 5.4 4.6-3.3 4.6 3.3-1.7-5.4 4.6-3.3-5.7 0zM713.1 459.8l-1.7 5.4-5.7-0 4.6 3.3-1.7 5.4 4.6-3.3 4.6 3.3-1.7-5.4 4.6-3.3-5.7 0zM713.3 460.3l-1.7 5.4-5.7-0 4.6 3.3-1.7 5.4 4.6-3.3 4.6 3.3-1.7-5.4 4.6-3.3-5.7 0zM713.4 460.9l-1.7 5.4-5.7-0 4.6 3.3-1.7 5.4 4.6-3.3 4.6 3.3-1.7-5.4 4.6-3.3-5.7 0zM713.5 461.5l-1.7 5.4-5.7-0 4.6 3.3-1.7 5.4 4.6-3.3 4.6 3.3-1.7-5.4 4.6-3.3-5.7 0zM713.7 462l-1.7 5.4-5.7-0 4.6 3.3-1.7 5.4 4.6-3.3 4.6 3.3-1.7-5.4 4.6-3.3-5.7 0zM713.8 462.6l-1.7 5.4-5.7-0 4.6 3.3-1.7 5.4 4.6-3.3 4.6 3.3-1.7-5.4 4.6-3.3-5.7 0zM713.9 463.2l-1.7 5.4-5.7-0 4.6 3.3-1.7 5.4 4.6-3.3 4.6 3.3-1.7-5.4 4.6-3.3-5.7 0zM714.1 463.7l-1.7 5.4-5.7-0 4.6 3.3-1.7 5.4 4.6-3.3 4.6 3.3-1.7-5.4 4.6-3.3-5.7 0zM714.2 464.3l-1.7 5.4-5.7-0 4.6 3.3-1.7 5.4 4.6-3.3 4.6 3.3-1.7-5.4 4.6-3.3-5.7 0zM714.3 464.9l-1.7 5.4-5.7-0 4.6 3.3-1.7 5.4 4.6-3.3 4.6 3.3-1.7-5.4 4.6-3.3-5.7 0zM714.4 465.5l-1.7 5.4-5.7-0 4.6 3.3-1.7 5.4 4.6-3.3 4.6 3.3-1.7-5.4 4.6-3.3-5.7 0zM714.6 466l-1.7 5.4-5.7-0 4.6 3.3-1.7 5.4 4.6-3.3 4.6 3.3-1.7-5.4 4.6-3.3-5.7 0zM714.7 466.6l-1.7 5.4-5.7-0 4.6 3.3-1.7 5.4 4.6-3.3 4.6 3.3-1.7-5.4 4.6-3.3-5.7 0zM714.8 467.2l-1.7 5.4-5.7-0 4.6 3.3-1.7 5.4 4.6-3.3 4.6 3.3-1.7-5.4 4.6-3.3-5.7 0zM715 467.7l-1.7 5.4-5.7-0 4.6 3.3-1.7 5.4 4.6-3.3 4.6 3.3-1.7-5.4 4.6-3.3-5.7 0zM715.1 468.3l-1.7 5.4-5.7-0 4.6 3.3-1.7 5.4 4.6-3.3 4.6 3.3-1.7-5.4 4.6-3.3-5.7 0zM715.2 468.9l-1.7 5.4-5.7-0 4.6 3.3-1.7 5.4 4.6-3.3 4.6 3.3-1.7-5.4 4.6-3.3-5.7 0zM715.3 469.4l-1.7 5.4-5.7-0 4.6 3.3-1.7 5.4 4.6-3.3 4.6 3.3-1.7-5.4 4.6-3.3-5.7 0zM715.5 470l-1.7 5.4-5.7-0 4.6 3.3-1.7 5.4 4.6-3.3 4.6 3.3-1.7-5.4 4.6-3.3-5.7 0zM715.6 470.6l-1.7 5.4-5.7-0 4.6 3.3-1.7 5.4 4.6-3.3 4.6 3.3-1.7-5.4 4.6-3.3-5.7 0zM715.7 471.2l-1.7 5.4-5.7-0 4.6 3.3-1.7 5.4 4.6-3.3 4.6 3.3-1.7-5.4 4.6-3.3-5.7 0zM715.8 471.7l-1.7 5.4-5.7-0 4.6 3.3-1.7 5.4 4.6-3.3 4.6 3.3-1.7-5.4 4.6-3.3-5.7 0zM716 472.3l-1.7 5.4-5.7-0 4.6 3.3-1.7 5.4 4.6-3.3 4.6 3.3-1.7-5.4 4.6-3.3-5.7 0zM716.1 472.9l-1.7 5.4-5.7-0 4.6 3.3-1.7 5.4 4.6-3.3 4.6 3.3-1.7-5.4 4.6-3.3-5.7 0zM716.2 473.4l-1.7 5.4-5.7-0 4.6 3.3-1.7 5.4 4.6-3.3 4.6 3.3-1.7-5.4 4.6-3.3-5.7 0zM716.4 474l-1.7 5.4-5.7-0 4.6 3.3-1.7 5.4 4.6-3.3 4.6 3.3-1.7-5.4 4.6-3.3-5.7 0zM716.5 474.6l-1.7 5.4-5.7-0 4.6 3.3-1.7 5.4 4.6-3.3 4.6 3.3-1.7-5.4 4.6-3.3-5.7 0zM716.6 475.1l-1.7 5.4-5.7-0 4.6 3.3-1.7 5.4 4.6-3.3 4.6 3.3-1.7-5.4 4.6-3.3-5.7 0zM716.7 475.7l-1.7 5.4-5.7-0 4.6 3.3-1.7 5.4 4.6-3.3 4.6 3.3-1.7-5.4 4.6-3.3-5.7 0zM716.9 476.3l-1.7 5.4-5.7-0 4.6 3.3-1.7 5.4 4.6-3.3 4.6 3.3-1.7-5.4 4.6-3.3-5.7 0zM717 476.9l-1.7 5.4-5.7-0 4.6 3.3-1.7 5.4 4.6-3.3 4.6 3.3-1.7-5.4 4.6-3.3-5.7 0zM717.1 477.4l-1.7 5.4-5.7-0 4.6 3.3-1.7 5.4 4.6-3.3 4.6 3.3-1.7-5.4 4.6-3.3-5.7 0zM717.2 478l-1.7 5.4-5.7-0 4.6 3.3-1.7 5.4 4.6-3.3 4.6 3.3-1.7-5.4 4.6-3.3-5.7 0zM717.4 478.6l-1.7 5.4-5.7-0 4.6 3.3-1.7 5.4 4.6-3.3 4.6 3.3-1.7-5.4 4.6-3.3-5.7 0zM717.5 479.1l-1.7 5.4-5.7-0 4.6 3.3-1.7 5.4 4.6-3.3 4.6 3.3-1.7-5.4 4.6-3.3-5.7 0zM717.6 479.7l-1.7 5.4-5.7-0 4.6 3.3-1.7 5.4 4.6-3.3 4.6 3.3-1.7-5.4 4.6-3.3-5.7 0zM717.7 480.3l-1.7 5.4-5.7-0 4.6 3.3-1.7 5.4 4.6-3.3 4.6 3.3-1.7-5.4 4.6-3.3-5.7 0zM717.9 480.9l-1.7 5.4-5.7-0 4.6 3.3-1.7 5.4 4.6-3.3 4.6 3.3-1.7-5.4 4.6-3.3-5.7 0zM718 481.4l-1.7 5.4-5.7-0 4.6 3.3-1.7 5.4 4.6-3.3 4.6 3.3-1.7-5.4 4.6-3.3-5.7 0zM718.1 482l-1.7 5.4-5.7-0 4.6 3.3-1.7 5.4 4.6-3.3 4.6 3.3-1.7-5.4 4.6-3.3-5.7 0zM718.2 482.6l-1.7 5.4-5.7-0 4.6 3.3-1.7 5.4 4.6-3.3 4.6 3.3-1.7-5.4 4.6-3.3-5.7 0zM718.4 483.1l-1.7 5.4-5.7-0 4.6 3.3-1.7 5.4 4.6-3.3 4.6 3.3-1.7-5.4 4.6-3.3-5.7 0zM718.5 483.7l-1.7 5.4-5.7-0 4.6 3.3-1.7 5.4 4.6-3.3 4.6 3.3-1.7-5.4 4.6-3.3-5.7 0zM718.6 484.3l-1.7 5.4-5.7-0 4.6 3.3-1.7 5.4 4.6-3.3 4.6 3.3-1.7-5.4 4.6-3.3-5.7 0zM718.7 484.8l-1.7 5.4-5.7-0 4.6 3.3-1.7 5.4 4.6-3.3 4.6 3.3-1.7-5.4 4.6-3.3-5.7 0zM718.9 485.4l-1.7 5.4-5.7-0 4.6 3.3-1.7 5.4 4.6-3.3 4.6 3.3-1.7-5.4 4.6-3.3-5.7 0zM719 486l-1.7 5.4-5.7-0 4.6 3.3-1.7 5.4 4.6-3.3 4.6 3.3-1.7-5.4 4.6-3.3-5.7 0zM719.1 486.6l-1.7 5.4-5.7-0 4.6 3.3-1.7 5.4 4.6-3.3 4.6 3.3-1.7-5.4 4.6-3.3-5.7 0zM719.2 487.1l-1.7 5.4-5.7-0 4.6 3.3-1.7 5.4 4.6-3.3 4.6 3.3-1.7-5.4 4.6-3.3-5.7 0zM719.4 487.7l-1.7 5.4-5.7-0 4.6 3.3-1.7 5.4 4.6-3.3 4.6 3.3-1.7-5.4 4.6-3.3-5.7 0zM719.5 488.3l-1.7 5.4-5.7-0 4.6 3.3-1.7 5.4 4.6-3.3 4.6 3.3-1.7-5.4 4.6-3.3-5.7 0zM719.6 488.8l-1.7 5.4-5.7-0 4.6 3.3-1.7 5.4 4.6-3.3 4.6 3.3-1.7-5.4 4.6-3.3-5.7 0zM719.7 489.4l-1.7 5.4-5.7-0 4.6 3.3-1.7 5.4 4.6-3.3 4.6 3.3-1.7-5.4 4.6-3.3-5.7 0zM719.8 490l-1.7 5.4-5.7-0 4.6 3.3-1.7 5.4 4.6-3.3 4.6 3.3-1.7-5.4 4.6-3.3-5.7 0zM720 490.6l-1.7 5.4-5.7-0 4.6 3.3-1.7 5.4 4.6-3.3 4.6 3.3-1.7-5.4 4.6-3.3-5.7 0zM720.1 491.1l-1.7 5.4-5.7-0 4.6 3.3-1.7 5.4 4.6-3.3 4.6 3.3-1.7-5.4 4.6-3.3-5.7 0zM720.2 491.7l-1.7 5.4-5.7-0 4.6 3.3-1.7 5.4 4.6-3.3 4.6 3.3-1.7-5.4 4.6-3.3-5.7 0zM720.3 492.3l-1.7 5.4-5.7-0 4.6 3.3-1.7 5.4 4.6-3.3 4.6 3.3-1.7-5.4 4.6-3.3-5.7 0zM720.5 492.8l-1.7 5.4-5.7-0 4.6 3.3-1.7 5.4 4.6-3.3 4.6 3.3-1.7-5.4 4.6-3.3-5.7 0zM720.6 493.4l-1.7 5.4-5.7-0 4.6 3.3-1.7 5.4 4.6-3.3 4.6 3.3-1.7-5.4 4.6-3.3-5.7 0zM720.7 494l-1.7 5.4-5.7-0 4.6 3.3-1.7 5.4 4.6-3.3 4.6 3.3-1.7-5.4 4.6-3.3-5.7 0zM720.8 494.6l-1.7 5.4-5.7-0 4.6 3.3-1.7 5.4 4.6-3.3 4.6 3.3-1.7-5.4 4.6-3.3-5.7 0zM720.9 495.1l-1.7 5.4-5.7-0 4.6 3.3-1.7 5.4 4.6-3.3 4.6 3.3-1.7-5.4 4.6-3.3-5.7 0zM721.1 495.7l-1.7 5.4-5.7-0 4.6 3.3-1.7 5.4 4.6-3.3 4.6 3.3-1.7-5.4 4.6-3.3-5.7 0zM721.2 496.3l-1.7 5.4-5.7-0 4.6 3.3-1.7 5.4 4.6-3.3 4.6 3.3-1.7-5.4 4.6-3.3-5.7 0zM721.3 496.8l-1.7 5.4-5.7-0 4.6 3.3-1.7 5.4 4.6-3.3 4.6 3.3-1.7-5.4 4.6-3.3-5.7 0zM721.4 497.4l-1.7 5.4-5.7-0 4.6 3.3-1.7 5.4 4.6-3.3 4.6 3.3-1.7-5.4 4.6-3.3-5.7 0zM721.5 498l-1.7 5.4-5.7-0 4.6 3.3-1.7 5.4 4.6-3.3 4.6 3.3-1.7-5.4 4.6-3.3-5.7 0zM721.7 498.6l-1.7 5.4-5.7-0 4.6 3.3-1.7 5.4 4.6-3.3 4.6 3.3-1.7-5.4 4.6-3.3-5.7 0zM721.8 499.1l-1.7 5.4-5.7-0 4.6 3.3-1.7 5.4 4.6-3.3 4.6 3.3-1.7-5.4 4.6-3.3-5.7 0zM721.9 499.7l-1.7 5.4-5.7-0 4.6 3.3-1.7 5.4 4.6-3.3 4.6 3.3-1.7-5.4 4.6-3.3-5.7 0zM722 500.3l-1.7 5.4-5.7-0 4.6 3.3-1.7 5.4 4.6-3.3 4.6 3.3-1.7-5.4 4.6-3.3-5.7 0zM722.1 500.9l-1.7 5.4-5.7-0 4.6 3.3-1.7 5.4 4.6-3.3 4.6 3.3-1.7-5.4 4.6-3.3-5.7 0zM722.3 501.4l-1.7 5.4-5.7-0 4.6 3.3-1.7 5.4 4.6-3.3 4.6 3.3-1.7-5.4 4.6-3.3-5.7 0zM722.4 502l-1.7 5.4-5.7-0 4.6 3.3-1.7 5.4 4.6-3.3 4.6 3.3-1.7-5.4 4.6-3.3-5.7 0zM722.5 502.6l-1.7 5.4-5.7-0 4.6 3.3-1.7 5.4 4.6-3.3 4.6 3.3-1.7-5.4 4.6-3.3-5.7 0zM722.6 503.1l-1.7 5.4-5.7-0 4.6 3.3-1.7 5.4 4.6-3.3 4.6 3.3-1.7-5.4 4.6-3.3-5.7 0zM722.7 503.7l-1.7 5.4-5.7-0 4.6 3.3-1.7 5.4 4.6-3.3 4.6 3.3-1.7-5.4 4.6-3.3-5.7 0zM722.9 504.3l-1.7 5.4-5.7-0 4.6 3.3-1.7 5.4 4.6-3.3 4.6 3.3-1.7-5.4 4.6-3.3-5.7 0zM723 504.9l-1.7 5.4-5.7-0 4.6 3.3-1.7 5.4 4.6-3.3 4.6 3.3-1.7-5.4 4.6-3.3-5.7 0zM723.1 505.4l-1.7 5.4-5.7-0 4.6 3.3-1.7 5.4 4.6-3.3 4.6 3.3-1.7-5.4 4.6-3.3-5.7 0zM723.2 506l-1.7 5.4-5.7-0 4.6 3.3-1.7 5.4 4.6-3.3 4.6 3.3-1.7-5.4 4.6-3.3-5.7 0zM723.3 506.6l-1.7 5.4-5.7-0 4.6 3.3-1.7 5.4 4.6-3.3 4.6 3.3-1.7-5.4 4.6-3.3-5.7 0zM723.5 507.1l-1.7 5.4-5.7-0 4.6 3.3-1.7 5.4 4.6-3.3 4.6 3.3-1.7-5.4 4.6-3.3-5.7 0zM723.6 507.7l-1.7 5.4-5.7-0 4.6 3.3-1.7 5.4 4.6-3.3 4.6 3.3-1.7-5.4 4.6-3.3-5.7 0zM723.7 508.3l-1.7 5.4-5.7-0 4.6 3.3-1.7 5.4 4.6-3.3 4.6 3.3-1.7-5.4 4.6-3.3-5.7 0zM723.8 508.9l-1.7 5.4-5.7-0 4.6 3.3-1.7 5.4 4.6-3.3 4.6 3.3-1.7-5.4 4.6-3.3-5.7 0zM723.9 509.4l-1.7 5.4-5.7-0 4.6 3.3-1.7 5.4 4.6-3.3 4.6 3.3-1.7-5.4 4.6-3.3-5.7 0zM724 510l-1.7 5.4-5.7-0 4.6 3.3-1.7 5.4 4.6-3.3 4.6 3.3-1.7-5.4 4.6-3.3-5.7 0zM724.2 510.6l-1.7 5.4-5.7-0 4.6 3.3-1.7 5.4 4.6-3.3 4.6 3.3-1.7-5.4 4.6-3.3-5.7 0zM724.3 511.2l-1.7 5.4-5.7-0 4.6 3.3-1.7 5.4 4.6-3.3 4.6 3.3-1.7-5.4 4.6-3.3-5.7 0zM724.4 511.7l-1.7 5.4-5.7-0 4.6 3.3-1.7 5.4 4.6-3.3 4.6 3.3-1.7-5.4 4.6-3.3-5.7 0zM724.5 512.3l-1.7 5.4-5.7-0 4.6 3.3-1.7 5.4 4.6-3.3 4.6 3.3-1.7-5.4 4.6-3.3-5.7 0zM724.6 512.9l-1.7 5.4-5.7-0 4.6 3.3-1.7 5.4 4.6-3.3 4.6 3.3-1.7-5.4 4.6-3.3-5.7 0zM724.8 513.4l-1.7 5.4-5.7-0 4.6 3.3-1.7 5.4 4.6-3.3 4.6 3.3-1.7-5.4 4.6-3.3-5.7 0zM724.9 514l-1.7 5.4-5.7-0 4.6 3.3-1.7 5.4 4.6-3.3 4.6 3.3-1.7-5.4 4.6-3.3-5.7 0zM725 514.6l-1.7 5.4-5.7-0 4.6 3.3-1.7 5.4 4.6-3.3 4.6 3.3-1.7-5.4 4.6-3.3-5.7 0zM725.1 515.2l-1.7 5.4-5.7-0 4.6 3.3-1.7 5.4 4.6-3.3 4.6 3.3-1.7-5.4 4.6-3.3-5.7 0zM725.2 515.7l-1.7 5.4-5.7-0 4.6 3.3-1.7 5.4 4.6-3.3 4.6 3.3-1.7-5.4 4.6-3.3-5.7 0zM725.3 516.3l-1.7 5.4-5.7-0 4.6 3.3-1.7 5.4 4.6-3.3 4.6 3.3-1.7-5.4 4.6-3.3-5.7 0zM725.5 516.9l-1.7 5.4-5.7-0 4.6 3.3-1.7 5.4 4.6-3.3 4.6 3.3-1.7-5.4 4.6-3.3-5.7 0zM725.6 517.5l-1.7 5.4-5.7-0 4.6 3.3-1.7 5.4 4.6-3.3 4.6 3.3-1.7-5.4 4.6-3.3-5.7 0zM725.7 518l-1.7 5.4-5.7-0 4.6 3.3-1.7 5.4 4.6-3.3 4.6 3.3-1.7-5.4 4.6-3.3-5.7 0zM725.8 518.6l-1.7 5.4-5.7-0 4.6 3.3-1.7 5.4 4.6-3.3 4.6 3.3-1.7-5.4 4.6-3.3-5.7 0zM725.9 519.2l-1.7 5.4-5.7-0 4.6 3.3-1.7 5.4 4.6-3.3 4.6 3.3-1.7-5.4 4.6-3.3-5.7 0zM726 519.8l-1.7 5.4-5.7-0 4.6 3.3-1.7 5.4 4.6-3.3 4.6 3.3-1.7-5.4 4.6-3.3-5.7 0zM726.1 520.3l-1.7 5.4-5.7-0 4.6 3.3-1.7 5.4 4.6-3.3 4.6 3.3-1.7-5.4 4.6-3.3-5.7 0zM726.3 520.9l-1.7 5.4-5.7-0 4.6 3.3-1.7 5.4 4.6-3.3 4.6 3.3-1.7-5.4 4.6-3.3-5.7 0zM726.4 521.5l-1.7 5.4-5.7-0 4.6 3.3-1.7 5.4 4.6-3.3 4.6 3.3-1.7-5.4 4.6-3.3-5.7 0zM726.5 522l-1.7 5.4-5.7-0 4.6 3.3-1.7 5.4 4.6-3.3 4.6 3.3-1.7-5.4 4.6-3.3-5.7 0zM726.6 522.6l-1.7 5.4-5.7-0 4.6 3.3-1.7 5.4 4.6-3.3 4.6 3.3-1.7-5.4 4.6-3.3-5.7 0zM726.7 523.2l-1.7 5.4-5.7-0 4.6 3.3-1.7 5.4 4.6-3.3 4.6 3.3-1.7-5.4 4.6-3.3-5.7 0zM726.8 523.8l-1.7 5.4-5.7-0 4.6 3.3-1.7 5.4 4.6-3.3 4.6 3.3-1.7-5.4 4.6-3.3-5.7 0zM727 524.3l-1.7 5.4-5.7-0 4.6 3.3-1.7 5.4 4.6-3.3 4.6 3.3-1.7-5.4 4.6-3.3-5.7 0zM727.1 524.9l-1.7 5.4-5.7-0 4.6 3.3-1.7 5.4 4.6-3.3 4.6 3.3-1.7-5.4 4.6-3.3-5.7 0zM727.2 525.5l-1.7 5.4-5.7-0 4.6 3.3-1.7 5.4 4.6-3.3 4.6 3.3-1.7-5.4 4.6-3.3-5.7 0zM727.3 526.1l-1.7 5.4-5.7-0 4.6 3.3-1.7 5.4 4.6-3.3 4.6 3.3-1.7-5.4 4.6-3.3-5.7 0zM727.4 526.6l-1.7 5.4-5.7-0 4.6 3.3-1.7 5.4 4.6-3.3 4.6 3.3-1.7-5.4 4.6-3.3-5.7 0zM727.5 527.2l-1.7 5.4-5.7-0 4.6 3.3-1.7 5.4 4.6-3.3 4.6 3.3-1.7-5.4 4.6-3.3-5.7 0zM727.6 527.8l-1.7 5.4-5.7-0 4.6 3.3-1.7 5.4 4.6-3.3 4.6 3.3-1.7-5.4 4.6-3.3-5.7 0zM727.8 528.4l-1.7 5.4-5.7-0 4.6 3.3-1.7 5.4 4.6-3.3 4.6 3.3-1.7-5.4 4.6-3.3-5.7 0zM727.9 528.9l-1.7 5.4-5.7-0 4.6 3.3-1.7 5.4 4.6-3.3 4.6 3.3-1.7-5.4 4.6-3.3-5.7 0zM728 529.5l-1.7 5.4-5.7-0 4.6 3.3-1.7 5.4 4.6-3.3 4.6 3.3-1.7-5.4 4.6-3.3-5.7 0zM728.1 530.1l-1.7 5.4-5.7-0 4.6 3.3-1.7 5.4 4.6-3.3 4.6 3.3-1.7-5.4 4.6-3.3-5.7 0zM728.2 530.6l-1.7 5.4-5.7-0 4.6 3.3-1.7 5.4 4.6-3.3 4.6 3.3-1.7-5.4 4.6-3.3-5.7 0zM728.3 531.2l-1.7 5.4-5.7-0 4.6 3.3-1.7 5.4 4.6-3.3 4.6 3.3-1.7-5.4 4.6-3.3-5.7 0zM728.4 531.8l-1.7 5.4-5.7-0 4.6 3.3-1.7 5.4 4.6-3.3 4.6 3.3-1.7-5.4 4.6-3.3-5.7 0zM728.5 532.4l-1.7 5.4-5.7-0 4.6 3.3-1.7 5.4 4.6-3.3 4.6 3.3-1.7-5.4 4.6-3.3-5.7 0zM728.7 532.9l-1.7 5.4-5.7-0 4.6 3.3-1.7 5.4 4.6-3.3 4.6 3.3-1.7-5.4 4.6-3.3-5.7 0zM728.8 533.5l-1.7 5.4-5.7-0 4.6 3.3-1.7 5.4 4.6-3.3 4.6 3.3-1.7-5.4 4.6-3.3-5.7 0zM728.9 534.1l-1.7 5.4-5.7-0 4.6 3.3-1.7 5.4 4.6-3.3 4.6 3.3-1.7-5.4 4.6-3.3-5.7 0zM729 534.7l-1.7 5.4-5.7-0 4.6 3.3-1.7 5.4 4.6-3.3 4.6 3.3-1.7-5.4 4.6-3.3-5.7 0zM729.1 535.2l-1.7 5.4-5.7-0 4.6 3.3-1.7 5.4 4.6-3.3 4.6 3.3-1.7-5.4 4.6-3.3-5.7 0zM729.2 535.8l-1.7 5.4-5.7-0 4.6 3.3-1.7 5.4 4.6-3.3 4.6 3.3-1.7-5.4 4.6-3.3-5.7 0zM729.3 536.4l-1.7 5.4-5.7-0 4.6 3.3-1.7 5.4 4.6-3.3 4.6 3.3-1.7-5.4 4.6-3.3-5.7 0zM729.4 537l-1.7 5.4-5.7-0 4.6 3.3-1.7 5.4 4.6-3.3 4.6 3.3-1.7-5.4 4.6-3.3-5.7 0zM729.6 537.5l-1.7 5.4-5.7-0 4.6 3.3-1.7 5.4 4.6-3.3 4.6 3.3-1.7-5.4 4.6-3.3-5.7 0zM729.7 538.1l-1.7 5.4-5.7-0 4.6 3.3-1.7 5.4 4.6-3.3 4.6 3.3-1.7-5.4 4.6-3.3-5.7 0zM729.8 538.7l-1.7 5.4-5.7-0 4.6 3.3-1.7 5.4 4.6-3.3 4.6 3.3-1.7-5.4 4.6-3.3-5.7 0zM729.9 539.3l-1.7 5.4-5.7-0 4.6 3.3-1.7 5.4 4.6-3.3 4.6 3.3-1.7-5.4 4.6-3.3-5.7 0zM730 539.8l-1.7 5.4-5.7-0 4.6 3.3-1.7 5.4 4.6-3.3 4.6 3.3-1.7-5.4 4.6-3.3-5.7 0zM730.1 540.4l-1.7 5.4-5.7-0 4.6 3.3-1.7 5.4 4.6-3.3 4.6 3.3-1.7-5.4 4.6-3.3-5.7 0zM730.2 541l-1.7 5.4-5.7-0 4.6 3.3-1.7 5.4 4.6-3.3 4.6 3.3-1.7-5.4 4.6-3.3-5.7 0zM730.3 541.6l-1.7 5.4-5.7-0 4.6 3.3-1.7 5.4 4.6-3.3 4.6 3.3-1.7-5.4 4.6-3.3-5.7 0zM730.4 542.1l-1.7 5.4-5.7-0 4.6 3.3-1.7 5.4 4.6-3.3 4.6 3.3-1.7-5.4 4.6-3.3-5.7 0zM730.6 542.7l-1.7 5.4-5.7-0 4.6 3.3-1.7 5.4 4.6-3.3 4.6 3.3-1.7-5.4 4.6-3.3-5.7 0zM730.7 543.3l-1.7 5.4-5.7-0 4.6 3.3-1.7 5.4 4.6-3.3 4.6 3.3-1.7-5.4 4.6-3.3-5.7 0zM730.8 543.9l-1.7 5.4-5.7-0 4.6 3.3-1.7 5.4 4.6-3.3 4.6 3.3-1.7-5.4 4.6-3.3-5.7 0zM730.9 544.4l-1.7 5.4-5.7-0 4.6 3.3-1.7 5.4 4.6-3.3 4.6 3.3-1.7-5.4 4.6-3.3-5.7 0zM731 545l-1.7 5.4-5.7-0 4.6 3.3-1.7 5.4 4.6-3.3 4.6 3.3-1.7-5.4 4.6-3.3-5.7 0zM731.1 545.6l-1.7 5.4-5.7-0 4.6 3.3-1.7 5.4 4.6-3.3 4.6 3.3-1.7-5.4 4.6-3.3-5.7 0zM731.2 546.2l-1.7 5.4-5.7-0 4.6 3.3-1.7 5.4 4.6-3.3 4.6 3.3-1.7-5.4 4.6-3.3-5.7 0zM731.3 546.7l-1.7 5.4-5.7-0 4.6 3.3-1.7 5.4 4.6-3.3 4.6 3.3-1.7-5.4 4.6-3.3-5.7 0zM731.4 547.3l-1.7 5.4-5.7-0 4.6 3.3-1.7 5.4 4.6-3.3 4.6 3.3-1.7-5.4 4.6-3.3-5.7 0zM731.6 547.9l-1.7 5.4-5.7-0 4.6 3.3-1.7 5.4 4.6-3.3 4.6 3.3-1.7-5.4 4.6-3.3-5.7 0zM731.7 548.5l-1.7 5.4-5.7-0 4.6 3.3-1.7 5.4 4.6-3.3 4.6 3.3-1.7-5.4 4.6-3.3-5.7 0zM731.8 549l-1.7 5.4-5.7-0 4.6 3.3-1.7 5.4 4.6-3.3 4.6 3.3-1.7-5.4 4.6-3.3-5.7 0zM731.9 549.6l-1.7 5.4-5.7-0 4.6 3.3-1.7 5.4 4.6-3.3 4.6 3.3-1.7-5.4 4.6-3.3-5.7 0zM732 550.2l-1.7 5.4-5.7-0 4.6 3.3-1.7 5.4 4.6-3.3 4.6 3.3-1.7-5.4 4.6-3.3-5.7 0zM732.1 550.8l-1.7 5.4-5.7-0 4.6 3.3-1.7 5.4 4.6-3.3 4.6 3.3-1.7-5.4 4.6-3.3-5.7 0zM732.2 551.3l-1.7 5.4-5.7-0 4.6 3.3-1.7 5.4 4.6-3.3 4.6 3.3-1.7-5.4 4.6-3.3-5.7 0zM732.3 551.9l-1.7 5.4-5.7-0 4.6 3.3-1.7 5.4 4.6-3.3 4.6 3.3-1.7-5.4 4.6-3.3-5.7 0zM732.4 552.5l-1.7 5.4-5.7-0 4.6 3.3-1.7 5.4 4.6-3.3 4.6 3.3-1.7-5.4 4.6-3.3-5.7 0zM732.5 553l-1.7 5.4-5.7-0 4.6 3.3-1.7 5.4 4.6-3.3 4.6 3.3-1.7-5.4 4.6-3.3-5.7 0zM732.6 553.6l-1.7 5.4-5.7-0 4.6 3.3-1.7 5.4 4.6-3.3 4.6 3.3-1.7-5.4 4.6-3.3-5.7 0zM732.8 554.2l-1.7 5.4-5.7-0 4.6 3.3-1.7 5.4 4.6-3.3 4.6 3.3-1.7-5.4 4.6-3.3-5.7 0zM732.9 554.8l-1.7 5.4-5.7-0 4.6 3.3-1.7 5.4 4.6-3.3 4.6 3.3-1.7-5.4 4.6-3.3-5.7 0zM733 555.4l-1.7 5.4-5.7-0 4.6 3.3-1.7 5.4 4.6-3.3 4.6 3.3-1.7-5.4 4.6-3.3-5.7 0zM733.1 555.9l-1.7 5.4-5.7-0 4.6 3.3-1.7 5.4 4.6-3.3 4.6 3.3-1.7-5.4 4.6-3.3-5.7 0zM733.2 556.5l-1.7 5.4-5.7-0 4.6 3.3-1.7 5.4 4.6-3.3 4.6 3.3-1.7-5.4 4.6-3.3-5.7 0zM733.3 557.1l-1.7 5.4-5.7-0 4.6 3.3-1.7 5.4 4.6-3.3 4.6 3.3-1.7-5.4 4.6-3.3-5.7 0zM733.4 557.7l-1.7 5.4-5.7-0 4.6 3.3-1.7 5.4 4.6-3.3 4.6 3.3-1.7-5.4 4.6-3.3-5.7 0zM733.5 558.2l-1.7 5.4-5.7-0 4.6 3.3-1.7 5.4 4.6-3.3 4.6 3.3-1.7-5.4 4.6-3.3-5.7 0zM733.6 558.8l-1.7 5.4-5.7-0 4.6 3.3-1.7 5.4 4.6-3.3 4.6 3.3-1.7-5.4 4.6-3.3-5.7 0zM733.7 559.4l-1.7 5.4-5.7-0 4.6 3.3-1.7 5.4 4.6-3.3 4.6 3.3-1.7-5.4 4.6-3.3-5.7 0zM733.8 560l-1.7 5.4-5.7-0 4.6 3.3-1.7 5.4 4.6-3.3 4.6 3.3-1.7-5.4 4.6-3.3-5.7 0zM733.9 560.5l-1.7 5.4-5.7-0 4.6 3.3-1.7 5.4 4.6-3.3 4.6 3.3-1.7-5.4 4.6-3.3-5.7 0zM734 561.1l-1.7 5.4-5.7-0 4.6 3.3-1.7 5.4 4.6-3.3 4.6 3.3-1.7-5.4 4.6-3.3-5.7 0zM734.2 561.7l-1.7 5.4-5.7-0 4.6 3.3-1.7 5.4 4.6-3.3 4.6 3.3-1.7-5.4 4.6-3.3-5.7 0zM734.3 562.3l-1.7 5.4-5.7-0 4.6 3.3-1.7 5.4 4.6-3.3 4.6 3.3-1.7-5.4 4.6-3.3-5.7 0zM734.4 562.8l-1.7 5.4-5.7-0 4.6 3.3-1.7 5.4 4.6-3.3 4.6 3.3-1.7-5.4 4.6-3.3-5.7 0zM734.5 563.4l-1.7 5.4-5.7-0 4.6 3.3-1.7 5.4 4.6-3.3 4.6 3.3-1.7-5.4 4.6-3.3-5.7 0zM734.6 564l-1.7 5.4-5.7-0 4.6 3.3-1.7 5.4 4.6-3.3 4.6 3.3-1.7-5.4 4.6-3.3-5.7 0zM734.7 564.6l-1.7 5.4-5.7-0 4.6 3.3-1.7 5.4 4.6-3.3 4.6 3.3-1.7-5.4 4.6-3.3-5.7 0z" fill="#000" stroke="#000" stroke-width="1.94" stroke-linejoin="bevel"/>
</g>
<rect x="104.0" y="78.35" width="644.0" height="503.5" fill="none" stroke="#000" stroke-width="1.75"/>
<path d="M108.85 581.85v6.9M231.85 581.85v6.9M354.85 581.85v6.9M477.85 581.85v6.9M600.85 581.85v6.9M723.85 581.85v6.9M104.0 531.01h-6.9M104.0 473.70h-6.9M104.0 416.39h-6.9M104.0 359.08h-6.9M104.0 301.77h-6.9M104.0 244.47h-6.9M104.0 187.16h-6.9M104.0 129.85h-6.9" stroke="#000" stroke-width="1.6" fill="none"/>
<g><text x="109.20" y="609.30" font-size="21" text-anchor="middle">16.0</text><text x="232.20" y="609.30" font-size="21" text-anchor="middle">16.5</text><text x="355.20" y="609.30" font-size="21" text-anchor="middle">17.0</text><text x="478.20" y="609.30" font-size="21" text-anchor="middle">17.5</text><text x="601.20" y="609.30" font-size="21" text-anchor="middle">18.0</text><text x="724.20" y="609.30" font-size="21" text-anchor="middle">18.5</text><text x="90.70" y="538.21" font-size="21" text-anchor="end">22</text><text x="90.70" y="480.90" font-size="21" text-anchor="end">24</text><text x="90.70" y="423.59" font-size="21" text-anchor="end">26</text><text x="90.70" y="366.28" font-size="21" text-anchor="end">28</text><text x="90.70" y="308.97" font-size="21" text-anchor="end">30</text><text x="90.70" y="251.67" font-size="21" text-anchor="end">32</text><text x="90.70" y="194.36" font-size="21" text-anchor="end">34</text><text x="90.70" y="137.05" font-size="21" text-anchor="end">36</text></g>
<rect x="113.4" y="300.7" width="219.5" height="271.8" rx="3.9" fill="#fff" stroke="#cbcbcb" stroke-width="1.9"/>
<g stroke="#000" fill="none">
<line x1="120.8" y1="318.6" x2="158.0" y2="318.6" stroke-width="1.94" stroke-dasharray="1.94 3.1"/>
<line x1="120.8" y1="348.6" x2="158.0" y2="348.6" stroke-width="1.94" stroke-dasharray="7.1 3.0"/>
<line x1="120.8" y1="378.7" x2="158.0" y2="378.7" stroke-width="1.94" stroke-dasharray="12.1 3.2 1.9 3.2"/>
<line x1="120.8" y1="409.05" x2="158.0" y2="409.05" stroke-width="5.6" stroke-dasharray="5.9 9.2"/>
<line x1="120.8" y1="439.75" x2="158.8" y2="439.75" stroke-width="5.7" stroke-dasharray="21.8 8.4"/>
<line x1="120.8" y1="470" x2="157.0" y2="470" stroke-width="5.8"/>
<line x1="120.45" y1="498.3" x2="159.4" y2="498.3" stroke-width="2.9" stroke-dasharray="2.9 4.8"/>
<line x1="120.45" y1="526.7" x2="159.4" y2="526.7" stroke-width="2.9" stroke-dasharray="2.9 4.8"/>
<line x1="120.8" y1="554.1" x2="158.0" y2="554.1" stroke-width="1.94"/>
</g>
<path d="M139.6 490.5l-1.7 5.4-5.7-0 4.6 3.3-1.7 5.4 4.6-3.3 4.6 3.3-1.7-5.4 4.6-3.3-5.7 0z" fill="#000" stroke="#000" stroke-width="1.94" stroke-linejoin="bevel"/>
<path d="M131.8 526.7l15.6-7.8v15.6z" fill="#000" stroke="#000" stroke-width="1.94" stroke-linejoin="miter"/>
<g><text x="180.00" y="323.30" font-size="19.6" text-anchor="middle" font-style="italic">α</text><text transform="translate(198.00 317.50) scale(1.127 0.764)" y="6.75" font-size="20.5" text-anchor="middle" style="stroke-width:0.6px">=</text><text transform="translate(221.10 317.50) scale(1.19 1.0)" y="6.80" font-size="20.5" text-anchor="middle" style="stroke-width:0.3px">−</text><text x="239.00" y="323.30" font-size="20.5" text-anchor="middle">1</text><text x="250.60" y="323.30" font-size="20.5" text-anchor="middle">0</text><text transform="translate(262.60 312.34) scale(1.19 1.0)" y="4.64" font-size="14.0" text-anchor="middle" style="stroke-width:0.3px">−</text><text x="272.20" y="316.30" font-size="14.0" text-anchor="middle">6</text><text x="180.00" y="353.80" font-size="19.6" text-anchor="middle" font-style="italic">α</text><text transform="translate(197.80 348.00) scale(1.127 0.764)" y="6.75" font-size="20.5" text-anchor="middle" style="stroke-width:0.6px">=</text><text transform="translate(221.10 348.00) scale(1.19 1.0)" y="6.80" font-size="20.5" text-anchor="middle" style="stroke-width:0.3px">−</text><text x="238.80" y="353.80" font-size="20.5" text-anchor="middle">5</text><text transform="translate(256.55 348.25) scale(1.2 1.2)" y="6.83" font-size="20.5" text-anchor="middle" style="stroke-width:0.15px">×</text><text x="274.35" y="353.80" font-size="20.5" text-anchor="middle">1</text><text x="286.25" y="353.80" font-size="20.5" text-anchor="middle">0</text><text transform="translate(297.70 342.84) scale(1.19 1.0)" y="4.64" font-size="14.0" text-anchor="middle" style="stroke-width:0.3px">−</text><text x="307.70" y="346.80" font-size="14.0" text-anchor="middle">6</text><text x="180.00" y="384.10" font-size="19.6" text-anchor="middle" font-style="italic">α</text><text transform="translate(197.80 378.30) scale(1.127 0.764)" y="6.75" font-size="20.5" text-anchor="middle" style="stroke-width:0.6px">=</text><text transform="translate(221.10 378.30) scale(1.19 1.0)" y="6.80" font-size="20.5" text-anchor="middle" style="stroke-width:0.3px">−</text><text x="238.80" y="384.10" font-size="20.5" text-anchor="middle">9</text><text transform="translate(256.55 378.55) scale(1.2 1.2)" y="6.83" font-size="20.5" text-anchor="middle" style="stroke-width:0.15px">×</text><text x="274.35" y="384.10" font-size="20.5" text-anchor="middle">1</text><text x="286.25" y="384.10" font-size="20.5" text-anchor="middle">0</text><text transform="translate(297.70 373.14) scale(1.19 1.0)" y="4.64" font-size="14.0" text-anchor="middle" style="stroke-width:0.3px">−</text><text x="307.70" y="377.10" font-size="14.0" text-anchor="middle">6</text><text x="180.00" y="413.90" font-size="19.6" text-anchor="middle" font-style="italic">α</text><text transform="translate(198.10 408.10) scale(1.127 0.764)" y="6.75" font-size="20.5" text-anchor="middle" style="stroke-width:0.6px">=</text><text transform="translate(221.30 408.10) scale(1.19 1.0)" y="6.80" font-size="20.5" text-anchor="middle" style="stroke-width:0.3px">−</text><text x="238.90" y="413.90" font-size="20.5" text-anchor="middle">1</text><text x="249.90" y="413.90" font-size="20.5" text-anchor="middle">3</text><text transform="translate(268.50 408.35) scale(1.2 1.2)" y="6.83" font-size="20.5" text-anchor="middle" style="stroke-width:0.15px">×</text><text x="286.15" y="413.90" font-size="20.5" text-anchor="middle">1</text><text x="298.30" y="413.90" font-size="20.5" text-anchor="middle">0</text><text transform="translate(310.00 402.94) scale(1.19 1.0)" y="4.64" font-size="14.0" text-anchor="middle" style="stroke-width:0.3px">−</text><text x="319.75" y="406.90" font-size="14.0" text-anchor="middle">6</text><text x="180.00" y="444.30" font-size="19.6" text-anchor="middle" font-style="italic">α</text><text transform="translate(198.10 438.50) scale(1.127 0.764)" y="6.75" font-size="20.5" text-anchor="middle" style="stroke-width:0.6px">=</text><text transform="translate(221.30 438.50) scale(1.19 1.0)" y="6.80" font-size="20.5" text-anchor="middle" style="stroke-width:0.3px">−</text><text x="238.90" y="444.30" font-size="20.5" text-anchor="middle">1</text><text x="249.90" y="444.30" font-size="20.5" text-anchor="middle">7</text><text transform="translate(268.50 438.75) scale(1.2 1.2)" y="6.83" font-size="20.5" text-anchor="middle" style="stroke-width:0.15px">×</text><text x="286.15" y="444.30" font-size="20.5" text-anchor="middle">1</text><text x="298.30" y="444.30" font-size="20.5" text-anchor="middle">0</text><text transform="translate(310.00 433.34) scale(1.19 1.0)" y="4.64" font-size="14.0" text-anchor="middle" style="stroke-width:0.3px">−</text><text x="319.75" y="437.30" font-size="14.0" text-anchor="middle">6</text><text x="180.00" y="475.20" font-size="19.6" text-anchor="middle" font-style="italic">α</text><text transform="translate(198.10 469.40) scale(1.127 0.764)" y="6.75" font-size="20.5" text-anchor="middle" style="stroke-width:0.6px">=</text><text transform="translate(221.30 469.40) scale(1.19 1.0)" y="6.80" font-size="20.5" text-anchor="middle" style="stroke-width:0.3px">−</text><text x="238.90" y="475.20" font-size="20.5" text-anchor="middle">2</text><text x="249.90" y="475.20" font-size="20.5" text-anchor="middle">1</text><text transform="translate(268.50 469.65) scale(1.2 1.2)" y="6.83" font-size="20.5" text-anchor="middle" style="stroke-width:0.15px">×</text><text x="286.15" y="475.20" font-size="20.5" text-anchor="middle">1</text><text x="298.30" y="475.20" font-size="20.5" text-anchor="middle">0</text><text transform="translate(310.00 464.24) scale(1.19 1.0)" y="4.64" font-size="14.0" text-anchor="middle" style="stroke-width:0.3px">−</text><text x="319.75" y="468.20" font-size="14.0" text-anchor="middle">6</text><text x="180.00" y="505.10" font-size="19.6" text-anchor="middle" font-style="italic">α</text><text transform="translate(197.80 499.30) scale(1.127 0.764)" y="6.75" font-size="20.5" text-anchor="middle" style="stroke-width:0.6px">=</text><text transform="translate(221.10 499.30) scale(1.19 1.0)" y="6.80" font-size="20.5" text-anchor="middle" style="stroke-width:0.3px">−</text><text x="238.80" y="505.10" font-size="20.5" text-anchor="middle">3</text><text transform="translate(256.55 499.55) scale(1.2 1.2)" y="6.83" font-size="20.5" text-anchor="middle" style="stroke-width:0.15px">×</text><text x="274.35" y="505.10" font-size="20.5" text-anchor="middle">1</text><text x="286.25" y="505.10" font-size="20.5" text-anchor="middle">0</text><text transform="translate(297.70 494.14) scale(1.19 1.0)" y="4.64" font-size="14.0" text-anchor="middle" style="stroke-width:0.3px">−</text><text x="307.70" y="498.10" font-size="14.0" text-anchor="middle">5</text><text x="180.00" y="533.80" font-size="19.6" text-anchor="middle" font-style="italic">α</text><text transform="translate(197.80 528.00) scale(1.127 0.764)" y="6.75" font-size="20.5" text-anchor="middle" style="stroke-width:0.6px">=</text><text transform="translate(221.10 528.00) scale(1.19 1.0)" y="6.80" font-size="20.5" text-anchor="middle" style="stroke-width:0.3px">−</text><text x="238.80" y="533.80" font-size="20.5" text-anchor="middle">4</text><text transform="translate(256.55 528.25) scale(1.2 1.2)" y="6.83" font-size="20.5" text-anchor="middle" style="stroke-width:0.15px">×</text><text x="274.35" y="533.80" font-size="20.5" text-anchor="middle">1</text><text x="286.25" y="533.80" font-size="20.5" text-anchor="middle">0</text><text transform="translate(297.70 522.84) scale(1.19 1.0)" y="4.64" font-size="14.0" text-anchor="middle" style="stroke-width:0.3px">−</text><text x="307.70" y="526.80" font-size="14.0" text-anchor="middle">5</text><text transform="translate(180.70 560.90) scale(0.94 1)" font-size="20.5" text-anchor="middle">G</text><text transform="translate(195.60 560.90) scale(0.91 1)" font-size="20.5" text-anchor="middle">R</text></g>
<g><text x="483.40" y="387.60" font-size="20.5" text-anchor="middle" font-style="italic">ϕ</text><text x="494.20" y="390.70" font-size="14.4" text-anchor="middle">0</text><text transform="translate(510.90 381.80) scale(1.127 0.764)" y="6.75" font-size="20.5" text-anchor="middle" style="stroke-width:0.6px">=</text><text x="528.00" y="387.60" font-size="20.5" text-anchor="middle">4</text><text transform="translate(545.90 382.05) scale(1.2 1.2)" y="6.83" font-size="20.5" text-anchor="middle" style="stroke-width:0.15px">×</text><text x="563.80" y="387.60" font-size="20.5" text-anchor="middle">1</text><text x="575.30" y="387.60" font-size="20.5" text-anchor="middle">0</text><text transform="translate(587.60 376.24) scale(1.19 1.0)" y="4.64" font-size="14.0" text-anchor="middle" style="stroke-width:0.3px">−</text><text x="597.30" y="380.20" font-size="14.0" text-anchor="middle">5</text><text x="483.60" y="442.90" font-size="20.5" text-anchor="middle" font-style="italic">β</text><text transform="translate(501.10 437.10) scale(1.127 0.764)" y="6.75" font-size="20.5" text-anchor="middle" style="stroke-width:0.6px">=</text><text x="519.10" y="442.90" font-size="20.5" text-anchor="middle">1</text><text x="529.60" y="442.90" font-size="20.5" text-anchor="middle">0</text><text transform="translate(542.90 431.64) scale(1.19 1.0)" y="4.64" font-size="14.0" text-anchor="middle" style="stroke-width:0.3px">−</text><text x="552.20" y="435.60" font-size="14.0" text-anchor="middle">2</text><text x="560.30" y="435.60" font-size="14.0" text-anchor="middle">0</text></g>
<g><text x="370.90" y="635.50" font-size="20.5" text-anchor="middle" font-style="italic">l</text><text transform="translate(377.70 635.50) scale(0.86 1)" font-size="20.5" text-anchor="middle" font-style="italic">o</text><text transform="translate(389.00 635.50) scale(0.95 1)" font-size="20.5" text-anchor="middle" font-style="italic">g</text><text x="401.40" y="638.50" font-size="13.6" text-anchor="middle">1</text><text x="408.90" y="638.50" font-size="13.6" text-anchor="middle">0</text><text x="418.40" y="634.30" font-size="18.2" text-anchor="middle">(</text><text transform="translate(427.30 635.50) scale(0.85 1)" font-size="20.5" text-anchor="middle" font-style="italic">ν</text><text x="436.00" y="634.30" font-size="18.2" text-anchor="middle">)</text><text x="442.60" y="635.50" font-size="20.5" text-anchor="middle" font-style="italic">,</text><text x="464.60" y="635.50" font-size="20.5" text-anchor="middle">H</text><text x="476.90" y="635.50" font-size="20.5" text-anchor="middle">z</text></g>
<g transform="translate(52.6,0) rotate(-90)"><text x="-397.60" y="0.00" font-size="20.5" text-anchor="middle">l</text><text x="-389.10" y="0.00" font-size="20.5" text-anchor="middle">o</text><text x="-377.70" y="0.00" font-size="20.5" text-anchor="middle">g</text><text x="-367.00" y="3.00" font-size="13.2" text-anchor="middle">1</text><text x="-358.40" y="3.00" font-size="13.2" text-anchor="middle">0</text><text x="-349.90" y="-1.50" font-size="18.8" text-anchor="middle">(</text><text x="-340.70" y="0.00" font-size="20.5" text-anchor="middle" font-style="italic">ν</text><text x="-330.00" y="0.00" font-size="20.5" text-anchor="middle" font-style="italic">L</text><text x="-321.50" y="-1.50" font-size="18.8" text-anchor="middle">)</text><text x="-314.40" y="0.00" font-size="20.5" text-anchor="middle">,</text><text x="-296.45" y="-1.70" font-size="18.8" text-anchor="middle">[</text><text x="-264.10" y="-1.70" font-size="18.8" text-anchor="middle">]</text><text transform="translate(-289.80 -10.20) scale(1.1 1)" font-size="14.5" text-anchor="middle" font-style="italic">e</text><text x="-284.00" y="-10.20" font-size="14.5" text-anchor="middle" font-style="italic">r</text><text transform="translate(-276.30 -10.20) scale(1.3 1)" font-size="14.5" text-anchor="middle" font-style="italic">g</text><text x="-280.80" y="5.00" font-size="13.5" text-anchor="middle" font-style="italic">s</text>
<line x1="-270.5" y1="-4.0" x2="-292.7" y2="-4.0" stroke="#000" stroke-width="1.6"/></g>
</svg>
</body></html>
